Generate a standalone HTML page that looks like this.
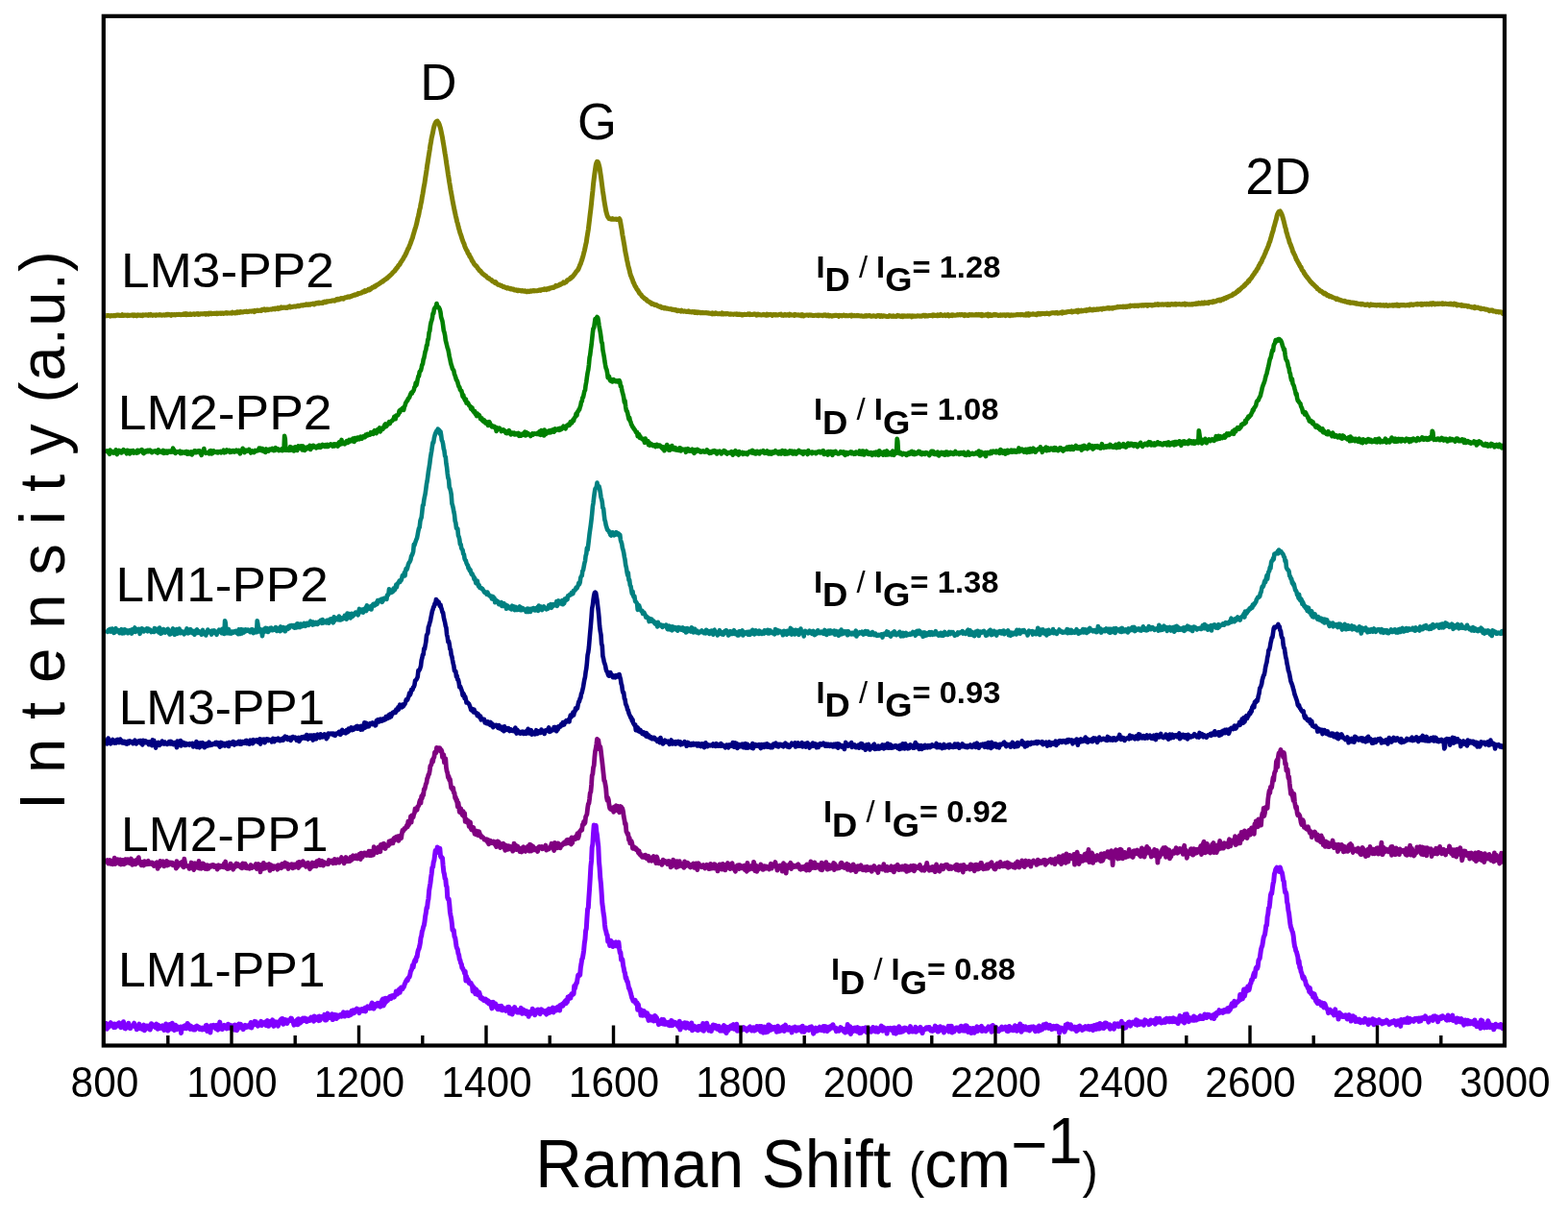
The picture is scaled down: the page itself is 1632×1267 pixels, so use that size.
<!DOCTYPE html>
<html><head><meta charset="utf-8"><style>
html,body{margin:0;padding:0;background:#fff;}
svg{display:block;}
text{font-family:"Liberation Sans",Arial,sans-serif;fill:#000;}
</style></head><body>
<svg width="1632" height="1267" viewBox="0 0 1632 1267">
<rect width="1632" height="1267" fill="#fff"/>
<g id="curves">
<polyline points="110.0,328.8 110.7,328.9 111.3,328.7 112.0,328.5 112.6,328.6 113.3,328.5 114.0,328.8 114.6,329.1 115.3,328.6 115.9,328.5 116.6,328.8 117.3,328.8 117.9,328.7 118.6,328.4 119.2,328.6 119.9,328.8 120.6,328.2 121.2,328.5 121.9,328.0 122.5,328.2 123.2,328.0 123.9,328.5 124.5,328.2 125.2,328.6 125.8,328.6 126.5,328.4 127.2,327.7 127.8,328.3 128.5,328.5 129.1,328.5 129.8,328.0 130.5,328.3 131.1,328.1 131.8,328.2 132.4,328.7 133.1,328.1 133.8,328.4 134.4,328.6 135.1,328.2 135.7,328.3 136.4,328.3 137.1,328.3 137.7,327.9 138.4,328.3 139.0,328.7 139.7,327.8 140.4,328.5 141.0,328.3 141.7,328.0 142.3,328.8 143.0,328.4 143.7,327.8 144.3,328.2 145.0,328.3 145.6,328.1 146.3,328.4 147.0,328.1 147.6,328.3 148.3,328.6 148.9,327.9 149.6,328.2 150.3,328.0 150.9,328.1 151.6,327.7 152.2,327.9 152.9,328.0 153.6,328.3 154.2,328.4 154.9,327.6 155.5,327.8 156.2,328.2 156.9,327.4 157.5,327.9 158.2,328.0 158.8,328.4 159.5,328.2 160.2,327.9 160.8,327.9 161.5,327.9 162.1,328.4 162.8,327.8 163.5,327.9 164.1,328.1 164.8,327.9 165.4,327.9 166.1,327.6 166.8,327.9 167.4,327.8 168.1,328.3 168.7,328.1 169.4,327.9 170.1,328.1 170.7,327.8 171.4,328.2 172.0,327.8 172.7,328.0 173.4,327.4 174.0,327.9 174.7,327.3 175.3,327.2 176.0,327.7 176.7,327.5 177.3,327.8 178.0,328.4 178.6,327.5 179.3,327.5 180.0,327.8 180.6,327.8 181.3,327.6 181.9,327.6 182.6,327.9 183.3,327.8 183.9,327.3 184.6,327.6 185.2,327.6 185.9,327.3 186.6,327.6 187.2,327.3 187.9,327.8 188.5,327.6 189.2,327.5 189.9,327.3 190.5,327.4 191.2,326.8 191.8,327.1 192.5,327.5 193.2,326.7 193.8,327.6 194.5,326.8 195.1,327.5 195.8,327.0 196.5,327.5 197.1,327.3 197.8,326.8 198.4,327.6 199.1,327.6 199.8,327.2 200.4,327.1 201.1,327.1 201.7,326.8 202.4,327.4 203.1,326.9 203.7,327.1 204.4,326.8 205.0,326.8 205.7,326.6 206.4,327.4 207.0,326.9 207.7,327.2 208.3,326.9 209.0,326.7 209.7,326.8 210.3,326.7 211.0,326.9 211.6,326.7 212.3,326.7 213.0,326.4 213.6,326.5 214.3,327.2 214.9,326.5 215.6,326.4 216.3,326.8 216.9,327.1 217.6,326.2 218.2,326.6 218.9,326.4 219.6,326.1 220.2,326.8 220.9,326.5 221.5,326.5 222.2,326.3 222.9,326.6 223.5,326.3 224.2,326.4 224.8,326.1 225.5,326.0 226.2,326.7 226.8,326.2 227.5,326.4 228.1,326.3 228.8,326.1 229.5,326.1 230.1,326.4 230.8,326.1 231.4,326.1 232.1,326.1 232.8,326.4 233.4,326.2 234.1,326.1 234.7,325.8 235.4,325.5 236.1,326.2 236.7,326.2 237.4,325.8 238.0,326.0 238.7,326.0 239.4,326.0 240.0,326.0 240.7,325.5 241.3,326.1 242.0,325.2 242.7,325.8 243.3,325.7 244.0,325.7 244.6,326.0 245.3,325.8 246.0,325.0 246.6,324.8 247.3,325.5 247.9,324.9 248.6,325.2 249.3,325.4 249.9,324.6 250.6,324.4 251.2,325.1 251.9,325.0 252.6,324.8 253.2,324.9 253.9,324.5 254.5,324.3 255.2,324.6 255.9,324.3 256.5,324.1 257.2,324.7 257.8,324.5 258.5,324.5 259.2,324.1 259.8,324.1 260.5,324.0 261.1,323.9 261.8,324.2 262.5,323.8 263.1,324.1 263.8,324.1 264.4,324.5 265.1,323.4 265.8,324.0 266.4,323.7 267.1,323.6 267.7,323.1 268.4,323.4 269.1,323.6 269.7,323.3 270.4,323.3 271.0,323.1 271.7,323.5 272.4,323.1 273.0,322.3 273.7,322.7 274.3,322.3 275.0,321.8 275.7,322.5 276.3,323.0 277.0,322.6 277.6,322.1 278.3,322.1 279.0,322.7 279.6,322.3 280.3,322.2 280.9,322.1 281.6,322.0 282.3,322.2 282.9,322.0 283.6,321.8 284.2,321.4 284.9,321.8 285.6,321.3 286.2,321.8 286.9,321.0 287.5,321.2 288.2,321.2 288.9,320.7 289.5,321.6 290.2,321.4 290.8,320.7 291.5,321.0 292.2,320.8 292.8,319.9 293.5,320.6 294.1,320.5 294.8,320.4 295.5,320.0 296.1,320.2 296.8,320.1 297.4,320.4 298.1,320.1 298.8,319.9 299.4,320.3 300.1,319.6 300.7,319.6 301.4,319.0 302.1,320.0 302.7,319.7 303.4,319.6 304.0,319.5 304.7,319.2 305.4,319.2 306.0,318.9 306.7,318.9 307.3,318.9 308.0,319.2 308.7,318.8 309.3,318.6 310.0,318.3 310.6,318.2 311.3,318.8 312.0,318.4 312.6,318.2 313.3,318.0 313.9,317.7 314.6,317.9 315.3,318.1 315.9,317.6 316.6,317.6 317.2,317.5 317.9,317.5 318.6,316.9 319.2,317.2 319.9,317.0 320.5,317.4 321.2,316.8 321.9,317.1 322.5,317.3 323.2,316.7 323.8,316.5 324.5,316.6 325.2,316.5 325.8,316.1 326.5,316.4 327.1,316.8 327.8,316.0 328.5,315.9 329.1,315.6 329.8,315.9 330.4,315.3 331.1,315.3 331.8,315.9 332.4,315.1 333.1,315.6 333.7,315.6 334.4,315.2 335.1,315.1 335.7,315.5 336.4,314.7 337.0,314.5 337.7,314.1 338.4,314.4 339.0,314.8 339.7,314.5 340.3,313.8 341.0,313.7 341.7,313.7 342.3,313.8 343.0,313.5 343.6,313.6 344.3,313.5 345.0,313.1 345.6,313.1 346.3,313.0 346.9,312.8 347.6,312.9 348.3,313.2 348.9,312.6 349.6,312.3 350.2,311.7 350.9,312.2 351.6,311.3 352.2,311.3 352.9,311.9 353.5,311.7 354.2,311.3 354.9,310.6 355.5,310.9 356.2,310.6 356.8,310.9 357.5,311.2 358.2,310.4 358.8,309.9 359.5,309.7 360.1,309.8 360.8,309.6 361.5,309.1 362.1,309.3 362.8,308.8 363.4,309.3 364.1,309.1 364.8,308.9 365.4,308.2 366.1,308.3 366.7,307.9 367.4,307.6 368.1,307.5 368.7,307.0 369.4,306.7 370.0,307.2 370.7,306.6 371.4,306.5 372.0,306.5 372.7,305.5 373.3,305.5 374.0,305.6 374.7,305.4 375.3,304.9 376.0,305.1 376.6,304.6 377.3,303.9 378.0,303.7 378.6,304.0 379.3,303.6 379.9,302.6 380.6,303.3 381.3,302.8 381.9,302.7 382.6,301.9 383.2,301.6 383.9,301.1 384.6,301.9 385.2,300.7 385.9,300.9 386.5,299.9 387.2,299.8 387.9,299.0 388.5,299.0 389.2,299.0 389.8,298.0 390.5,298.3 391.2,297.7 391.8,296.9 392.5,296.7 393.1,296.3 393.8,296.0 394.5,295.5 395.1,295.0 395.8,294.7 396.4,294.0 397.1,293.5 397.8,293.4 398.4,293.2 399.1,292.0 399.7,292.0 400.4,291.3 401.1,290.7 401.7,290.7 402.4,289.8 403.0,289.8 403.7,288.6 404.4,288.4 405.0,287.6 405.7,286.8 406.3,286.6 407.0,285.8 407.7,285.3 408.3,284.5 409.0,283.5 409.6,283.1 410.3,282.4 411.0,281.9 411.6,280.6 412.3,280.1 412.9,278.8 413.6,278.6 414.3,277.3 414.9,276.2 415.6,275.8 416.2,275.2 416.9,273.4 417.6,272.5 418.2,271.6 418.9,270.4 419.5,269.8 420.2,268.3 420.9,267.1 421.5,266.3 422.2,264.6 422.8,263.6 423.5,261.8 424.2,260.3 424.8,258.7 425.5,258.2 426.1,256.0 426.8,254.5 427.5,252.7 428.1,250.9 428.8,249.0 429.4,247.6 430.1,244.7 430.8,242.4 431.4,240.4 432.1,238.0 432.7,236.2 433.4,233.7 434.1,230.6 434.7,227.7 435.4,225.2 436.0,222.7 436.7,218.4 437.4,216.2 438.0,212.4 438.7,209.6 439.3,205.3 440.0,201.9 440.7,197.7 441.3,193.9 442.0,190.5 442.6,186.2 443.3,181.6 444.0,177.1 444.6,172.5 445.3,168.5 445.9,164.3 446.6,159.9 447.3,155.6 447.9,151.2 448.6,147.5 449.2,143.7 449.9,140.6 450.6,137.6 451.2,134.1 451.9,131.4 452.5,129.6 453.2,127.9 453.9,126.7 454.5,126.4 455.2,126.1 455.8,127.1 456.5,127.9 457.2,129.5 457.8,131.4 458.5,133.7 459.1,136.5 459.8,139.9 460.5,143.3 461.1,147.3 461.8,151.1 462.4,154.9 463.1,159.5 463.8,163.4 464.4,168.0 465.1,172.5 465.7,176.3 466.4,181.3 467.1,185.5 467.7,189.6 468.4,193.6 469.0,197.5 469.7,201.2 470.4,205.1 471.0,208.6 471.7,212.3 472.3,215.2 473.0,218.9 473.7,221.9 474.3,224.8 475.0,227.5 475.6,230.6 476.3,232.5 477.0,235.7 477.6,238.0 478.3,240.3 478.9,242.6 479.6,244.4 480.3,246.5 480.9,248.7 481.6,250.5 482.2,252.3 482.9,253.5 483.6,255.8 484.2,257.5 484.9,259.0 485.5,260.3 486.2,261.1 486.9,263.3 487.5,264.3 488.2,264.8 488.8,266.9 489.5,267.5 490.2,268.7 490.8,270.0 491.5,271.7 492.1,272.2 492.8,273.4 493.5,274.8 494.1,275.7 494.8,276.1 495.4,276.9 496.1,277.4 496.8,278.4 497.4,279.6 498.1,280.3 498.7,281.0 499.4,282.0 500.1,282.1 500.7,283.0 501.4,283.9 502.0,284.5 502.7,285.3 503.4,285.7 504.0,286.1 504.7,286.9 505.3,287.0 506.0,287.4 506.7,288.6 507.3,288.9 508.0,289.5 508.6,289.4 509.3,290.3 510.0,290.7 510.6,291.0 511.3,291.1 511.9,292.1 512.6,292.9 513.3,293.1 513.9,293.2 514.6,293.8 515.2,294.4 515.9,293.7 516.6,294.8 517.2,295.4 517.9,295.8 518.5,296.4 519.2,296.5 519.9,296.6 520.5,296.9 521.2,297.4 521.8,297.2 522.5,297.7 523.2,298.2 523.8,298.8 524.5,298.4 525.1,298.7 525.8,299.0 526.5,299.6 527.1,299.4 527.8,300.1 528.4,299.6 529.1,300.0 529.8,300.2 530.4,300.7 531.1,300.9 531.7,300.3 532.4,300.7 533.1,301.2 533.7,301.1 534.4,301.0 535.0,301.9 535.7,301.9 536.4,302.0 537.0,301.8 537.7,302.4 538.3,302.1 539.0,302.6 539.7,302.1 540.3,302.2 541.0,302.6 541.6,302.4 542.3,302.9 543.0,302.9 543.6,302.6 544.3,302.9 544.9,302.8 545.6,303.3 546.3,302.8 546.9,302.9 547.6,303.4 548.2,303.8 548.9,303.7 549.6,303.1 550.2,303.2 550.9,303.6 551.5,303.1 552.2,302.8 552.9,303.1 553.5,303.2 554.2,302.7 554.8,302.5 555.5,302.5 556.2,303.0 556.8,302.6 557.5,302.7 558.1,302.7 558.8,302.8 559.5,302.4 560.1,302.6 560.8,302.1 561.4,302.1 562.1,301.8 562.8,302.4 563.4,301.9 564.1,301.6 564.7,301.6 565.4,301.5 566.1,301.7 566.7,300.8 567.4,300.9 568.0,300.9 568.7,301.7 569.4,301.0 570.0,300.5 570.7,300.6 571.3,300.9 572.0,300.0 572.7,299.8 573.3,300.1 574.0,299.7 574.6,299.5 575.3,299.0 576.0,299.5 576.6,299.2 577.3,298.7 577.9,298.5 578.6,297.4 579.3,298.0 579.9,297.5 580.6,297.5 581.2,297.3 581.9,296.7 582.6,296.0 583.2,296.4 583.9,295.7 584.5,295.6 585.2,295.2 585.9,294.9 586.5,294.0 587.2,294.7 587.8,294.1 588.5,293.9 589.2,293.8 589.8,292.8 590.5,291.8 591.1,291.7 591.8,291.1 592.5,290.8 593.1,290.5 593.8,289.3 594.4,289.5 595.1,288.3 595.8,288.2 596.4,287.4 597.1,286.6 597.7,285.9 598.4,284.9 599.1,284.0 599.7,282.8 600.4,282.2 601.0,281.7 601.7,280.6 602.4,279.1 603.0,277.6 603.7,275.7 604.3,274.7 605.0,272.5 605.7,270.6 606.3,268.5 607.0,266.3 607.6,263.7 608.3,261.1 609.0,257.9 609.6,254.9 610.3,252.1 610.9,247.6 611.6,243.4 612.3,239.1 612.9,234.2 613.6,228.4 614.2,223.1 614.9,217.6 615.6,211.2 616.2,204.9 616.9,199.0 617.5,192.1 618.2,186.4 618.9,180.8 619.5,176.7 620.2,171.9 620.8,169.6 621.5,168.3 622.2,168.6 622.8,169.8 623.5,172.5 624.1,174.9 624.8,179.7 625.5,184.1 626.1,188.9 626.8,194.3 627.4,198.9 628.1,203.3 628.8,208.3 629.4,212.1 630.1,216.0 630.7,219.5 631.4,222.2 632.1,224.7 632.7,225.9 633.4,226.6 634.0,227.6 634.7,227.8 635.4,227.7 636.0,228.2 636.7,227.9 637.3,227.5 638.0,228.3 638.7,228.1 639.3,228.2 640.0,228.1 640.6,228.3 641.3,228.1 642.0,228.5 642.6,228.2 643.3,228.2 643.9,228.2 644.6,227.7 645.3,229.0 645.9,232.3 646.6,236.2 647.2,239.7 647.9,244.6 648.6,248.3 649.2,251.9 649.9,255.7 650.5,260.0 651.2,263.7 651.9,267.0 652.5,270.5 653.2,273.4 653.8,276.6 654.5,279.0 655.2,281.7 655.8,284.4 656.5,287.0 657.1,288.0 657.8,290.1 658.5,291.7 659.1,293.9 659.8,294.8 660.4,296.5 661.1,298.0 661.8,298.9 662.4,300.1 663.1,301.4 663.7,301.9 664.4,303.1 665.1,304.4 665.7,305.4 666.4,306.1 667.0,306.4 667.7,307.6 668.4,308.7 669.0,309.2 669.7,309.7 670.3,310.0 671.0,311.1 671.7,311.2 672.3,311.6 673.0,312.2 673.6,313.3 674.3,313.4 675.0,314.1 675.6,314.1 676.3,314.9 676.9,314.8 677.6,315.3 678.3,316.4 678.9,316.2 679.6,316.2 680.2,316.6 680.9,317.0 681.6,317.6 682.2,317.4 682.9,317.2 683.5,317.9 684.2,318.3 684.9,318.5 685.5,319.1 686.2,319.1 686.8,319.4 687.5,319.1 688.2,319.8 688.8,320.4 689.5,320.2 690.1,320.2 690.8,320.4 691.5,321.0 692.1,320.4 692.8,320.8 693.4,321.1 694.1,321.3 694.8,321.1 695.4,321.5 696.1,321.5 696.7,321.7 697.4,321.8 698.1,321.6 698.7,322.0 699.4,322.4 700.0,322.0 700.7,322.3 701.4,322.7 702.0,322.3 702.7,322.8 703.3,322.5 704.0,323.3 704.7,323.7 705.3,323.7 706.0,323.1 706.6,323.5 707.3,323.4 708.0,323.5 708.6,324.0 709.3,323.2 709.9,324.0 710.6,323.8 711.3,324.3 711.9,324.0 712.6,323.8 713.2,324.2 713.9,324.4 714.6,324.2 715.2,324.4 715.9,324.2 716.5,323.8 717.2,324.7 717.9,324.7 718.5,324.6 719.2,324.7 719.8,325.0 720.5,324.6 721.2,324.6 721.8,324.8 722.5,325.3 723.1,324.6 723.8,325.4 724.5,324.9 725.1,324.8 725.8,325.6 726.4,325.2 727.1,324.9 727.8,325.2 728.4,325.7 729.1,325.8 729.7,325.3 730.4,325.6 731.1,325.8 731.7,325.4 732.4,325.8 733.0,325.7 733.7,325.6 734.4,325.6 735.0,325.8 735.7,325.9 736.3,325.7 737.0,325.8 737.7,326.3 738.3,326.1 739.0,326.3 739.6,326.4 740.3,326.3 741.0,326.8 741.6,325.9 742.3,326.5 742.9,326.2 743.6,326.8 744.3,326.8 744.9,325.8 745.6,326.1 746.2,326.6 746.9,326.7 747.6,326.7 748.2,326.5 748.9,326.7 749.5,326.8 750.2,326.6 750.9,326.9 751.5,326.0 752.2,326.9 752.8,326.4 753.5,327.0 754.2,326.7 754.8,326.5 755.5,326.9 756.1,326.6 756.8,326.6 757.5,326.4 758.1,326.9 758.8,327.1 759.4,327.3 760.1,326.9 760.8,327.3 761.4,327.0 762.1,327.0 762.7,327.2 763.4,327.4 764.1,327.0 764.7,327.1 765.4,327.1 766.0,327.2 766.7,326.9 767.4,327.5 768.0,327.1 768.7,327.4 769.3,327.0 770.0,327.4 770.7,327.4 771.3,327.2 772.0,327.9 772.6,327.5 773.3,327.9 774.0,327.7 774.6,327.2 775.3,327.3 775.9,327.5 776.6,327.4 777.3,327.5 777.9,327.4 778.6,326.9 779.2,327.4 779.9,326.8 780.6,327.6 781.2,327.3 781.9,327.3 782.5,327.5 783.2,327.6 783.9,327.1 784.5,327.0 785.2,327.2 785.8,326.9 786.5,327.3 787.2,328.0 787.8,327.3 788.5,327.8 789.1,327.2 789.8,327.7 790.5,327.5 791.1,327.6 791.8,327.8 792.4,328.1 793.1,327.7 793.8,327.7 794.4,327.3 795.1,327.8 795.7,327.6 796.4,327.9 797.1,327.6 797.7,328.2 798.4,327.1 799.0,327.6 799.7,327.9 800.4,327.6 801.0,327.4 801.7,327.6 802.3,327.3 803.0,327.7 803.7,328.4 804.3,328.1 805.0,327.4 805.6,327.5 806.3,327.6 807.0,328.0 807.6,327.5 808.3,327.6 808.9,328.0 809.6,328.0 810.3,327.7 810.9,327.5 811.6,327.3 812.2,327.6 812.9,327.2 813.6,328.1 814.2,327.7 814.9,328.0 815.5,328.4 816.2,328.2 816.9,327.5 817.5,328.1 818.2,328.2 818.8,327.7 819.5,327.6 820.2,327.9 820.8,327.5 821.5,328.4 822.1,327.2 822.8,327.6 823.5,327.9 824.1,327.9 824.8,328.0 825.4,328.1 826.1,327.9 826.8,328.4 827.4,327.4 828.1,328.0 828.7,327.8 829.4,328.1 830.1,328.1 830.7,327.8 831.4,327.9 832.0,328.3 832.7,328.2 833.4,327.9 834.0,328.7 834.7,328.8 835.3,327.7 836.0,328.2 836.7,328.9 837.3,328.4 838.0,328.2 838.6,328.1 839.3,328.0 840.0,328.1 840.6,328.0 841.3,328.4 841.9,328.1 842.6,328.1 843.3,327.9 843.9,328.2 844.6,328.0 845.2,328.2 845.9,328.6 846.6,328.4 847.2,328.4 847.9,328.4 848.5,328.3 849.2,328.3 849.9,328.2 850.5,328.5 851.2,328.0 851.8,328.7 852.5,328.4 853.2,328.1 853.8,328.2 854.5,328.2 855.1,328.4 855.8,328.2 856.5,328.7 857.1,328.2 857.8,327.7 858.4,328.2 859.1,327.8 859.8,328.4 860.4,328.8 861.1,328.6 861.7,328.0 862.4,328.2 863.1,329.0 863.7,328.6 864.4,328.5 865.0,328.8 865.7,329.2 866.4,328.9 867.0,328.5 867.7,328.6 868.3,328.7 869.0,328.3 869.7,328.2 870.3,328.6 871.0,328.3 871.6,328.5 872.3,328.6 873.0,329.3 873.6,328.3 874.3,328.5 874.9,328.5 875.6,328.7 876.3,328.9 876.9,328.5 877.6,328.4 878.2,328.1 878.9,328.4 879.6,328.8 880.2,328.7 880.9,328.4 881.5,328.6 882.2,328.7 882.9,328.8 883.5,328.5 884.2,328.6 884.8,328.2 885.5,328.4 886.2,329.2 886.8,328.1 887.5,328.6 888.1,328.8 888.8,328.6 889.5,328.5 890.1,328.7 890.8,328.8 891.4,328.8 892.1,328.2 892.8,328.7 893.4,328.5 894.1,328.6 894.7,328.9 895.4,329.0 896.1,329.1 896.7,328.7 897.4,329.1 898.0,329.2 898.7,329.2 899.4,329.3 900.0,328.8 900.7,328.8 901.3,329.1 902.0,328.5 902.7,329.0 903.3,328.7 904.0,328.8 904.6,328.4 905.3,328.7 906.0,328.9 906.6,329.2 907.3,329.2 907.9,328.9 908.6,328.9 909.3,328.7 909.9,329.1 910.6,328.9 911.2,329.2 911.9,329.5 912.6,329.0 913.2,328.5 913.9,328.7 914.5,328.6 915.2,328.6 915.9,329.4 916.5,329.1 917.2,328.6 917.8,329.2 918.5,329.4 919.2,328.9 919.8,328.8 920.5,328.9 921.1,329.1 921.8,329.2 922.5,329.4 923.1,329.4 923.8,329.4 924.4,329.5 925.1,329.3 925.8,328.6 926.4,329.0 927.1,329.2 927.7,329.0 928.4,329.4 929.1,329.0 929.7,328.8 930.4,329.5 931.0,329.3 931.7,329.2 932.4,329.4 933.0,329.4 933.7,329.2 934.3,328.4 935.0,328.9 935.7,329.0 936.3,328.8 937.0,329.2 937.6,329.5 938.3,328.9 939.0,328.8 939.6,329.7 940.3,329.0 940.9,328.7 941.6,329.1 942.3,329.2 942.9,328.9 943.6,329.3 944.2,328.9 944.9,328.8 945.6,329.1 946.2,329.3 946.9,328.8 947.5,329.1 948.2,329.0 948.9,329.8 949.5,328.8 950.2,329.4 950.8,329.0 951.5,328.9 952.2,329.2 952.8,329.2 953.5,329.3 954.1,329.0 954.8,328.7 955.5,328.7 956.1,329.0 956.8,329.0 957.4,329.2 958.1,328.9 958.8,329.1 959.4,329.2 960.1,328.8 960.7,328.3 961.4,328.3 962.1,328.3 962.7,329.1 963.4,328.4 964.0,329.0 964.7,328.8 965.4,329.1 966.0,328.9 966.7,328.5 967.3,328.5 968.0,328.5 968.7,328.5 969.3,328.3 970.0,328.4 970.6,328.9 971.3,327.9 972.0,328.5 972.6,328.1 973.3,328.4 973.9,328.6 974.6,328.3 975.3,328.6 975.9,327.8 976.6,328.6 977.2,328.1 977.9,328.5 978.6,328.3 979.2,327.5 979.9,328.0 980.5,328.3 981.2,328.7 981.9,328.3 982.5,328.3 983.2,327.8 983.8,328.6 984.5,328.7 985.2,328.2 985.8,328.1 986.5,327.6 987.1,328.4 987.8,328.9 988.5,328.3 989.1,328.5 989.8,328.3 990.4,327.8 991.1,328.5 991.8,327.7 992.4,328.0 993.1,328.1 993.7,328.3 994.4,328.2 995.1,328.2 995.7,327.8 996.4,327.6 997.0,328.0 997.7,327.8 998.4,327.6 999.0,327.6 999.7,327.9 1000.3,327.4 1001.0,327.6 1001.7,327.5 1002.3,328.0 1003.0,328.1 1003.6,328.6 1004.3,327.5 1005.0,327.8 1005.6,328.2 1006.3,327.9 1006.9,327.9 1007.6,328.5 1008.3,327.9 1008.9,327.6 1009.6,327.6 1010.2,328.1 1010.9,328.0 1011.6,327.5 1012.2,327.7 1012.9,328.1 1013.5,328.1 1014.2,327.8 1014.9,328.1 1015.5,328.1 1016.2,327.4 1016.8,327.8 1017.5,328.1 1018.2,327.8 1018.8,327.3 1019.5,327.8 1020.1,328.2 1020.8,328.4 1021.5,327.3 1022.1,328.7 1022.8,327.6 1023.4,328.2 1024.1,328.3 1024.8,328.2 1025.4,328.0 1026.1,327.6 1026.7,328.1 1027.4,327.7 1028.1,327.2 1028.7,328.8 1029.4,328.2 1030.0,328.5 1030.7,327.7 1031.4,328.4 1032.0,328.4 1032.7,328.4 1033.3,328.0 1034.0,327.6 1034.7,327.9 1035.3,327.3 1036.0,327.5 1036.6,328.0 1037.3,327.7 1038.0,328.0 1038.6,328.0 1039.3,328.6 1039.9,328.4 1040.6,328.0 1041.3,328.4 1041.9,327.8 1042.6,328.0 1043.2,328.3 1043.9,327.7 1044.6,328.0 1045.2,327.7 1045.9,328.1 1046.5,328.6 1047.2,327.8 1047.9,328.1 1048.5,327.8 1049.2,327.7 1049.8,327.7 1050.5,328.5 1051.2,328.8 1051.8,328.2 1052.5,327.8 1053.1,328.2 1053.8,327.9 1054.5,328.2 1055.1,328.1 1055.8,328.0 1056.4,328.1 1057.1,327.8 1057.8,327.8 1058.4,327.4 1059.1,327.7 1059.7,327.4 1060.4,327.8 1061.1,327.5 1061.7,327.8 1062.4,327.9 1063.0,327.3 1063.7,327.5 1064.4,327.4 1065.0,327.9 1065.7,328.1 1066.3,327.8 1067.0,327.5 1067.7,328.0 1068.3,327.0 1069.0,327.9 1069.6,327.2 1070.3,326.6 1071.0,328.2 1071.6,327.8 1072.3,327.0 1072.9,327.3 1073.6,327.2 1074.3,327.2 1074.9,326.7 1075.6,326.9 1076.2,327.2 1076.9,327.1 1077.6,327.4 1078.2,327.0 1078.9,327.7 1079.5,326.7 1080.2,327.0 1080.9,326.3 1081.5,326.4 1082.2,327.2 1082.8,326.5 1083.5,326.9 1084.2,326.6 1084.8,326.3 1085.5,326.5 1086.1,326.4 1086.8,326.4 1087.5,326.7 1088.1,326.6 1088.8,326.2 1089.4,326.1 1090.1,326.4 1090.8,326.2 1091.4,326.5 1092.1,327.0 1092.7,326.4 1093.4,326.1 1094.1,326.0 1094.7,325.7 1095.4,325.7 1096.0,325.6 1096.7,325.7 1097.4,325.7 1098.0,326.0 1098.7,325.6 1099.3,325.6 1100.0,325.3 1100.7,326.1 1101.3,325.7 1102.0,326.0 1102.6,325.7 1103.3,325.8 1104.0,325.3 1104.6,325.5 1105.3,326.0 1105.9,324.8 1106.6,325.5 1107.3,325.6 1107.9,325.1 1108.6,325.2 1109.2,325.3 1109.9,324.7 1110.6,324.9 1111.2,324.5 1111.9,324.5 1112.5,324.5 1113.2,324.6 1113.9,324.6 1114.5,324.6 1115.2,324.0 1115.8,325.0 1116.5,324.7 1117.2,324.5 1117.8,324.1 1118.5,324.1 1119.1,324.3 1119.8,324.2 1120.5,323.5 1121.1,324.2 1121.8,324.8 1122.4,323.2 1123.1,324.1 1123.8,323.8 1124.4,323.6 1125.1,324.0 1125.7,323.1 1126.4,323.5 1127.1,323.8 1127.7,323.3 1128.4,323.1 1129.0,323.2 1129.7,323.0 1130.4,323.6 1131.0,322.7 1131.7,323.2 1132.3,322.5 1133.0,323.0 1133.7,322.7 1134.3,321.9 1135.0,322.7 1135.6,322.3 1136.3,322.4 1137.0,322.9 1137.6,322.1 1138.3,322.0 1138.9,322.7 1139.6,322.3 1140.3,322.6 1140.9,322.2 1141.6,321.8 1142.2,321.9 1142.9,322.3 1143.6,322.1 1144.2,321.8 1144.9,321.7 1145.5,321.6 1146.2,321.4 1146.9,322.1 1147.5,321.5 1148.2,321.0 1148.8,321.2 1149.5,321.5 1150.2,321.4 1150.8,321.1 1151.5,320.9 1152.1,321.0 1152.8,320.4 1153.5,320.5 1154.1,321.1 1154.8,320.6 1155.4,320.8 1156.1,321.0 1156.8,320.8 1157.4,320.5 1158.1,321.1 1158.7,320.6 1159.4,320.2 1160.1,320.5 1160.7,320.3 1161.4,319.9 1162.0,320.1 1162.7,320.0 1163.4,319.3 1164.0,319.8 1164.7,319.7 1165.3,319.6 1166.0,319.2 1166.7,319.5 1167.3,319.6 1168.0,319.5 1168.6,319.1 1169.3,319.6 1170.0,319.0 1170.6,319.2 1171.3,319.6 1171.9,318.9 1172.6,318.9 1173.3,319.4 1173.9,318.9 1174.6,318.8 1175.2,318.9 1175.9,319.1 1176.6,318.1 1177.2,318.5 1177.9,318.4 1178.5,318.3 1179.2,318.3 1179.9,318.3 1180.5,318.6 1181.2,318.1 1181.8,318.4 1182.5,318.4 1183.2,318.0 1183.8,318.3 1184.5,318.7 1185.1,318.2 1185.8,317.9 1186.5,318.0 1187.1,317.7 1187.8,318.1 1188.4,318.2 1189.1,317.6 1189.8,317.8 1190.4,318.2 1191.1,317.6 1191.7,317.8 1192.4,317.4 1193.1,317.4 1193.7,317.5 1194.4,318.3 1195.0,317.5 1195.7,317.4 1196.4,317.4 1197.0,317.5 1197.7,317.7 1198.3,317.5 1199.0,318.0 1199.7,317.5 1200.3,317.8 1201.0,317.4 1201.6,317.5 1202.3,316.9 1203.0,317.3 1203.6,317.3 1204.3,317.2 1204.9,316.6 1205.6,317.5 1206.3,317.1 1206.9,317.1 1207.6,317.1 1208.2,317.1 1208.9,317.3 1209.6,316.8 1210.2,316.9 1210.9,317.2 1211.5,317.2 1212.2,317.0 1212.9,316.9 1213.5,316.8 1214.2,317.1 1214.8,317.4 1215.5,316.7 1216.2,317.5 1216.8,317.3 1217.5,316.9 1218.1,317.3 1218.8,316.6 1219.5,316.5 1220.1,316.6 1220.8,316.9 1221.4,316.9 1222.1,316.8 1222.8,317.0 1223.4,316.3 1224.1,317.1 1224.7,316.5 1225.4,316.8 1226.1,316.8 1226.7,316.6 1227.4,316.5 1228.0,316.6 1228.7,316.9 1229.4,317.1 1230.0,317.1 1230.7,316.6 1231.3,316.6 1232.0,316.6 1232.7,317.0 1233.3,316.2 1234.0,317.2 1234.6,316.6 1235.3,316.5 1236.0,316.8 1236.6,317.0 1237.3,316.8 1237.9,317.0 1238.6,316.7 1239.3,317.0 1239.9,317.0 1240.6,316.5 1241.2,317.0 1241.9,316.6 1242.6,316.5 1243.2,316.2 1243.9,316.3 1244.5,316.6 1245.2,315.9 1245.9,316.5 1246.5,316.3 1247.2,316.3 1247.8,315.5 1248.5,316.0 1249.2,316.2 1249.8,315.7 1250.5,315.9 1251.1,315.1 1251.8,315.9 1252.5,315.5 1253.1,315.9 1253.8,315.0 1254.4,315.7 1255.1,315.3 1255.8,315.5 1256.4,314.9 1257.1,314.9 1257.7,315.7 1258.4,314.6 1259.1,314.6 1259.7,314.6 1260.4,314.2 1261.0,314.8 1261.7,314.8 1262.4,314.0 1263.0,313.5 1263.7,314.2 1264.3,314.1 1265.0,313.9 1265.7,313.8 1266.3,313.0 1267.0,313.1 1267.6,312.5 1268.3,312.3 1269.0,312.9 1269.6,312.2 1270.3,312.9 1270.9,312.0 1271.6,311.6 1272.3,311.8 1272.9,311.9 1273.6,311.2 1274.2,310.5 1274.9,310.7 1275.6,310.8 1276.2,309.9 1276.9,309.6 1277.5,309.8 1278.2,309.3 1278.9,308.6 1279.5,308.5 1280.2,308.0 1280.8,308.0 1281.5,307.6 1282.2,307.6 1282.8,307.1 1283.5,306.0 1284.1,306.2 1284.8,305.9 1285.5,305.4 1286.1,305.1 1286.8,304.2 1287.4,303.6 1288.1,303.7 1288.8,302.6 1289.4,301.8 1290.1,302.2 1290.7,301.2 1291.4,300.8 1292.1,299.9 1292.7,299.3 1293.4,298.8 1294.0,298.4 1294.7,298.0 1295.4,296.5 1296.0,296.8 1296.7,295.5 1297.3,294.8 1298.0,294.6 1298.7,293.7 1299.3,292.4 1300.0,292.7 1300.6,291.1 1301.3,290.6 1302.0,289.7 1302.6,289.2 1303.3,287.7 1303.9,287.3 1304.6,285.8 1305.3,285.4 1305.9,283.8 1306.6,283.0 1307.2,282.6 1307.9,281.1 1308.6,279.9 1309.2,279.5 1309.9,277.8 1310.5,276.2 1311.2,275.5 1311.9,273.7 1312.5,273.2 1313.2,271.9 1313.8,270.1 1314.5,268.7 1315.2,267.6 1315.8,266.1 1316.5,264.4 1317.1,263.3 1317.8,261.0 1318.5,259.9 1319.1,258.3 1319.8,256.6 1320.4,255.0 1321.1,252.7 1321.8,251.3 1322.4,249.1 1323.1,246.8 1323.7,244.4 1324.4,242.1 1325.1,240.2 1325.7,237.3 1326.4,235.1 1327.0,232.8 1327.7,230.2 1328.4,227.9 1329.0,225.0 1329.7,222.8 1330.3,221.8 1331.0,220.4 1331.7,220.2 1332.3,219.9 1333.0,221.0 1333.6,222.1 1334.3,223.8 1335.0,225.9 1335.6,228.2 1336.3,230.7 1336.9,233.3 1337.6,236.2 1338.3,238.3 1338.9,241.5 1339.6,243.3 1340.2,246.0 1340.9,247.9 1341.6,249.9 1342.2,252.6 1342.9,253.9 1343.5,255.5 1344.2,257.4 1344.9,259.2 1345.5,261.7 1346.2,262.7 1346.8,264.4 1347.5,265.4 1348.2,267.2 1348.8,268.8 1349.5,270.5 1350.1,271.1 1350.8,272.8 1351.5,274.0 1352.1,274.9 1352.8,276.4 1353.4,277.5 1354.1,278.0 1354.8,280.1 1355.4,281.2 1356.1,281.9 1356.7,282.7 1357.4,284.6 1358.1,285.2 1358.7,286.4 1359.4,287.5 1360.0,287.8 1360.7,289.1 1361.4,289.7 1362.0,290.6 1362.7,291.4 1363.3,292.2 1364.0,293.3 1364.7,293.8 1365.3,294.5 1366.0,295.1 1366.6,296.0 1367.3,296.3 1368.0,297.1 1368.6,297.8 1369.3,298.3 1369.9,299.0 1370.6,299.4 1371.3,300.8 1371.9,301.1 1372.6,301.4 1373.2,301.7 1373.9,302.9 1374.6,302.8 1375.2,303.2 1375.9,303.8 1376.5,304.2 1377.2,305.0 1377.9,304.9 1378.5,306.0 1379.2,305.5 1379.8,306.3 1380.5,306.2 1381.2,307.4 1381.8,307.1 1382.5,307.5 1383.1,308.1 1383.8,308.6 1384.5,308.2 1385.1,308.7 1385.8,308.7 1386.4,309.4 1387.1,309.6 1387.8,309.8 1388.4,310.0 1389.1,310.3 1389.7,310.5 1390.4,311.1 1391.1,311.6 1391.7,310.8 1392.4,311.6 1393.0,311.7 1393.7,312.2 1394.4,312.0 1395.0,312.4 1395.7,312.4 1396.3,313.1 1397.0,313.1 1397.7,313.2 1398.3,313.5 1399.0,313.5 1399.6,313.2 1400.3,314.1 1401.0,314.1 1401.6,314.1 1402.3,314.6 1402.9,314.8 1403.6,314.3 1404.3,314.5 1404.9,315.3 1405.6,315.4 1406.2,314.9 1406.9,314.9 1407.6,315.1 1408.2,315.3 1408.9,315.1 1409.5,315.7 1410.2,315.4 1410.9,315.5 1411.5,316.2 1412.2,315.8 1412.8,316.1 1413.5,316.4 1414.2,316.5 1414.8,316.3 1415.5,316.5 1416.1,316.3 1416.8,317.1 1417.5,316.9 1418.1,316.4 1418.8,316.8 1419.4,317.1 1420.1,317.1 1420.8,317.5 1421.4,317.5 1422.1,316.9 1422.7,317.1 1423.4,316.8 1424.1,317.3 1424.7,317.3 1425.4,318.1 1426.0,317.4 1426.7,316.8 1427.4,317.3 1428.0,317.5 1428.7,317.2 1429.3,317.3 1430.0,317.5 1430.7,317.7 1431.3,317.6 1432.0,317.4 1432.6,318.0 1433.3,317.6 1434.0,317.6 1434.6,317.4 1435.3,317.6 1435.9,318.0 1436.6,317.4 1437.3,317.8 1437.9,318.1 1438.6,317.8 1439.2,318.0 1439.9,317.6 1440.6,318.3 1441.2,318.3 1441.9,318.0 1442.5,317.4 1443.2,317.6 1443.9,318.2 1444.5,318.5 1445.2,318.0 1445.8,318.3 1446.5,317.8 1447.2,317.9 1447.8,317.9 1448.5,318.0 1449.1,317.5 1449.8,318.2 1450.5,318.3 1451.1,317.5 1451.8,317.5 1452.4,318.0 1453.1,317.6 1453.8,317.1 1454.4,318.1 1455.1,317.8 1455.7,317.6 1456.4,318.4 1457.1,317.8 1457.7,317.5 1458.4,317.7 1459.0,317.4 1459.7,317.4 1460.4,317.7 1461.0,317.4 1461.7,317.4 1462.3,318.0 1463.0,317.8 1463.7,317.7 1464.3,317.6 1465.0,317.6 1465.6,317.8 1466.3,317.4 1467.0,317.9 1467.6,317.0 1468.3,317.2 1468.9,316.8 1469.6,317.1 1470.3,317.3 1470.9,317.6 1471.6,316.9 1472.2,317.1 1472.9,316.9 1473.6,316.8 1474.2,316.6 1474.9,317.0 1475.5,316.4 1476.2,316.9 1476.9,316.8 1477.5,316.6 1478.2,316.5 1478.8,316.3 1479.5,317.3 1480.2,316.3 1480.8,317.1 1481.5,316.8 1482.1,316.5 1482.8,316.2 1483.5,316.8 1484.1,317.0 1484.8,316.2 1485.4,316.3 1486.1,316.7 1486.8,316.5 1487.4,316.9 1488.1,316.1 1488.7,316.5 1489.4,315.9 1490.1,316.9 1490.7,316.0 1491.4,315.6 1492.0,316.2 1492.7,316.2 1493.4,316.8 1494.0,316.1 1494.7,316.2 1495.3,316.3 1496.0,316.6 1496.7,316.1 1497.3,316.5 1498.0,316.3 1498.6,316.1 1499.3,316.2 1500.0,316.2 1500.6,315.9 1501.3,316.6 1501.9,315.8 1502.6,316.6 1503.3,316.5 1503.9,316.3 1504.6,316.1 1505.2,316.3 1505.9,316.5 1506.6,316.6 1507.2,316.5 1507.9,316.8 1508.5,316.3 1509.2,316.6 1509.9,316.1 1510.5,316.9 1511.2,316.7 1511.8,316.6 1512.5,317.2 1513.2,317.1 1513.8,316.1 1514.5,317.0 1515.1,316.6 1515.8,317.4 1516.5,317.9 1517.1,317.1 1517.8,317.4 1518.4,317.4 1519.1,317.6 1519.8,317.8 1520.4,318.1 1521.1,317.5 1521.7,318.3 1522.4,317.7 1523.1,318.1 1523.7,318.5 1524.4,318.5 1525.0,318.1 1525.7,318.2 1526.4,318.4 1527.0,318.6 1527.7,319.1 1528.3,318.5 1529.0,319.1 1529.7,319.3 1530.3,319.4 1531.0,319.5 1531.6,319.9 1532.3,319.7 1533.0,320.0 1533.6,320.0 1534.3,320.5 1534.9,319.5 1535.6,320.6 1536.3,320.2 1536.9,320.3 1537.6,320.3 1538.2,320.1 1538.9,320.7 1539.6,320.7 1540.2,321.2 1540.9,320.8 1541.5,321.8 1542.2,321.5 1542.9,321.5 1543.5,321.5 1544.2,321.6 1544.8,321.6 1545.5,321.9 1546.2,322.2 1546.8,322.3 1547.5,322.1 1548.1,322.5 1548.8,322.5 1549.5,322.9 1550.1,323.6 1550.8,323.3 1551.4,323.2 1552.1,322.9 1552.8,323.1 1553.4,323.1 1554.1,324.0 1554.7,323.7 1555.4,324.0 1556.1,324.0 1556.7,324.3 1557.4,324.8 1558.0,324.3 1558.7,324.5 1559.4,324.5 1560.0,325.1 1560.7,324.7 1561.3,324.8 1562.0,324.8 1562.7,324.9 1563.3,325.6 1564.0,326.4 1564.6,325.4" fill="none" stroke="#808000" stroke-width="5.0" stroke-linejoin="round"/>
<polyline points="110.0,471.8 110.7,471.0 111.3,469.5 112.0,470.4 112.6,470.4 113.3,469.9 114.0,472.8 114.6,468.6 115.3,471.1 115.9,471.0 116.6,470.0 117.3,470.8 117.9,471.5 118.6,470.7 119.2,471.0 119.9,471.3 120.6,468.3 121.2,472.1 121.9,473.0 122.5,471.5 123.2,471.5 123.9,468.9 124.5,470.3 125.2,469.5 125.8,469.7 126.5,471.4 127.2,469.4 127.8,470.1 128.5,468.2 129.1,470.1 129.8,470.3 130.5,469.4 131.1,469.4 131.8,472.3 132.4,468.8 133.1,469.0 133.8,469.2 134.4,471.4 135.1,472.4 135.7,470.4 136.4,469.3 137.1,469.6 137.7,471.2 138.4,469.0 139.0,471.6 139.7,471.5 140.4,470.1 141.0,470.7 141.7,470.8 142.3,471.7 143.0,468.8 143.7,471.2 144.3,469.5 145.0,469.1 145.6,470.0 146.3,469.7 147.0,468.8 147.6,468.1 148.3,468.9 148.9,471.5 149.6,472.1 150.3,470.6 150.9,471.2 151.6,469.3 152.2,469.8 152.9,470.2 153.6,468.7 154.2,468.8 154.9,470.0 155.5,469.6 156.2,468.8 156.9,470.4 157.5,469.7 158.2,471.1 158.8,470.0 159.5,469.7 160.2,470.2 160.8,469.8 161.5,469.3 162.1,469.6 162.8,470.9 163.5,470.8 164.1,471.5 164.8,468.3 165.4,469.7 166.1,469.7 166.8,470.4 167.4,469.7 168.1,469.7 168.7,471.1 169.4,470.5 170.1,469.0 170.7,471.8 171.4,471.4 172.0,469.7 172.7,471.3 173.4,469.6 174.0,471.7 174.7,470.2 175.3,469.6 176.0,470.1 176.7,469.7 177.3,470.7 178.0,470.7 178.6,470.6 179.3,470.0 180.0,466.6 180.6,470.7 181.3,468.5 181.9,470.9 182.6,471.9 183.3,471.0 183.9,470.3 184.6,470.5 185.2,470.6 185.9,470.1 186.6,470.1 187.2,469.7 187.9,472.1 188.5,470.8 189.2,471.8 189.9,470.5 190.5,470.9 191.2,470.6 191.8,471.3 192.5,471.7 193.2,471.1 193.8,470.1 194.5,470.0 195.1,472.7 195.8,470.6 196.5,470.5 197.1,472.5 197.8,472.1 198.4,471.5 199.1,470.4 199.8,473.5 200.4,471.3 201.1,471.5 201.7,470.7 202.4,469.3 203.1,469.4 203.7,471.3 204.4,471.3 205.0,470.6 205.7,469.6 206.4,469.3 207.0,470.5 207.7,469.3 208.3,471.8 209.0,472.1 209.7,473.9 210.3,471.8 211.0,470.2 211.6,469.9 212.3,467.0 213.0,470.1 213.6,470.6 214.3,471.8 214.9,471.4 215.6,471.4 216.3,471.0 216.9,471.5 217.6,472.3 218.2,469.5 218.9,470.2 219.6,469.1 220.2,472.4 220.9,472.1 221.5,471.5 222.2,469.3 222.9,470.8 223.5,470.3 224.2,470.6 224.8,470.3 225.5,471.1 226.2,470.1 226.8,471.4 227.5,470.7 228.1,470.1 228.8,470.3 229.5,469.9 230.1,471.3 230.8,470.1 231.4,470.7 232.1,469.9 232.8,468.7 233.4,471.3 234.1,469.1 234.7,471.0 235.4,470.7 236.1,468.4 236.7,469.1 237.4,469.6 238.0,469.2 238.7,468.8 239.4,470.9 240.0,469.8 240.7,470.5 241.3,469.5 242.0,470.3 242.7,469.1 243.3,469.9 244.0,470.6 244.6,469.9 245.3,469.4 246.0,468.6 246.6,470.0 247.3,470.2 247.9,469.5 248.6,468.9 249.3,470.3 249.9,472.4 250.6,469.3 251.2,470.0 251.9,470.0 252.6,466.8 253.2,469.7 253.9,468.8 254.5,471.1 255.2,469.2 255.9,468.6 256.5,469.2 257.2,469.6 257.8,468.8 258.5,469.3 259.2,467.9 259.8,469.1 260.5,470.2 261.1,471.5 261.8,470.0 262.5,469.5 263.1,470.5 263.8,470.3 264.4,471.0 265.1,470.3 265.8,469.0 266.4,469.4 267.1,469.3 267.7,469.4 268.4,469.2 269.1,468.1 269.7,466.7 270.4,468.2 271.0,466.7 271.7,469.0 272.4,468.9 273.0,467.0 273.7,469.6 274.3,469.7 275.0,468.9 275.7,470.6 276.3,470.8 277.0,467.4 277.6,469.8 278.3,469.1 279.0,469.1 279.6,469.6 280.3,467.8 280.9,467.9 281.6,467.6 282.3,467.6 282.9,468.3 283.6,466.8 284.2,467.2 284.9,469.0 285.6,468.2 286.2,468.7 286.9,466.2 287.5,467.3 288.2,467.6 288.9,468.2 289.5,467.5 290.2,469.1 290.8,468.0 291.5,468.0 292.2,468.0 292.8,468.7 293.5,467.4 294.1,469.1 294.8,468.3 295.5,468.0 296.1,453.8 296.8,457.1 297.4,468.8 298.1,468.7 298.8,468.0 299.4,468.5 300.1,467.7 300.7,468.9 301.4,467.4 302.1,465.1 302.7,468.8 303.4,467.4 304.0,466.0 304.7,467.0 305.4,466.2 306.0,469.5 306.7,467.6 307.3,465.3 308.0,467.6 308.7,466.5 309.3,469.0 310.0,465.7 310.6,464.3 311.3,466.8 312.0,466.3 312.6,466.2 313.3,464.3 313.9,467.0 314.6,468.4 315.3,464.4 315.9,467.7 316.6,465.7 317.2,468.9 317.9,466.7 318.6,466.0 319.2,467.3 319.9,466.6 320.5,465.4 321.2,466.7 321.9,465.3 322.5,463.9 323.2,468.0 323.8,465.3 324.5,465.0 325.2,465.9 325.8,463.8 326.5,464.0 327.1,464.8 327.8,464.7 328.5,465.3 329.1,466.4 329.8,464.6 330.4,465.6 331.1,465.6 331.8,463.7 332.4,465.0 333.1,463.7 333.7,465.8 334.4,465.1 335.1,464.5 335.7,462.9 336.4,464.4 337.0,463.4 337.7,464.9 338.4,463.9 339.0,463.1 339.7,464.9 340.3,464.6 341.0,463.0 341.7,464.9 342.3,463.2 343.0,463.0 343.6,463.4 344.3,462.4 345.0,462.6 345.6,462.8 346.3,464.6 346.9,464.4 347.6,462.4 348.3,464.3 348.9,462.4 349.6,462.7 350.2,463.2 350.9,462.4 351.6,464.6 352.2,462.1 352.9,460.4 353.5,463.0 354.2,461.0 354.9,461.0 355.5,457.9 356.2,462.1 356.8,461.8 357.5,461.6 358.2,461.7 358.8,462.3 359.5,460.3 360.1,461.2 360.8,459.2 361.5,459.5 362.1,460.9 362.8,460.0 363.4,457.9 364.1,459.6 364.8,458.9 365.4,458.0 366.1,459.2 366.7,458.1 367.4,456.6 368.1,456.9 368.7,459.9 369.4,456.1 370.0,457.8 370.7,458.1 371.4,457.9 372.0,455.6 372.7,456.4 373.3,456.7 374.0,457.2 374.7,455.4 375.3,454.6 376.0,456.8 376.6,456.7 377.3,455.6 378.0,454.3 378.6,455.2 379.3,454.6 379.9,455.2 380.6,452.6 381.3,453.9 381.9,453.3 382.6,452.0 383.2,453.2 383.9,452.7 384.6,451.9 385.2,452.5 385.9,450.2 386.5,451.4 387.2,451.6 387.9,451.2 388.5,451.7 389.2,448.9 389.8,448.2 390.5,449.8 391.2,449.7 391.8,451.1 392.5,449.1 393.1,447.1 393.8,448.6 394.5,446.4 395.1,445.3 395.8,449.4 396.4,446.5 397.1,446.5 397.8,445.9 398.4,446.8 399.1,444.7 399.7,445.3 400.4,442.3 401.1,441.5 401.7,444.1 402.4,443.6 403.0,442.1 403.7,441.3 404.4,440.7 405.0,439.2 405.7,441.1 406.3,439.5 407.0,438.8 407.7,438.1 408.3,438.2 409.0,437.0 409.6,436.6 410.3,433.9 411.0,435.1 411.6,436.2 412.3,432.6 412.9,432.3 413.6,432.7 414.3,432.0 414.9,430.9 415.6,427.7 416.2,429.2 416.9,426.6 417.6,426.1 418.2,426.8 418.9,425.0 419.5,425.3 420.2,426.9 420.9,423.4 421.5,422.4 422.2,419.6 422.8,418.9 423.5,417.3 424.2,416.9 424.8,415.1 425.5,414.5 426.1,413.8 426.8,411.7 427.5,410.0 428.1,408.8 428.8,409.5 429.4,407.7 430.1,407.4 430.8,405.9 431.4,402.9 432.1,402.5 432.7,398.5 433.4,401.0 434.1,398.1 434.7,394.7 435.4,391.8 436.0,391.6 436.7,387.1 437.4,386.2 438.0,385.7 438.7,382.7 439.3,379.7 440.0,378.9 440.7,374.1 441.3,372.9 442.0,369.2 442.6,366.0 443.3,364.4 444.0,359.7 444.6,359.6 445.3,353.6 445.9,353.0 446.6,346.2 447.3,344.6 447.9,339.2 448.6,335.6 449.2,333.9 449.9,331.3 450.6,326.2 451.2,326.3 451.9,321.8 452.5,320.9 453.2,319.7 453.9,319.1 454.5,316.0 455.2,320.0 455.8,319.5 456.5,319.7 457.2,320.8 457.8,322.2 458.5,325.1 459.1,330.1 459.8,332.2 460.5,334.5 461.1,338.6 461.8,344.3 462.4,345.7 463.1,348.9 463.8,354.4 464.4,356.7 465.1,359.5 465.7,362.0 466.4,363.9 467.1,367.3 467.7,370.9 468.4,373.9 469.0,377.1 469.7,379.8 470.4,381.8 471.0,384.1 471.7,384.9 472.3,385.8 473.0,389.6 473.7,391.1 474.3,393.3 475.0,395.5 475.6,396.1 476.3,397.9 477.0,400.7 477.6,402.4 478.3,403.1 478.9,405.8 479.6,406.4 480.3,406.9 480.9,409.4 481.6,412.7 482.2,411.1 482.9,414.3 483.6,415.7 484.2,417.0 484.9,415.5 485.5,419.7 486.2,418.7 486.9,419.3 487.5,420.3 488.2,422.1 488.8,422.5 489.5,423.1 490.2,425.6 490.8,424.2 491.5,424.7 492.1,427.6 492.8,428.2 493.5,429.4 494.1,427.8 494.8,430.9 495.4,431.0 496.1,433.1 496.8,430.5 497.4,432.7 498.1,432.8 498.7,432.0 499.4,433.6 500.1,436.2 500.7,435.1 501.4,435.4 502.0,437.7 502.7,438.4 503.4,438.9 504.0,437.4 504.7,438.8 505.3,440.4 506.0,439.1 506.7,439.4 507.3,441.6 508.0,442.9 508.6,440.3 509.3,439.2 510.0,440.8 510.6,441.7 511.3,443.1 511.9,444.3 512.6,443.8 513.3,443.6 513.9,444.8 514.6,444.0 515.2,445.3 515.9,445.0 516.6,448.9 517.2,447.2 517.9,445.6 518.5,445.8 519.2,446.6 519.9,445.6 520.5,446.8 521.2,447.1 521.8,449.1 522.5,447.9 523.2,447.7 523.8,447.3 524.5,447.7 525.1,449.1 525.8,449.2 526.5,450.8 527.1,449.1 527.8,451.1 528.4,450.4 529.1,450.3 529.8,448.2 530.4,449.1 531.1,451.5 531.7,452.4 532.4,451.2 533.1,451.9 533.7,450.7 534.4,450.9 535.0,450.6 535.7,452.5 536.4,451.9 537.0,451.4 537.7,451.3 538.3,452.4 539.0,452.2 539.7,451.0 540.3,453.8 541.0,452.3 541.6,452.0 542.3,453.7 543.0,453.2 543.6,452.0 544.3,452.7 544.9,451.0 545.6,451.5 546.3,449.7 546.9,453.5 547.6,450.1 548.2,452.9 548.9,451.2 549.6,451.1 550.2,451.9 550.9,452.4 551.5,452.7 552.2,454.0 552.9,452.4 553.5,452.9 554.2,451.3 554.8,452.7 555.5,452.0 556.2,451.3 556.8,451.6 557.5,451.6 558.1,451.8 558.8,452.0 559.5,450.9 560.1,450.6 560.8,452.1 561.4,449.4 562.1,450.5 562.8,452.8 563.4,448.0 564.1,450.1 564.7,451.5 565.4,448.9 566.1,453.4 566.7,447.6 567.4,451.9 568.0,452.0 568.7,451.1 569.4,449.8 570.0,450.3 570.7,448.8 571.3,450.5 572.0,448.3 572.7,449.1 573.3,450.3 574.0,447.9 574.6,448.5 575.3,449.0 576.0,447.1 576.6,449.7 577.3,448.7 577.9,446.4 578.6,447.9 579.3,446.9 579.9,446.8 580.6,447.4 581.2,446.3 581.9,447.9 582.6,445.9 583.2,447.5 583.9,446.1 584.5,446.8 585.2,445.0 585.9,444.7 586.5,443.7 587.2,445.3 587.8,445.3 588.5,446.3 589.2,445.0 589.8,443.4 590.5,442.5 591.1,442.7 591.8,441.8 592.5,442.9 593.1,441.8 593.8,439.2 594.4,438.8 595.1,440.4 595.8,438.5 596.4,437.1 597.1,437.9 597.7,435.3 598.4,434.5 599.1,433.3 599.7,430.5 600.4,432.5 601.0,428.9 601.7,428.3 602.4,426.6 603.0,426.6 603.7,424.0 604.3,422.3 605.0,418.4 605.7,417.9 606.3,414.0 607.0,413.4 607.6,410.7 608.3,407.3 609.0,406.3 609.6,401.1 610.3,397.4 610.9,392.8 611.6,388.1 612.3,384.7 612.9,380.0 613.6,372.3 614.2,369.7 614.9,363.8 615.6,358.9 616.2,353.2 616.9,346.4 617.5,341.9 618.2,341.3 618.9,336.3 619.5,332.0 620.2,332.4 620.8,331.1 621.5,329.9 622.2,330.7 622.8,333.7 623.5,338.8 624.1,342.1 624.8,345.9 625.5,350.9 626.1,355.9 626.8,357.5 627.4,364.1 628.1,367.9 628.8,371.6 629.4,376.2 630.1,380.2 630.7,383.2 631.4,384.7 632.1,388.2 632.7,393.1 633.4,391.4 634.0,392.1 634.7,395.3 635.4,396.4 636.0,396.7 636.7,395.1 637.3,397.5 638.0,395.5 638.7,395.1 639.3,395.7 640.0,396.3 640.6,397.2 641.3,397.1 642.0,396.4 642.6,397.4 643.3,396.5 643.9,397.4 644.6,396.1 645.3,397.6 645.9,402.2 646.6,402.1 647.2,405.8 647.9,408.7 648.6,411.1 649.2,413.9 649.9,418.8 650.5,417.2 651.2,423.6 651.9,427.7 652.5,427.7 653.2,430.0 653.8,433.0 654.5,436.3 655.2,434.9 655.8,438.1 656.5,439.5 657.1,441.9 657.8,442.9 658.5,444.8 659.1,444.9 659.8,446.7 660.4,447.0 661.1,448.0 661.8,449.6 662.4,450.5 663.1,450.2 663.7,454.1 664.4,452.9 665.1,452.3 665.7,455.7 666.4,454.3 667.0,456.3 667.7,456.2 668.4,457.1 669.0,457.5 669.7,457.1 670.3,458.3 671.0,460.9 671.7,456.6 672.3,459.5 673.0,460.3 673.6,459.0 674.3,459.0 675.0,463.2 675.6,460.7 676.3,463.7 676.9,462.3 677.6,462.0 678.3,462.7 678.9,463.1 679.6,464.0 680.2,463.4 680.9,463.3 681.6,463.5 682.2,465.0 682.9,464.6 683.5,462.8 684.2,463.4 684.9,464.6 685.5,463.7 686.2,464.2 686.8,463.7 687.5,464.6 688.2,465.5 688.8,466.3 689.5,465.3 690.1,467.7 690.8,465.5 691.5,469.2 692.1,466.9 692.8,466.5 693.4,465.5 694.1,463.0 694.8,466.1 695.4,466.5 696.1,468.6 696.7,465.0 697.4,468.7 698.1,466.4 698.7,467.6 699.4,464.1 700.0,467.1 700.7,466.7 701.4,467.9 702.0,467.3 702.7,466.1 703.3,468.4 704.0,468.2 704.7,468.2 705.3,468.7 706.0,468.9 706.6,467.7 707.3,466.3 708.0,466.3 708.6,469.4 709.3,468.8 709.9,468.2 710.6,467.6 711.3,468.2 711.9,468.3 712.6,467.9 713.2,467.6 713.9,470.8 714.6,468.7 715.2,467.9 715.9,467.1 716.5,467.8 717.2,469.5 717.9,469.6 718.5,468.5 719.2,468.9 719.8,468.5 720.5,467.7 721.2,470.4 721.8,469.4 722.5,471.8 723.1,468.3 723.8,469.0 724.5,470.2 725.1,469.0 725.8,467.8 726.4,468.3 727.1,469.5 727.8,469.8 728.4,469.3 729.1,470.6 729.7,470.6 730.4,469.9 731.1,469.6 731.7,469.4 732.4,470.3 733.0,470.7 733.7,469.8 734.4,470.3 735.0,469.5 735.7,468.3 736.3,468.8 737.0,470.8 737.7,470.5 738.3,471.8 739.0,470.1 739.6,471.0 740.3,471.6 741.0,471.2 741.6,469.5 742.3,470.0 742.9,470.4 743.6,469.2 744.3,470.8 744.9,471.4 745.6,469.8 746.2,472.5 746.9,470.1 747.6,470.2 748.2,470.2 748.9,469.7 749.5,470.9 750.2,470.5 750.9,472.4 751.5,471.2 752.2,471.2 752.8,470.4 753.5,469.1 754.2,470.5 754.8,469.7 755.5,471.7 756.1,470.7 756.8,472.5 757.5,471.5 758.1,471.7 758.8,471.0 759.4,471.0 760.1,471.5 760.8,471.8 761.4,470.1 762.1,471.4 762.7,473.7 763.4,470.8 764.1,470.6 764.7,470.1 765.4,469.3 766.0,472.2 766.7,471.0 767.4,471.3 768.0,473.0 768.7,473.7 769.3,470.0 770.0,472.2 770.7,471.7 771.3,471.5 772.0,471.6 772.6,471.0 773.3,472.8 774.0,471.7 774.6,471.4 775.3,472.4 775.9,472.1 776.6,471.6 777.3,471.5 777.9,473.0 778.6,471.7 779.2,471.0 779.9,470.2 780.6,470.7 781.2,470.0 781.9,471.2 782.5,471.4 783.2,468.9 783.9,471.1 784.5,471.8 785.2,471.3 785.8,470.1 786.5,472.5 787.2,470.3 787.8,469.7 788.5,469.9 789.1,471.1 789.8,472.2 790.5,472.4 791.1,471.3 791.8,469.8 792.4,470.3 793.1,470.1 793.8,470.8 794.4,469.1 795.1,471.2 795.7,471.7 796.4,470.9 797.1,471.5 797.7,470.0 798.4,469.4 799.0,470.3 799.7,472.3 800.4,472.1 801.0,470.5 801.7,472.3 802.3,470.6 803.0,472.6 803.7,471.5 804.3,470.5 805.0,471.8 805.6,470.1 806.3,469.9 807.0,469.3 807.6,471.2 808.3,470.9 808.9,470.8 809.6,470.5 810.3,472.5 810.9,470.5 811.6,470.1 812.2,472.3 812.9,472.5 813.6,471.3 814.2,469.0 814.9,470.3 815.5,471.6 816.2,471.0 816.9,472.7 817.5,469.4 818.2,471.7 818.8,470.3 819.5,472.4 820.2,470.9 820.8,472.1 821.5,470.2 822.1,469.4 822.8,469.7 823.5,470.3 824.1,469.8 824.8,472.3 825.4,472.5 826.1,471.3 826.8,469.8 827.4,470.9 828.1,470.2 828.7,472.6 829.4,471.3 830.1,471.5 830.7,470.6 831.4,468.8 832.0,470.2 832.7,469.8 833.4,471.4 834.0,471.1 834.7,470.1 835.3,470.6 836.0,472.8 836.7,470.0 837.3,470.0 838.0,470.8 838.6,470.3 839.3,470.6 840.0,471.6 840.6,473.0 841.3,469.1 841.9,471.0 842.6,471.1 843.3,471.0 843.9,470.9 844.6,470.7 845.2,472.2 845.9,470.6 846.6,471.0 847.2,471.1 847.9,471.2 848.5,470.9 849.2,472.2 849.9,471.1 850.5,471.3 851.2,471.1 851.8,470.0 852.5,470.2 853.2,470.0 853.8,471.3 854.5,470.4 855.1,470.0 855.8,471.4 856.5,471.7 857.1,469.2 857.8,473.0 858.4,471.2 859.1,471.1 859.8,472.4 860.4,471.3 861.1,470.5 861.7,473.6 862.4,470.0 863.1,471.1 863.7,472.1 864.4,470.0 865.0,471.1 865.7,471.6 866.4,473.9 867.0,470.3 867.7,471.2 868.3,472.0 869.0,471.3 869.7,469.9 870.3,471.7 871.0,471.4 871.6,471.8 872.3,472.5 873.0,472.4 873.6,471.7 874.3,471.6 874.9,470.1 875.6,471.2 876.3,471.6 876.9,470.9 877.6,471.5 878.2,470.4 878.9,473.1 879.6,473.7 880.2,471.0 880.9,471.8 881.5,471.1 882.2,472.8 882.9,471.9 883.5,471.5 884.2,471.2 884.8,471.6 885.5,470.4 886.2,472.2 886.8,470.7 887.5,472.1 888.1,471.7 888.8,472.7 889.5,471.5 890.1,472.7 890.8,470.5 891.4,472.2 892.1,471.3 892.8,471.8 893.4,471.7 894.1,472.6 894.7,469.4 895.4,472.0 896.1,470.0 896.7,473.0 897.4,469.5 898.0,470.6 898.7,469.8 899.4,473.5 900.0,470.3 900.7,471.8 901.3,471.1 902.0,469.7 902.7,471.3 903.3,472.5 904.0,471.5 904.6,472.8 905.3,471.3 906.0,471.8 906.6,471.3 907.3,472.1 907.9,473.9 908.6,472.2 909.3,472.0 909.9,471.1 910.6,471.0 911.2,473.4 911.9,470.6 912.6,470.8 913.2,471.7 913.9,471.3 914.5,474.0 915.2,469.2 915.9,472.2 916.5,472.6 917.2,470.6 917.8,471.1 918.5,472.3 919.2,473.6 919.8,470.8 920.5,470.1 921.1,472.9 921.8,473.5 922.5,471.5 923.1,469.4 923.8,473.4 924.4,471.6 925.1,473.1 925.8,471.8 926.4,471.4 927.1,471.3 927.7,473.5 928.4,473.4 929.1,469.5 929.7,470.8 930.4,473.8 931.0,471.5 931.7,470.4 932.4,471.9 933.0,471.7 933.7,456.8 934.3,459.3 935.0,471.5 935.7,471.4 936.3,472.2 937.0,471.0 937.6,471.6 938.3,471.7 939.0,473.3 939.6,472.3 940.3,471.8 940.9,472.5 941.6,472.3 942.3,473.1 942.9,472.5 943.6,473.9 944.2,473.4 944.9,471.9 945.6,471.5 946.2,472.9 946.9,472.5 947.5,471.8 948.2,470.3 948.9,469.9 949.5,472.3 950.2,472.8 950.8,472.9 951.5,470.6 952.2,473.1 952.8,471.4 953.5,472.4 954.1,472.5 954.8,471.1 955.5,471.4 956.1,469.8 956.8,471.1 957.4,470.1 958.1,472.6 958.8,472.2 959.4,473.1 960.1,472.5 960.7,471.4 961.4,472.5 962.1,471.7 962.7,472.8 963.4,472.5 964.0,471.1 964.7,472.2 965.4,472.2 966.0,471.9 966.7,473.2 967.3,474.1 968.0,471.8 968.7,471.8 969.3,469.8 970.0,472.1 970.6,471.8 971.3,469.9 972.0,472.6 972.6,472.9 973.3,471.5 973.9,471.9 974.6,471.2 975.3,473.1 975.9,470.6 976.6,472.0 977.2,474.5 977.9,472.4 978.6,472.8 979.2,472.2 979.9,471.0 980.5,472.3 981.2,472.8 981.9,471.2 982.5,472.7 983.2,473.7 983.8,473.5 984.5,470.6 985.2,471.3 985.8,470.6 986.5,473.5 987.1,473.0 987.8,473.1 988.5,471.4 989.1,471.0 989.8,472.4 990.4,472.4 991.1,471.4 991.8,472.5 992.4,473.0 993.1,472.6 993.7,471.2 994.4,470.0 995.1,472.0 995.7,472.5 996.4,472.0 997.0,471.8 997.7,471.5 998.4,473.0 999.0,472.2 999.7,472.4 1000.3,471.2 1001.0,471.5 1001.7,472.4 1002.3,471.1 1003.0,470.8 1003.6,471.8 1004.3,473.5 1005.0,472.4 1005.6,473.8 1006.3,472.0 1006.9,471.8 1007.6,470.6 1008.3,471.5 1008.9,473.7 1009.6,472.5 1010.2,472.9 1010.9,472.8 1011.6,472.0 1012.2,471.8 1012.9,472.2 1013.5,472.8 1014.2,472.5 1014.9,472.5 1015.5,472.1 1016.2,471.1 1016.8,471.7 1017.5,470.9 1018.2,473.0 1018.8,469.6 1019.5,471.6 1020.1,474.5 1020.8,471.5 1021.5,470.6 1022.1,471.8 1022.8,473.2 1023.4,471.6 1024.1,472.4 1024.8,471.8 1025.4,471.3 1026.1,475.1 1026.7,471.7 1027.4,471.0 1028.1,471.0 1028.7,472.0 1029.4,472.0 1030.0,472.3 1030.7,471.6 1031.4,469.9 1032.0,472.0 1032.7,471.0 1033.3,471.0 1034.0,469.7 1034.7,470.6 1035.3,470.4 1036.0,471.1 1036.6,469.5 1037.3,471.2 1038.0,471.2 1038.6,469.8 1039.3,470.3 1039.9,470.0 1040.6,471.9 1041.3,468.0 1041.9,470.4 1042.6,468.9 1043.2,470.2 1043.9,471.6 1044.6,469.9 1045.2,470.7 1045.9,469.5 1046.5,472.6 1047.2,471.4 1047.9,471.6 1048.5,468.8 1049.2,469.0 1049.8,471.3 1050.5,469.9 1051.2,469.8 1051.8,470.4 1052.5,468.6 1053.1,470.7 1053.8,469.9 1054.5,470.3 1055.1,469.0 1055.8,470.3 1056.4,468.9 1057.1,470.6 1057.8,470.8 1058.4,470.5 1059.1,470.0 1059.7,470.1 1060.4,466.4 1061.1,470.2 1061.7,469.0 1062.4,469.3 1063.0,468.9 1063.7,467.6 1064.4,468.5 1065.0,469.8 1065.7,470.6 1066.3,468.3 1067.0,467.9 1067.7,470.5 1068.3,467.9 1069.0,471.1 1069.6,468.8 1070.3,467.8 1071.0,469.8 1071.6,470.5 1072.3,467.1 1072.9,470.3 1073.6,468.3 1074.3,470.2 1074.9,468.1 1075.6,466.7 1076.2,469.0 1076.9,469.4 1077.6,470.7 1078.2,470.2 1078.9,469.0 1079.5,468.0 1080.2,467.6 1080.9,467.9 1081.5,467.2 1082.2,467.8 1082.8,465.3 1083.5,468.2 1084.2,468.0 1084.8,470.8 1085.5,468.8 1086.1,467.4 1086.8,468.5 1087.5,466.5 1088.1,467.2 1088.8,465.7 1089.4,469.3 1090.1,468.4 1090.8,466.4 1091.4,467.6 1092.1,468.7 1092.7,468.2 1093.4,468.0 1094.1,466.6 1094.7,466.8 1095.4,467.6 1096.0,468.5 1096.7,466.5 1097.4,466.2 1098.0,468.6 1098.7,466.3 1099.3,468.5 1100.0,467.5 1100.7,468.2 1101.3,469.1 1102.0,467.9 1102.6,468.0 1103.3,466.1 1104.0,466.3 1104.6,467.8 1105.3,468.7 1105.9,468.6 1106.6,469.5 1107.3,467.3 1107.9,467.2 1108.6,468.0 1109.2,466.9 1109.9,466.8 1110.6,465.7 1111.2,467.9 1111.9,465.6 1112.5,467.3 1113.2,465.2 1113.9,467.9 1114.5,465.5 1115.2,467.6 1115.8,464.9 1116.5,466.1 1117.2,467.8 1117.8,465.6 1118.5,466.6 1119.1,465.9 1119.8,463.9 1120.5,466.8 1121.1,466.9 1121.8,465.1 1122.4,467.0 1123.1,465.4 1123.8,465.2 1124.4,466.3 1125.1,465.5 1125.7,468.7 1126.4,464.5 1127.1,467.0 1127.7,467.2 1128.4,463.9 1129.0,464.2 1129.7,466.6 1130.4,465.5 1131.0,466.4 1131.7,467.2 1132.3,465.5 1133.0,464.7 1133.7,462.9 1134.3,466.1 1135.0,464.8 1135.6,466.1 1136.3,466.0 1137.0,464.2 1137.6,467.6 1138.3,466.8 1138.9,466.5 1139.6,464.3 1140.3,465.1 1140.9,464.9 1141.6,465.0 1142.2,464.2 1142.9,465.9 1143.6,465.6 1144.2,465.7 1144.9,464.8 1145.5,466.7 1146.2,465.4 1146.9,462.2 1147.5,464.5 1148.2,465.1 1148.8,466.2 1149.5,464.7 1150.2,464.7 1150.8,464.3 1151.5,465.7 1152.1,464.4 1152.8,464.2 1153.5,464.0 1154.1,465.4 1154.8,464.2 1155.4,462.9 1156.1,465.4 1156.8,463.9 1157.4,465.0 1158.1,465.0 1158.7,465.8 1159.4,465.6 1160.1,463.8 1160.7,464.2 1161.4,462.9 1162.0,466.2 1162.7,464.7 1163.4,465.8 1164.0,463.8 1164.7,461.9 1165.3,465.8 1166.0,464.2 1166.7,464.2 1167.3,464.0 1168.0,464.6 1168.6,464.5 1169.3,462.1 1170.0,465.0 1170.6,463.2 1171.3,463.2 1171.9,465.6 1172.6,464.6 1173.3,463.2 1173.9,461.5 1174.6,463.7 1175.2,464.0 1175.9,463.3 1176.6,462.0 1177.2,462.5 1177.9,461.9 1178.5,463.5 1179.2,464.1 1179.9,464.3 1180.5,462.3 1181.2,463.3 1181.8,463.6 1182.5,462.4 1183.2,462.8 1183.8,465.2 1184.5,463.1 1185.1,463.8 1185.8,462.3 1186.5,462.8 1187.1,460.8 1187.8,462.6 1188.4,464.0 1189.1,464.9 1189.8,463.9 1190.4,463.3 1191.1,462.6 1191.7,461.8 1192.4,462.2 1193.1,463.1 1193.7,461.5 1194.4,463.3 1195.0,461.2 1195.7,460.3 1196.4,461.1 1197.0,460.4 1197.7,460.7 1198.3,463.4 1199.0,461.9 1199.7,462.3 1200.3,463.3 1201.0,463.4 1201.6,461.4 1202.3,463.4 1203.0,462.4 1203.6,461.9 1204.3,462.4 1204.9,460.3 1205.6,461.0 1206.3,461.7 1206.9,462.4 1207.6,461.3 1208.2,461.6 1208.9,462.8 1209.6,463.2 1210.2,462.5 1210.9,463.0 1211.5,461.2 1212.2,461.3 1212.9,461.9 1213.5,461.2 1214.2,461.0 1214.8,463.3 1215.5,461.3 1216.2,460.4 1216.8,462.0 1217.5,463.4 1218.1,461.5 1218.8,462.7 1219.5,460.9 1220.1,460.8 1220.8,460.5 1221.4,461.1 1222.1,463.3 1222.8,460.0 1223.4,463.0 1224.1,460.1 1224.7,460.9 1225.4,462.1 1226.1,461.8 1226.7,461.4 1227.4,459.3 1228.0,461.5 1228.7,459.9 1229.4,463.8 1230.0,460.7 1230.7,461.2 1231.3,459.7 1232.0,460.4 1232.7,459.4 1233.3,461.9 1234.0,460.5 1234.6,461.4 1235.3,460.0 1236.0,460.1 1236.6,462.1 1237.3,459.5 1237.9,458.6 1238.6,461.0 1239.3,459.2 1239.9,460.0 1240.6,461.4 1241.2,459.5 1241.9,461.3 1242.6,459.5 1243.2,461.8 1243.9,461.6 1244.5,459.6 1245.2,459.8 1245.9,459.1 1246.5,460.1 1247.2,461.1 1247.8,448.2 1248.5,452.7 1249.2,458.2 1249.8,458.6 1250.5,457.5 1251.1,461.7 1251.8,459.4 1252.5,459.5 1253.1,458.4 1253.8,460.2 1254.4,456.7 1255.1,458.9 1255.8,461.2 1256.4,458.2 1257.1,458.6 1257.7,459.2 1258.4,457.4 1259.1,458.2 1259.7,459.1 1260.4,458.2 1261.0,458.2 1261.7,457.3 1262.4,457.9 1263.0,457.5 1263.7,458.9 1264.3,457.9 1265.0,456.7 1265.7,454.1 1266.3,457.4 1267.0,457.3 1267.6,455.2 1268.3,453.9 1269.0,454.6 1269.6,456.7 1270.3,454.3 1270.9,454.7 1271.6,455.3 1272.3,456.1 1272.9,454.5 1273.6,454.2 1274.2,453.5 1274.9,455.6 1275.6,454.7 1276.2,453.2 1276.9,451.5 1277.5,451.8 1278.2,453.0 1278.9,451.3 1279.5,452.8 1280.2,451.8 1280.8,451.4 1281.5,451.5 1282.2,450.9 1282.8,449.1 1283.5,449.3 1284.1,451.8 1284.8,447.5 1285.5,447.9 1286.1,449.1 1286.8,447.3 1287.4,446.1 1288.1,445.1 1288.8,446.6 1289.4,446.6 1290.1,446.5 1290.7,444.5 1291.4,445.0 1292.1,442.1 1292.7,442.8 1293.4,441.3 1294.0,441.6 1294.7,441.5 1295.4,441.2 1296.0,438.2 1296.7,439.9 1297.3,437.2 1298.0,435.8 1298.7,435.9 1299.3,433.6 1300.0,434.3 1300.6,433.7 1301.3,432.2 1302.0,432.0 1302.6,430.1 1303.3,429.3 1303.9,426.6 1304.6,427.1 1305.3,424.9 1305.9,424.0 1306.6,423.1 1307.2,422.0 1307.9,418.6 1308.6,417.2 1309.2,417.0 1309.9,416.3 1310.5,414.4 1311.2,413.3 1311.9,411.9 1312.5,409.1 1313.2,406.6 1313.8,403.4 1314.5,401.4 1315.2,399.7 1315.8,398.2 1316.5,395.8 1317.1,393.2 1317.8,390.5 1318.5,388.8 1319.1,385.8 1319.8,383.2 1320.4,380.6 1321.1,377.0 1321.8,373.8 1322.4,372.8 1323.1,370.2 1323.7,366.9 1324.4,364.3 1325.1,365.0 1325.7,359.5 1326.4,358.2 1327.0,357.0 1327.7,354.0 1328.4,354.3 1329.0,355.2 1329.7,353.7 1330.3,353.1 1331.0,353.1 1331.7,353.0 1332.3,354.7 1333.0,354.4 1333.6,355.5 1334.3,357.6 1335.0,360.3 1335.6,361.7 1336.3,364.3 1336.9,363.6 1337.6,369.6 1338.3,373.5 1338.9,375.0 1339.6,375.8 1340.2,377.9 1340.9,381.8 1341.6,383.1 1342.2,387.6 1342.9,388.8 1343.5,393.0 1344.2,395.9 1344.9,394.5 1345.5,399.4 1346.2,400.6 1346.8,402.0 1347.5,404.9 1348.2,407.4 1348.8,410.7 1349.5,409.8 1350.1,414.4 1350.8,417.2 1351.5,417.3 1352.1,418.8 1352.8,419.7 1353.4,419.9 1354.1,423.1 1354.8,424.3 1355.4,426.0 1356.1,429.2 1356.7,428.4 1357.4,429.2 1358.1,431.5 1358.7,429.3 1359.4,430.6 1360.0,432.4 1360.7,433.0 1361.4,435.3 1362.0,435.1 1362.7,438.2 1363.3,438.7 1364.0,438.6 1364.7,438.1 1365.3,439.9 1366.0,440.8 1366.6,439.4 1367.3,441.5 1368.0,442.5 1368.6,442.6 1369.3,444.6 1369.9,444.8 1370.6,443.0 1371.3,444.6 1371.9,444.0 1372.6,446.0 1373.2,444.9 1373.9,447.3 1374.6,447.1 1375.2,448.2 1375.9,447.3 1376.5,446.3 1377.2,450.2 1377.9,448.4 1378.5,450.5 1379.2,449.8 1379.8,450.4 1380.5,451.9 1381.2,450.6 1381.8,452.1 1382.5,449.2 1383.1,452.1 1383.8,451.1 1384.5,451.5 1385.1,451.9 1385.8,452.5 1386.4,454.2 1387.1,450.6 1387.8,452.9 1388.4,452.3 1389.1,454.6 1389.7,453.1 1390.4,454.2 1391.1,453.5 1391.7,454.9 1392.4,455.4 1393.0,454.1 1393.7,454.7 1394.4,453.3 1395.0,455.4 1395.7,456.1 1396.3,454.7 1397.0,456.7 1397.7,453.4 1398.3,453.8 1399.0,454.4 1399.6,455.5 1400.3,456.2 1401.0,456.2 1401.6,456.4 1402.3,457.4 1402.9,456.2 1403.6,455.4 1404.3,455.5 1404.9,459.3 1405.6,454.5 1406.2,457.0 1406.9,458.9 1407.6,457.9 1408.2,456.6 1408.9,457.6 1409.5,458.6 1410.2,459.1 1410.9,456.8 1411.5,458.8 1412.2,458.3 1412.8,459.3 1413.5,459.7 1414.2,457.8 1414.8,456.7 1415.5,458.7 1416.1,460.3 1416.8,459.2 1417.5,458.7 1418.1,461.2 1418.8,457.4 1419.4,459.6 1420.1,458.0 1420.8,458.8 1421.4,458.9 1422.1,460.5 1422.7,457.8 1423.4,458.3 1424.1,457.1 1424.7,459.5 1425.4,458.5 1426.0,459.5 1426.7,457.8 1427.4,458.6 1428.0,460.2 1428.7,458.9 1429.3,459.8 1430.0,459.7 1430.7,458.7 1431.3,457.4 1432.0,460.2 1432.6,459.3 1433.3,460.3 1434.0,457.0 1434.6,457.4 1435.3,456.8 1435.9,458.2 1436.6,460.3 1437.3,459.8 1437.9,459.1 1438.6,459.3 1439.2,460.0 1439.9,458.8 1440.6,459.6 1441.2,459.3 1441.9,456.7 1442.5,458.7 1443.2,460.6 1443.9,458.7 1444.5,458.9 1445.2,458.4 1445.8,458.5 1446.5,460.3 1447.2,458.7 1447.8,457.9 1448.5,455.5 1449.1,458.3 1449.8,456.8 1450.5,456.9 1451.1,459.7 1451.8,459.6 1452.4,456.7 1453.1,459.7 1453.8,459.3 1454.4,457.9 1455.1,459.5 1455.7,456.9 1456.4,457.3 1457.1,457.0 1457.7,457.3 1458.4,459.5 1459.0,457.0 1459.7,457.2 1460.4,457.4 1461.0,458.6 1461.7,458.0 1462.3,459.3 1463.0,457.5 1463.7,456.8 1464.3,457.6 1465.0,458.2 1465.6,457.1 1466.3,458.4 1467.0,460.0 1467.6,457.4 1468.3,458.0 1468.9,459.4 1469.6,457.2 1470.3,456.9 1470.9,456.6 1471.6,458.2 1472.2,458.3 1472.9,457.5 1473.6,457.7 1474.2,459.0 1474.9,458.5 1475.5,456.0 1476.2,457.5 1476.9,457.6 1477.5,458.2 1478.2,457.2 1478.8,456.7 1479.5,456.8 1480.2,455.4 1480.8,457.3 1481.5,456.6 1482.1,457.8 1482.8,456.1 1483.5,456.7 1484.1,456.1 1484.8,456.0 1485.4,457.9 1486.1,456.6 1486.8,457.6 1487.4,455.9 1488.1,457.2 1488.7,455.2 1489.4,456.5 1490.1,456.5 1490.7,448.7 1491.4,450.0 1492.0,456.8 1492.7,457.9 1493.4,457.2 1494.0,457.6 1494.7,457.9 1495.3,457.0 1496.0,456.7 1496.7,457.4 1497.3,456.6 1498.0,457.5 1498.6,458.3 1499.3,458.1 1500.0,456.7 1500.6,455.8 1501.3,457.1 1501.9,457.1 1502.6,458.5 1503.3,456.9 1503.9,457.1 1504.6,458.2 1505.2,456.9 1505.9,457.3 1506.6,459.4 1507.2,459.2 1507.9,458.3 1508.5,457.9 1509.2,456.6 1509.9,458.3 1510.5,457.9 1511.2,458.1 1511.8,457.3 1512.5,458.0 1513.2,457.8 1513.8,458.4 1514.5,459.7 1515.1,458.6 1515.8,456.5 1516.5,457.3 1517.1,456.7 1517.8,457.6 1518.4,459.2 1519.1,459.1 1519.8,458.1 1520.4,459.1 1521.1,458.1 1521.7,457.4 1522.4,457.5 1523.1,458.2 1523.7,460.8 1524.4,457.9 1525.0,460.8 1525.7,461.0 1526.4,459.4 1527.0,459.6 1527.7,459.1 1528.3,459.9 1529.0,460.7 1529.7,460.1 1530.3,461.3 1531.0,461.6 1531.6,460.7 1532.3,460.8 1533.0,460.5 1533.6,461.0 1534.3,459.5 1534.9,461.3 1535.6,461.2 1536.3,460.1 1536.9,463.5 1537.6,460.2 1538.2,460.4 1538.9,461.7 1539.6,459.4 1540.2,460.8 1540.9,460.1 1541.5,460.8 1542.2,461.8 1542.9,462.4 1543.5,463.3 1544.2,463.1 1544.8,463.6 1545.5,463.1 1546.2,462.0 1546.8,463.9 1547.5,462.2 1548.1,462.2 1548.8,464.6 1549.5,463.9 1550.1,463.4 1550.8,464.1 1551.4,464.3 1552.1,461.9 1552.8,463.4 1553.4,462.4 1554.1,463.9 1554.7,463.1 1555.4,465.4 1556.1,464.6 1556.7,463.3 1557.4,464.2 1558.0,463.0 1558.7,464.5 1559.4,465.1 1560.0,464.9 1560.7,462.6 1561.3,464.5 1562.0,465.5 1562.7,465.4 1563.3,466.4 1564.0,463.8 1564.6,465.9" fill="none" stroke="#008000" stroke-width="4.6" stroke-linejoin="round"/>
<polyline points="110.0,656.0 110.7,657.2 111.3,657.5 112.0,657.8 112.6,656.1 113.3,657.1 114.0,655.2 114.6,654.8 115.3,657.6 115.9,656.7 116.6,654.5 117.3,655.6 117.9,656.8 118.6,658.9 119.2,658.2 119.9,657.8 120.6,654.2 121.2,656.6 121.9,657.4 122.5,657.2 123.2,657.2 123.9,656.3 124.5,659.1 125.2,658.7 125.8,656.5 126.5,655.2 127.2,659.5 127.8,655.8 128.5,658.2 129.1,659.2 129.8,655.2 130.5,656.9 131.1,656.0 131.8,657.2 132.4,657.0 133.1,659.2 133.8,657.3 134.4,656.5 135.1,658.0 135.7,656.1 136.4,656.0 137.1,659.6 137.7,655.3 138.4,655.8 139.0,656.5 139.7,655.0 140.4,653.5 141.0,657.9 141.7,655.3 142.3,655.7 143.0,655.9 143.7,655.0 144.3,654.9 145.0,656.6 145.6,659.8 146.3,657.5 147.0,657.5 147.6,654.3 148.3,656.4 148.9,654.8 149.6,657.5 150.3,656.1 150.9,656.5 151.6,656.4 152.2,655.7 152.9,654.4 153.6,657.3 154.2,654.6 154.9,654.9 155.5,656.1 156.2,655.6 156.9,657.0 157.5,658.0 158.2,657.0 158.8,656.9 159.5,656.7 160.2,657.9 160.8,654.1 161.5,657.2 162.1,655.4 162.8,655.0 163.5,656.8 164.1,656.3 164.8,657.7 165.4,658.4 166.1,653.6 166.8,656.8 167.4,659.7 168.1,658.2 168.7,659.0 169.4,657.2 170.1,655.0 170.7,655.5 171.4,658.1 172.0,658.5 172.7,656.1 173.4,656.8 174.0,657.6 174.7,654.8 175.3,656.8 176.0,659.6 176.7,660.4 177.3,657.2 178.0,659.9 178.6,656.7 179.3,656.3 180.0,654.3 180.6,658.8 181.3,657.0 181.9,660.8 182.6,658.0 183.3,657.8 183.9,655.1 184.6,659.7 185.2,657.1 185.9,657.5 186.6,654.6 187.2,659.0 187.9,659.1 188.5,656.9 189.2,657.9 189.9,658.4 190.5,659.2 191.2,658.0 191.8,660.3 192.5,657.5 193.2,657.1 193.8,657.3 194.5,654.4 195.1,656.8 195.8,659.4 196.5,658.4 197.1,656.9 197.8,658.5 198.4,655.2 199.1,657.7 199.8,658.8 200.4,659.1 201.1,657.0 201.7,659.4 202.4,660.7 203.1,657.5 203.7,659.2 204.4,656.0 205.0,655.4 205.7,659.0 206.4,658.2 207.0,658.5 207.7,657.4 208.3,657.8 209.0,659.3 209.7,660.6 210.3,657.9 211.0,655.9 211.6,660.0 212.3,659.0 213.0,659.2 213.6,658.5 214.3,661.5 214.9,658.3 215.6,658.9 216.3,655.6 216.9,657.4 217.6,657.2 218.2,658.1 218.9,658.7 219.6,657.1 220.2,660.6 220.9,656.7 221.5,657.5 222.2,658.5 222.9,656.4 223.5,658.9 224.2,659.0 224.8,657.7 225.5,660.8 226.2,658.2 226.8,658.5 227.5,656.7 228.1,655.7 228.8,657.2 229.5,657.6 230.1,657.4 230.8,659.1 231.4,654.7 232.1,656.4 232.8,655.4 233.4,659.9 234.1,646.2 234.7,648.4 235.4,656.4 236.1,659.2 236.7,657.3 237.4,658.2 238.0,655.0 238.7,659.5 239.4,658.4 240.0,658.6 240.7,659.5 241.3,657.5 242.0,657.5 242.7,658.8 243.3,658.3 244.0,657.4 244.6,657.8 245.3,657.0 246.0,658.7 246.6,658.9 247.3,657.6 247.9,660.2 248.6,655.4 249.3,657.2 249.9,659.9 250.6,656.9 251.2,655.2 251.9,659.4 252.6,658.2 253.2,655.7 253.9,658.5 254.5,655.9 255.2,655.5 255.9,657.1 256.5,656.6 257.2,655.7 257.8,656.7 258.5,655.8 259.2,657.2 259.8,657.1 260.5,658.1 261.1,656.4 261.8,655.2 262.5,655.2 263.1,656.6 263.8,659.1 264.4,658.1 265.1,656.0 265.8,658.1 266.4,655.2 267.1,658.2 267.7,646.2 268.4,649.7 269.1,657.5 269.7,656.2 270.4,657.0 271.0,655.0 271.7,656.3 272.4,657.9 273.0,662.1 273.7,657.3 274.3,656.4 275.0,654.8 275.7,657.6 276.3,653.8 277.0,654.9 277.6,656.5 278.3,654.2 279.0,658.0 279.6,657.3 280.3,654.9 280.9,654.9 281.6,653.8 282.3,653.6 282.9,656.1 283.6,656.3 284.2,655.8 284.9,655.7 285.6,654.4 286.2,655.7 286.9,653.0 287.5,655.0 288.2,657.0 288.9,656.7 289.5,654.1 290.2,654.2 290.8,656.6 291.5,657.1 292.2,652.4 292.8,653.8 293.5,654.6 294.1,656.0 294.8,653.0 295.5,655.0 296.1,653.6 296.8,657.2 297.4,654.4 298.1,653.5 298.8,653.2 299.4,655.0 300.1,654.4 300.7,651.8 301.4,653.6 302.1,651.3 302.7,652.0 303.4,651.2 304.0,651.0 304.7,651.8 305.4,651.3 306.0,653.3 306.7,653.6 307.3,652.0 308.0,650.7 308.7,653.3 309.3,649.2 310.0,649.2 310.6,652.9 311.3,652.7 312.0,653.0 312.6,651.2 313.3,649.6 313.9,650.6 314.6,652.0 315.3,650.0 315.9,650.0 316.6,648.9 317.2,649.1 317.9,651.8 318.6,651.1 319.2,648.7 319.9,648.7 320.5,649.3 321.2,650.8 321.9,648.3 322.5,649.6 323.2,646.7 323.8,647.8 324.5,650.0 325.2,650.6 325.8,647.6 326.5,648.0 327.1,650.1 327.8,648.3 328.5,647.9 329.1,649.3 329.8,648.7 330.4,649.9 331.1,649.3 331.8,647.3 332.4,647.8 333.1,647.8 333.7,645.8 334.4,646.2 335.1,648.8 335.7,645.1 336.4,648.6 337.0,647.5 337.7,646.8 338.4,647.6 339.0,647.4 339.7,648.3 340.3,645.9 341.0,646.0 341.7,645.8 342.3,648.7 343.0,647.2 343.6,644.5 344.3,645.2 345.0,644.5 345.6,645.4 346.3,645.5 346.9,648.3 347.6,642.4 348.3,646.2 348.9,645.2 349.6,643.5 350.2,644.1 350.9,643.5 351.6,644.1 352.2,645.3 352.9,641.6 353.5,645.4 354.2,642.9 354.9,645.3 355.5,643.6 356.2,644.6 356.8,643.5 357.5,644.1 358.2,642.4 358.8,641.0 359.5,642.9 360.1,642.8 360.8,644.6 361.5,638.6 362.1,641.0 362.8,642.5 363.4,639.1 364.1,640.3 364.8,643.4 365.4,642.2 366.1,638.8 366.7,641.8 367.4,641.3 368.1,640.5 368.7,639.7 369.4,639.3 370.0,637.5 370.7,637.7 371.4,639.3 372.0,638.2 372.7,640.3 373.3,637.0 374.0,633.9 374.7,636.5 375.3,637.1 376.0,637.0 376.6,636.3 377.3,634.7 378.0,637.7 378.6,634.4 379.3,636.0 379.9,634.3 380.6,632.7 381.3,636.1 381.9,630.3 382.6,632.3 383.2,633.8 383.9,632.3 384.6,633.5 385.2,632.0 385.9,631.2 386.5,634.5 387.2,630.8 387.9,630.5 388.5,628.8 389.2,628.9 389.8,630.5 390.5,630.0 391.2,628.8 391.8,627.4 392.5,628.9 393.1,625.1 393.8,626.6 394.5,626.3 395.1,625.0 395.8,625.9 396.4,624.3 397.1,623.6 397.8,626.8 398.4,624.8 399.1,624.9 399.7,622.8 400.4,623.5 401.1,622.7 401.7,622.8 402.4,623.8 403.0,619.6 403.7,619.7 404.4,618.6 405.0,613.2 405.7,615.5 406.3,616.8 407.0,617.0 407.7,614.6 408.3,616.3 409.0,615.8 409.6,612.6 410.3,614.5 411.0,614.1 411.6,611.5 412.3,608.7 412.9,611.2 413.6,608.1 414.3,606.9 414.9,606.6 415.6,604.7 416.2,606.0 416.9,604.6 417.6,604.1 418.2,602.2 418.9,599.1 419.5,598.8 420.2,599.1 420.9,596.0 421.5,599.4 422.2,593.6 422.8,591.8 423.5,592.8 424.2,590.7 424.8,588.1 425.5,586.2 426.1,585.4 426.8,584.3 427.5,582.4 428.1,579.0 428.8,578.1 429.4,576.6 430.1,574.4 430.8,566.8 431.4,567.6 432.1,565.3 432.7,563.6 433.4,561.6 434.1,559.9 434.7,556.7 435.4,552.7 436.0,549.9 436.7,549.1 437.4,542.5 438.0,540.4 438.7,538.6 439.3,533.3 440.0,526.2 440.7,525.7 441.3,520.6 442.0,516.9 442.6,514.3 443.3,509.2 444.0,503.8 444.6,501.0 445.3,495.9 445.9,491.0 446.6,486.8 447.3,482.4 447.9,477.3 448.6,472.9 449.2,469.6 449.9,464.5 450.6,460.5 451.2,460.8 451.9,455.8 452.5,453.5 453.2,451.3 453.9,449.8 454.5,448.6 455.2,448.0 455.8,446.6 456.5,449.3 457.2,447.9 457.8,451.6 458.5,449.2 459.1,452.6 459.8,458.1 460.5,459.5 461.1,462.1 461.8,467.2 462.4,469.0 463.1,474.7 463.8,475.7 464.4,482.4 465.1,486.5 465.7,492.6 466.4,497.6 467.1,499.6 467.7,507.4 468.4,508.7 469.0,510.9 469.7,514.6 470.4,524.2 471.0,525.9 471.7,529.0 472.3,532.6 473.0,535.8 473.7,542.7 474.3,544.1 475.0,549.9 475.6,550.3 476.3,550.3 477.0,557.7 477.6,558.8 478.3,561.6 478.9,566.8 479.6,566.7 480.3,571.0 480.9,571.7 481.6,572.8 482.2,576.7 482.9,577.2 483.6,581.7 484.2,583.2 484.9,583.7 485.5,586.2 486.2,587.8 486.9,588.3 487.5,591.5 488.2,591.4 488.8,594.0 489.5,593.2 490.2,596.0 490.8,597.7 491.5,597.3 492.1,599.0 492.8,600.0 493.5,602.9 494.1,601.9 494.8,604.6 495.4,607.1 496.1,606.4 496.8,604.6 497.4,608.0 498.1,610.2 498.7,609.2 499.4,612.0 500.1,612.1 500.7,612.6 501.4,612.4 502.0,612.8 502.7,613.9 503.4,615.0 504.0,616.3 504.7,616.9 505.3,616.5 506.0,617.6 506.7,618.7 507.3,616.5 508.0,618.2 508.6,618.8 509.3,620.1 510.0,620.6 510.6,621.1 511.3,620.7 511.9,623.4 512.6,623.3 513.3,621.1 513.9,623.9 514.6,622.7 515.2,627.1 515.9,624.5 516.6,625.0 517.2,626.0 517.9,626.0 518.5,626.6 519.2,629.2 519.9,627.7 520.5,628.9 521.2,629.6 521.8,627.0 522.5,631.0 523.2,629.9 523.8,630.6 524.5,628.3 525.1,631.0 525.8,630.7 526.5,629.6 527.1,633.8 527.8,631.6 528.4,630.7 529.1,631.6 529.8,632.8 530.4,633.3 531.1,632.7 531.7,633.8 532.4,634.3 533.1,630.7 533.7,631.9 534.4,631.5 535.0,633.1 535.7,635.1 536.4,634.1 537.0,631.9 537.7,633.1 538.3,635.0 539.0,633.0 539.7,633.7 540.3,634.3 541.0,631.4 541.6,635.2 542.3,634.6 543.0,635.0 543.6,632.9 544.3,633.3 544.9,633.6 545.6,634.8 546.3,634.6 546.9,634.7 547.6,637.0 548.2,636.4 548.9,633.6 549.6,633.7 550.2,637.0 550.9,634.1 551.5,636.5 552.2,636.8 552.9,633.8 553.5,634.1 554.2,634.6 554.8,633.2 555.5,633.0 556.2,633.8 556.8,635.5 557.5,633.6 558.1,633.8 558.8,633.4 559.5,632.1 560.1,636.0 560.8,630.5 561.4,632.8 562.1,634.4 562.8,631.6 563.4,634.3 564.1,635.0 564.7,632.0 565.4,633.3 566.1,631.4 566.7,633.5 567.4,632.8 568.0,632.8 568.7,634.3 569.4,632.9 570.0,633.9 570.7,632.8 571.3,630.0 572.0,631.9 572.7,632.0 573.3,629.1 574.0,632.8 574.6,630.9 575.3,631.1 576.0,629.1 576.6,630.2 577.3,630.3 577.9,629.2 578.6,629.6 579.3,626.2 579.9,630.9 580.6,627.1 581.2,625.4 581.9,626.8 582.6,626.7 583.2,628.3 583.9,625.9 584.5,627.3 585.2,625.2 585.9,629.3 586.5,626.6 587.2,628.2 587.8,623.6 588.5,625.5 589.2,622.8 589.8,624.5 590.5,624.1 591.1,620.4 591.8,620.5 592.5,619.9 593.1,618.9 593.8,619.3 594.4,618.3 595.1,616.9 595.8,618.3 596.4,618.1 597.1,614.7 597.7,614.8 598.4,614.6 599.1,613.3 599.7,611.5 600.4,612.4 601.0,611.2 601.7,609.6 602.4,606.9 603.0,608.3 603.7,606.3 604.3,601.4 605.0,599.8 605.7,599.5 606.3,594.4 607.0,593.6 607.6,590.4 608.3,586.5 609.0,584.0 609.6,578.7 610.3,576.5 610.9,570.6 611.6,572.4 612.3,566.9 612.9,561.8 613.6,555.6 614.2,551.4 614.9,546.4 615.6,540.6 616.2,535.0 616.9,527.1 617.5,523.8 618.2,517.6 618.9,512.4 619.5,508.8 620.2,508.1 620.8,506.9 621.5,502.5 622.2,506.8 622.8,507.3 623.5,506.4 624.1,508.8 624.8,512.5 625.5,517.6 626.1,519.6 626.8,522.7 627.4,528.8 628.1,529.4 628.8,536.3 629.4,541.3 630.1,543.3 630.7,546.8 631.4,549.0 632.1,551.4 632.7,552.3 633.4,552.3 634.0,554.1 634.7,554.9 635.4,557.1 636.0,557.6 636.7,555.9 637.3,554.3 638.0,554.3 638.7,555.0 639.3,557.3 640.0,555.8 640.6,555.2 641.3,554.2 642.0,556.5 642.6,555.7 643.3,555.2 643.9,555.5 644.6,557.7 645.3,557.0 645.9,562.1 646.6,564.4 647.2,566.0 647.9,570.6 648.6,572.7 649.2,575.4 649.9,579.9 650.5,582.6 651.2,588.2 651.9,591.0 652.5,595.2 653.2,598.8 653.8,596.3 654.5,604.0 655.2,603.9 655.8,609.2 656.5,610.2 657.1,613.9 657.8,617.9 658.5,615.6 659.1,620.2 659.8,621.6 660.4,620.7 661.1,625.9 661.8,626.5 662.4,627.2 663.1,628.2 663.7,634.9 664.4,631.1 665.1,630.2 665.7,632.5 666.4,634.2 667.0,635.1 667.7,636.4 668.4,635.9 669.0,638.9 669.7,638.3 670.3,637.7 671.0,639.2 671.7,640.4 672.3,642.8 673.0,642.9 673.6,642.3 674.3,643.3 675.0,644.1 675.6,647.1 676.3,643.9 676.9,645.8 677.6,646.6 678.3,644.7 678.9,646.7 679.6,647.0 680.2,646.5 680.9,648.3 681.6,649.3 682.2,649.7 682.9,648.2 683.5,649.0 684.2,652.4 684.9,647.8 685.5,649.9 686.2,651.1 686.8,650.3 687.5,651.3 688.2,650.8 688.8,651.9 689.5,652.9 690.1,651.0 690.8,651.8 691.5,651.6 692.1,651.3 692.8,652.0 693.4,650.7 694.1,653.5 694.8,655.0 695.4,655.2 696.1,654.7 696.7,651.7 697.4,655.4 698.1,652.4 698.7,653.5 699.4,656.3 700.0,652.3 700.7,655.2 701.4,654.5 702.0,654.0 702.7,653.1 703.3,655.1 704.0,654.0 704.7,656.2 705.3,656.6 706.0,653.0 706.6,654.4 707.3,654.7 708.0,653.6 708.6,653.8 709.3,655.6 709.9,655.3 710.6,653.4 711.3,655.0 711.9,656.6 712.6,654.3 713.2,654.8 713.9,658.4 714.6,658.1 715.2,654.0 715.9,654.5 716.5,657.0 717.2,654.9 717.9,656.3 718.5,656.0 719.2,657.5 719.8,653.3 720.5,653.8 721.2,655.2 721.8,658.4 722.5,656.9 723.1,654.8 723.8,657.9 724.5,658.3 725.1,657.0 725.8,656.9 726.4,658.0 727.1,659.2 727.8,657.8 728.4,658.3 729.1,657.6 729.7,657.2 730.4,656.4 731.1,658.1 731.7,657.4 732.4,657.5 733.0,659.2 733.7,658.6 734.4,659.2 735.0,655.8 735.7,658.8 736.3,657.3 737.0,657.0 737.7,657.0 738.3,659.9 739.0,659.4 739.6,657.2 740.3,656.7 741.0,658.3 741.6,657.7 742.3,660.7 742.9,656.3 743.6,655.8 744.3,658.0 744.9,658.4 745.6,658.6 746.2,659.5 746.9,661.4 747.6,658.0 748.2,657.8 748.9,656.1 749.5,658.9 750.2,659.8 750.9,658.2 751.5,660.3 752.2,658.7 752.8,660.7 753.5,659.1 754.2,657.2 754.8,657.8 755.5,656.5 756.1,656.3 756.8,659.1 757.5,659.9 758.1,661.5 758.8,658.7 759.4,658.4 760.1,657.2 760.8,660.1 761.4,659.3 762.1,658.0 762.7,659.8 763.4,659.6 764.1,656.2 764.7,659.9 765.4,659.0 766.0,658.3 766.7,658.3 767.4,661.3 768.0,661.0 768.7,661.4 769.3,657.3 770.0,658.0 770.7,660.2 771.3,657.2 772.0,657.9 772.6,656.4 773.3,661.5 774.0,660.4 774.6,659.6 775.3,659.2 775.9,658.4 776.6,658.4 777.3,659.8 777.9,657.9 778.6,660.7 779.2,658.3 779.9,657.7 780.6,660.8 781.2,658.7 781.9,659.7 782.5,658.3 783.2,655.8 783.9,659.7 784.5,657.0 785.2,660.4 785.8,656.7 786.5,656.3 787.2,659.3 787.8,659.4 788.5,659.0 789.1,657.1 789.8,660.0 790.5,656.7 791.1,658.1 791.8,657.6 792.4,658.2 793.1,659.9 793.8,657.8 794.4,659.4 795.1,659.6 795.7,656.2 796.4,656.9 797.1,658.0 797.7,657.7 798.4,658.9 799.0,655.8 799.7,659.5 800.4,659.5 801.0,658.2 801.7,656.5 802.3,658.4 803.0,657.6 803.7,659.1 804.3,658.2 805.0,659.3 805.6,657.7 806.3,660.3 807.0,655.0 807.6,656.8 808.3,658.9 808.9,656.1 809.6,659.2 810.3,656.5 810.9,658.3 811.6,656.9 812.2,657.6 812.9,658.4 813.6,658.0 814.2,657.6 814.9,661.2 815.5,658.2 816.2,656.8 816.9,659.4 817.5,659.3 818.2,659.8 818.8,660.6 819.5,656.8 820.2,659.6 820.8,659.7 821.5,658.1 822.1,658.5 822.8,653.9 823.5,657.3 824.1,660.6 824.8,655.6 825.4,657.4 826.1,658.5 826.8,658.9 827.4,660.4 828.1,655.7 828.7,658.2 829.4,659.4 830.1,656.3 830.7,658.1 831.4,660.8 832.0,660.0 832.7,658.9 833.4,654.5 834.0,658.0 834.7,658.7 835.3,657.7 836.0,658.1 836.7,662.5 837.3,657.9 838.0,656.8 838.6,658.5 839.3,657.8 840.0,657.8 840.6,658.1 841.3,659.3 841.9,658.6 842.6,656.6 843.3,658.1 843.9,658.9 844.6,657.6 845.2,659.9 845.9,659.4 846.6,656.9 847.2,658.7 847.9,661.1 848.5,660.5 849.2,658.2 849.9,659.6 850.5,657.4 851.2,656.3 851.8,659.1 852.5,658.7 853.2,659.1 853.8,658.3 854.5,658.8 855.1,657.6 855.8,659.0 856.5,659.5 857.1,658.3 857.8,659.5 858.4,655.9 859.1,657.3 859.8,660.5 860.4,660.9 861.1,658.8 861.7,658.3 862.4,656.7 863.1,659.0 863.7,659.6 864.4,656.4 865.0,659.3 865.7,659.2 866.4,659.2 867.0,657.0 867.7,659.3 868.3,656.5 869.0,660.7 869.7,658.8 870.3,657.0 871.0,660.5 871.6,660.3 872.3,657.8 873.0,661.8 873.6,657.3 874.3,659.2 874.9,660.4 875.6,655.6 876.3,660.2 876.9,658.8 877.6,658.9 878.2,657.4 878.9,659.4 879.6,657.4 880.2,657.6 880.9,658.4 881.5,657.3 882.2,661.3 882.9,657.2 883.5,658.1 884.2,658.7 884.8,659.2 885.5,660.3 886.2,660.4 886.8,658.9 887.5,658.8 888.1,659.4 888.8,660.5 889.5,660.4 890.1,658.7 890.8,656.6 891.4,662.5 892.1,660.9 892.8,659.9 893.4,660.1 894.1,658.9 894.7,658.3 895.4,659.2 896.1,659.4 896.7,658.9 897.4,657.7 898.0,659.4 898.7,660.6 899.4,659.1 900.0,659.9 900.7,657.0 901.3,659.6 902.0,659.8 902.7,658.2 903.3,657.5 904.0,660.6 904.6,658.9 905.3,660.7 906.0,659.5 906.6,660.9 907.3,659.6 907.9,658.0 908.6,660.0 909.3,659.7 909.9,661.0 910.6,659.5 911.2,659.6 911.9,661.4 912.6,661.8 913.2,661.2 913.9,661.6 914.5,660.8 915.2,661.3 915.9,661.4 916.5,660.8 917.2,660.3 917.8,660.4 918.5,663.6 919.2,660.2 919.8,659.9 920.5,659.7 921.1,660.2 921.8,660.6 922.5,658.7 923.1,657.5 923.8,660.7 924.4,658.0 925.1,660.6 925.8,660.5 926.4,661.9 927.1,662.6 927.7,660.8 928.4,659.5 929.1,658.6 929.7,659.2 930.4,660.3 931.0,657.4 931.7,660.4 932.4,660.3 933.0,661.2 933.7,659.8 934.3,660.4 935.0,659.2 935.7,659.6 936.3,657.8 937.0,660.4 937.6,662.4 938.3,660.5 939.0,660.8 939.6,658.9 940.3,662.2 940.9,659.2 941.6,661.3 942.3,660.4 942.9,658.9 943.6,661.6 944.2,660.2 944.9,660.4 945.6,660.8 946.2,660.1 946.9,659.6 947.5,660.8 948.2,659.6 948.9,660.2 949.5,659.2 950.2,658.0 950.8,659.1 951.5,659.4 952.2,660.0 952.8,661.7 953.5,657.6 954.1,660.2 954.8,656.9 955.5,658.5 956.1,659.2 956.8,656.7 957.4,657.3 958.1,660.1 958.8,659.9 959.4,659.6 960.1,658.7 960.7,662.8 961.4,659.5 962.1,658.5 962.7,662.0 963.4,660.5 964.0,659.1 964.7,661.3 965.4,659.8 966.0,660.5 966.7,659.9 967.3,658.1 968.0,660.9 968.7,659.7 969.3,658.1 970.0,658.4 970.6,660.8 971.3,658.9 972.0,659.4 972.6,660.3 973.3,659.5 973.9,657.2 974.6,660.2 975.3,660.6 975.9,660.5 976.6,661.5 977.2,659.7 977.9,660.3 978.6,661.4 979.2,658.8 979.9,661.6 980.5,661.6 981.2,660.2 981.9,661.7 982.5,660.3 983.2,657.9 983.8,660.7 984.5,659.5 985.2,659.6 985.8,659.3 986.5,660.9 987.1,659.8 987.8,658.0 988.5,659.7 989.1,660.0 989.8,658.0 990.4,658.4 991.1,658.4 991.8,658.1 992.4,659.4 993.1,660.4 993.7,661.6 994.4,660.6 995.1,660.3 995.7,660.5 996.4,660.8 997.0,658.4 997.7,659.8 998.4,659.3 999.0,658.7 999.7,658.2 1000.3,658.1 1001.0,658.5 1001.7,657.1 1002.3,659.6 1003.0,658.8 1003.6,659.0 1004.3,659.3 1005.0,659.8 1005.6,658.0 1006.3,658.6 1006.9,656.5 1007.6,655.7 1008.3,656.1 1008.9,660.9 1009.6,656.2 1010.2,659.4 1010.9,660.8 1011.6,658.1 1012.2,661.0 1012.9,661.3 1013.5,660.1 1014.2,662.1 1014.9,659.6 1015.5,657.7 1016.2,659.5 1016.8,658.1 1017.5,656.9 1018.2,657.0 1018.8,662.0 1019.5,658.0 1020.1,658.7 1020.8,657.8 1021.5,658.9 1022.1,658.4 1022.8,658.2 1023.4,657.1 1024.1,656.8 1024.8,657.7 1025.4,659.2 1026.1,661.7 1026.7,660.2 1027.4,661.3 1028.1,659.5 1028.7,658.7 1029.4,656.9 1030.0,658.8 1030.7,655.8 1031.4,658.4 1032.0,661.1 1032.7,659.3 1033.3,660.4 1034.0,658.3 1034.7,656.9 1035.3,658.2 1036.0,658.3 1036.6,660.5 1037.3,661.6 1038.0,657.8 1038.6,658.4 1039.3,658.7 1039.9,658.4 1040.6,657.1 1041.3,659.0 1041.9,659.4 1042.6,659.4 1043.2,657.2 1043.9,658.8 1044.6,656.5 1045.2,660.2 1045.9,657.5 1046.5,658.5 1047.2,658.3 1047.9,658.1 1048.5,657.4 1049.2,656.4 1049.8,661.3 1050.5,659.3 1051.2,659.3 1051.8,661.8 1052.5,658.7 1053.1,659.6 1053.8,658.9 1054.5,660.5 1055.1,659.5 1055.8,659.3 1056.4,658.5 1057.1,659.2 1057.8,660.4 1058.4,655.9 1059.1,658.6 1059.7,658.2 1060.4,658.3 1061.1,655.9 1061.7,659.7 1062.4,657.5 1063.0,658.3 1063.7,657.9 1064.4,656.3 1065.0,658.0 1065.7,656.0 1066.3,657.2 1067.0,658.1 1067.7,658.5 1068.3,658.6 1069.0,658.3 1069.6,661.5 1070.3,659.0 1071.0,656.7 1071.6,657.5 1072.3,657.5 1072.9,658.1 1073.6,657.5 1074.3,657.1 1074.9,660.6 1075.6,658.3 1076.2,657.8 1076.9,657.9 1077.6,657.9 1078.2,660.2 1078.9,658.9 1079.5,659.7 1080.2,653.8 1080.9,658.6 1081.5,659.6 1082.2,660.9 1082.8,658.1 1083.5,655.7 1084.2,658.9 1084.8,657.2 1085.5,655.5 1086.1,657.1 1086.8,659.5 1087.5,659.6 1088.1,659.0 1088.8,656.5 1089.4,661.4 1090.1,656.3 1090.8,657.8 1091.4,655.8 1092.1,659.7 1092.7,658.5 1093.4,659.1 1094.1,657.9 1094.7,657.7 1095.4,658.0 1096.0,655.1 1096.7,659.1 1097.4,659.0 1098.0,657.2 1098.7,657.7 1099.3,658.1 1100.0,659.9 1100.7,658.3 1101.3,657.7 1102.0,656.9 1102.6,655.5 1103.3,656.8 1104.0,657.7 1104.6,657.2 1105.3,657.7 1105.9,658.6 1106.6,658.1 1107.3,657.9 1107.9,658.4 1108.6,657.7 1109.2,657.4 1109.9,658.1 1110.6,655.0 1111.2,659.2 1111.9,655.6 1112.5,658.6 1113.2,657.4 1113.9,658.9 1114.5,657.4 1115.2,656.0 1115.8,658.8 1116.5,657.6 1117.2,657.5 1117.8,657.4 1118.5,658.7 1119.1,658.4 1119.8,657.6 1120.5,655.1 1121.1,656.7 1121.8,657.4 1122.4,659.7 1123.1,657.7 1123.8,657.1 1124.4,658.8 1125.1,657.0 1125.7,657.1 1126.4,657.3 1127.1,655.0 1127.7,658.4 1128.4,657.7 1129.0,656.7 1129.7,655.5 1130.4,657.3 1131.0,659.0 1131.7,656.1 1132.3,655.5 1133.0,657.6 1133.7,654.7 1134.3,653.8 1135.0,656.3 1135.6,656.0 1136.3,656.5 1137.0,656.1 1137.6,657.3 1138.3,656.5 1138.9,656.0 1139.6,656.2 1140.3,657.7 1140.9,658.1 1141.6,658.0 1142.2,657.7 1142.9,652.1 1143.6,655.3 1144.2,656.3 1144.9,657.0 1145.5,654.4 1146.2,658.6 1146.9,657.0 1147.5,655.7 1148.2,656.8 1148.8,656.1 1149.5,655.5 1150.2,657.2 1150.8,655.9 1151.5,654.5 1152.1,655.6 1152.8,656.3 1153.5,654.9 1154.1,658.1 1154.8,654.8 1155.4,658.8 1156.1,657.5 1156.8,654.9 1157.4,656.4 1158.1,657.9 1158.7,655.9 1159.4,654.5 1160.1,656.3 1160.7,658.9 1161.4,654.0 1162.0,656.8 1162.7,656.0 1163.4,655.8 1164.0,655.4 1164.7,655.5 1165.3,657.3 1166.0,656.7 1166.7,654.4 1167.3,658.0 1168.0,653.9 1168.6,656.6 1169.3,655.9 1170.0,657.3 1170.6,656.1 1171.3,657.0 1171.9,655.5 1172.6,656.9 1173.3,655.9 1173.9,658.4 1174.6,654.4 1175.2,657.0 1175.9,656.0 1176.6,655.5 1177.2,654.5 1177.9,655.9 1178.5,653.1 1179.2,653.2 1179.9,656.1 1180.5,652.9 1181.2,657.1 1181.8,654.6 1182.5,655.4 1183.2,655.1 1183.8,655.5 1184.5,654.5 1185.1,654.4 1185.8,654.7 1186.5,656.3 1187.1,656.4 1187.8,656.6 1188.4,655.3 1189.1,654.4 1189.8,652.3 1190.4,655.6 1191.1,655.8 1191.7,654.1 1192.4,655.7 1193.1,656.4 1193.7,654.7 1194.4,656.0 1195.0,655.0 1195.7,652.1 1196.4,653.8 1197.0,653.9 1197.7,655.2 1198.3,653.3 1199.0,653.8 1199.7,653.1 1200.3,654.4 1201.0,654.5 1201.6,655.8 1202.3,655.5 1203.0,654.6 1203.6,654.7 1204.3,654.5 1204.9,654.5 1205.6,656.6 1206.3,650.9 1206.9,654.1 1207.6,654.8 1208.2,656.0 1208.9,652.9 1209.6,654.9 1210.2,655.6 1210.9,653.8 1211.5,651.7 1212.2,653.9 1212.9,652.7 1213.5,655.3 1214.2,653.2 1214.8,656.9 1215.5,654.6 1216.2,653.3 1216.8,653.7 1217.5,652.9 1218.1,655.0 1218.8,656.5 1219.5,654.1 1220.1,655.7 1220.8,653.1 1221.4,654.9 1222.1,657.7 1222.8,652.5 1223.4,656.2 1224.1,656.1 1224.7,651.8 1225.4,652.5 1226.1,653.1 1226.7,655.8 1227.4,653.9 1228.0,654.3 1228.7,655.5 1229.4,654.7 1230.0,654.8 1230.7,654.0 1231.3,656.1 1232.0,653.4 1232.7,656.8 1233.3,654.0 1234.0,653.3 1234.6,655.4 1235.3,655.1 1236.0,651.7 1236.6,654.7 1237.3,652.5 1237.9,653.2 1238.6,655.5 1239.3,653.2 1239.9,654.8 1240.6,653.8 1241.2,657.0 1241.9,654.1 1242.6,652.6 1243.2,652.7 1243.9,652.9 1244.5,654.3 1245.2,654.1 1245.9,655.5 1246.5,654.3 1247.2,654.2 1247.8,654.4 1248.5,653.8 1249.2,654.3 1249.8,655.0 1250.5,654.9 1251.1,653.0 1251.8,651.2 1252.5,652.5 1253.1,654.0 1253.8,650.1 1254.4,652.8 1255.1,654.1 1255.8,652.6 1256.4,651.7 1257.1,655.7 1257.7,655.1 1258.4,652.7 1259.1,654.8 1259.7,654.7 1260.4,651.2 1261.0,656.5 1261.7,651.3 1262.4,652.2 1263.0,650.9 1263.7,652.4 1264.3,650.4 1265.0,652.1 1265.7,653.5 1266.3,652.2 1267.0,651.4 1267.6,653.8 1268.3,650.2 1269.0,652.7 1269.6,650.8 1270.3,651.4 1270.9,651.0 1271.6,651.0 1272.3,650.5 1272.9,649.4 1273.6,649.5 1274.2,650.7 1274.9,649.8 1275.6,648.1 1276.2,648.5 1276.9,648.4 1277.5,649.0 1278.2,649.2 1278.9,648.8 1279.5,647.5 1280.2,648.2 1280.8,646.1 1281.5,643.7 1282.2,647.4 1282.8,644.9 1283.5,645.6 1284.1,644.9 1284.8,647.2 1285.5,644.3 1286.1,646.0 1286.8,644.6 1287.4,643.2 1288.1,642.4 1288.8,644.9 1289.4,644.4 1290.1,644.6 1290.7,645.6 1291.4,643.0 1292.1,642.6 1292.7,641.6 1293.4,641.4 1294.0,640.3 1294.7,639.0 1295.4,642.6 1296.0,636.6 1296.7,639.0 1297.3,638.7 1298.0,637.7 1298.7,635.5 1299.3,636.0 1300.0,634.9 1300.6,633.4 1301.3,634.1 1302.0,632.8 1302.6,631.9 1303.3,632.8 1303.9,629.5 1304.6,630.7 1305.3,628.4 1305.9,628.9 1306.6,627.4 1307.2,626.6 1307.9,623.9 1308.6,623.1 1309.2,621.8 1309.9,622.1 1310.5,621.6 1311.2,620.8 1311.9,617.2 1312.5,616.7 1313.2,612.8 1313.8,610.5 1314.5,610.8 1315.2,609.5 1315.8,606.6 1316.5,604.5 1317.1,606.0 1317.8,602.3 1318.5,599.2 1319.1,602.8 1319.8,597.9 1320.4,595.2 1321.1,594.6 1321.8,590.6 1322.4,591.8 1323.1,585.5 1323.7,583.9 1324.4,583.6 1325.1,581.0 1325.7,582.3 1326.4,576.6 1327.0,576.4 1327.7,576.5 1328.4,575.9 1329.0,575.7 1329.7,574.2 1330.3,576.4 1331.0,572.5 1331.7,573.6 1332.3,574.9 1333.0,573.9 1333.6,574.8 1334.3,575.6 1335.0,576.6 1335.6,577.3 1336.3,579.7 1336.9,580.0 1337.6,584.5 1338.3,583.6 1338.9,590.7 1339.6,592.1 1340.2,593.3 1340.9,593.5 1341.6,595.0 1342.2,599.5 1342.9,600.0 1343.5,602.5 1344.2,602.6 1344.9,606.9 1345.5,606.1 1346.2,609.1 1346.8,608.2 1347.5,611.4 1348.2,614.5 1348.8,614.7 1349.5,616.2 1350.1,619.3 1350.8,619.4 1351.5,622.6 1352.1,618.7 1352.8,624.1 1353.4,625.1 1354.1,623.3 1354.8,624.7 1355.4,628.8 1356.1,627.0 1356.7,628.6 1357.4,631.2 1358.1,630.8 1358.7,632.7 1359.4,631.6 1360.0,634.0 1360.7,635.8 1361.4,635.5 1362.0,632.7 1362.7,637.3 1363.3,637.1 1364.0,636.3 1364.7,640.1 1365.3,636.3 1366.0,641.9 1366.6,638.9 1367.3,642.5 1368.0,640.7 1368.6,639.4 1369.3,641.9 1369.9,642.6 1370.6,643.3 1371.3,644.5 1371.9,642.1 1372.6,644.5 1373.2,645.2 1373.9,644.1 1374.6,643.6 1375.2,643.9 1375.9,646.6 1376.5,647.0 1377.2,645.0 1377.9,644.6 1378.5,648.5 1379.2,644.8 1379.8,647.5 1380.5,646.4 1381.2,645.4 1381.8,648.2 1382.5,648.0 1383.1,650.5 1383.8,651.9 1384.5,648.7 1385.1,650.6 1385.8,650.9 1386.4,648.9 1387.1,648.6 1387.8,652.3 1388.4,649.7 1389.1,650.4 1389.7,650.2 1390.4,650.6 1391.1,650.1 1391.7,652.1 1392.4,653.0 1393.0,650.9 1393.7,649.6 1394.4,651.8 1395.0,649.8 1395.7,651.1 1396.3,653.9 1397.0,655.5 1397.7,653.0 1398.3,651.1 1399.0,653.8 1399.6,649.7 1400.3,652.0 1401.0,655.2 1401.6,654.2 1402.3,651.4 1402.9,651.1 1403.6,654.7 1404.3,653.6 1404.9,652.9 1405.6,654.4 1406.2,653.1 1406.9,651.4 1407.6,655.3 1408.2,653.3 1408.9,652.9 1409.5,652.5 1410.2,654.8 1410.9,653.5 1411.5,655.5 1412.2,654.4 1412.8,656.3 1413.5,654.4 1414.2,654.1 1414.8,652.3 1415.5,653.6 1416.1,656.2 1416.8,659.5 1417.5,653.6 1418.1,654.0 1418.8,655.9 1419.4,656.2 1420.1,654.7 1420.8,655.8 1421.4,653.5 1422.1,655.4 1422.7,657.1 1423.4,658.2 1424.1,655.7 1424.7,655.6 1425.4,656.7 1426.0,657.6 1426.7,656.8 1427.4,655.1 1428.0,656.7 1428.7,657.6 1429.3,655.3 1430.0,654.5 1430.7,657.1 1431.3,656.9 1432.0,657.8 1432.6,656.6 1433.3,655.6 1434.0,656.0 1434.6,655.2 1435.3,655.3 1435.9,655.9 1436.6,656.0 1437.3,658.2 1437.9,655.0 1438.6,656.7 1439.2,655.9 1439.9,658.8 1440.6,657.1 1441.2,656.3 1441.9,657.9 1442.5,656.9 1443.2,656.1 1443.9,658.9 1444.5,657.8 1445.2,659.2 1445.8,658.4 1446.5,657.9 1447.2,657.0 1447.8,655.3 1448.5,657.8 1449.1,656.9 1449.8,657.7 1450.5,656.7 1451.1,655.7 1451.8,655.3 1452.4,657.6 1453.1,658.4 1453.8,656.2 1454.4,657.2 1455.1,658.5 1455.7,655.3 1456.4,656.0 1457.1,654.9 1457.7,658.0 1458.4,656.7 1459.0,655.6 1459.7,653.9 1460.4,655.9 1461.0,657.5 1461.7,655.6 1462.3,655.4 1463.0,656.8 1463.7,654.1 1464.3,655.9 1465.0,656.5 1465.6,654.6 1466.3,654.4 1467.0,655.8 1467.6,655.3 1468.3,655.0 1468.9,655.5 1469.6,655.5 1470.3,653.8 1470.9,654.0 1471.6,655.5 1472.2,656.3 1472.9,656.6 1473.6,653.4 1474.2,656.0 1474.9,655.5 1475.5,654.3 1476.2,654.9 1476.9,655.3 1477.5,656.5 1478.2,652.4 1478.8,654.6 1479.5,653.5 1480.2,653.3 1480.8,655.1 1481.5,654.5 1482.1,651.9 1482.8,652.8 1483.5,653.4 1484.1,651.0 1484.8,654.1 1485.4,652.7 1486.1,652.9 1486.8,653.1 1487.4,655.0 1488.1,652.5 1488.7,651.9 1489.4,654.7 1490.1,651.5 1490.7,651.4 1491.4,650.1 1492.0,653.5 1492.7,652.3 1493.4,652.5 1494.0,652.0 1494.7,651.5 1495.3,650.6 1496.0,650.5 1496.7,652.2 1497.3,651.7 1498.0,653.7 1498.6,650.4 1499.3,650.7 1500.0,650.0 1500.6,653.3 1501.3,649.6 1501.9,652.4 1502.6,653.3 1503.3,651.1 1503.9,652.3 1504.6,648.4 1505.2,650.8 1505.9,649.1 1506.6,651.6 1507.2,651.5 1507.9,650.4 1508.5,652.8 1509.2,652.0 1509.9,650.9 1510.5,650.9 1511.2,649.7 1511.8,651.5 1512.5,654.8 1513.2,650.9 1513.8,652.6 1514.5,651.3 1515.1,653.3 1515.8,652.8 1516.5,652.0 1517.1,649.9 1517.8,651.8 1518.4,654.3 1519.1,652.4 1519.8,653.7 1520.4,652.2 1521.1,650.4 1521.7,653.7 1522.4,653.7 1523.1,652.6 1523.7,653.0 1524.4,654.0 1525.0,652.9 1525.7,654.3 1526.4,653.7 1527.0,650.8 1527.7,654.0 1528.3,653.5 1529.0,653.3 1529.7,655.1 1530.3,654.0 1531.0,655.6 1531.6,656.4 1532.3,655.3 1533.0,653.0 1533.6,654.3 1534.3,656.7 1534.9,655.2 1535.6,654.5 1536.3,655.6 1536.9,656.6 1537.6,656.4 1538.2,657.0 1538.9,655.1 1539.6,656.0 1540.2,656.1 1540.9,656.5 1541.5,653.7 1542.2,656.4 1542.9,655.0 1543.5,658.9 1544.2,659.2 1544.8,659.5 1545.5,658.3 1546.2,656.6 1546.8,658.7 1547.5,657.2 1548.1,658.4 1548.8,656.4 1549.5,656.9 1550.1,658.4 1550.8,660.3 1551.4,657.9 1552.1,661.1 1552.8,661.9 1553.4,656.4 1554.1,658.2 1554.7,656.9 1555.4,658.1 1556.1,657.6 1556.7,658.3 1557.4,659.8 1558.0,659.8 1558.7,658.9 1559.4,658.6 1560.0,658.8 1560.7,658.9 1561.3,659.5 1562.0,658.8 1562.7,659.5 1563.3,657.0 1564.0,660.0 1564.6,661.3" fill="none" stroke="#008080" stroke-width="4.6" stroke-linejoin="round"/>
<polyline points="110.0,772.8 110.7,770.6 111.3,774.5 112.0,772.1 112.6,768.5 113.3,772.3 114.0,773.4 114.6,773.1 115.3,774.3 115.9,773.5 116.6,772.8 117.3,769.9 117.9,771.1 118.6,772.9 119.2,773.6 119.9,771.2 120.6,771.8 121.2,773.3 121.9,770.0 122.5,769.9 123.2,772.3 123.9,773.0 124.5,772.0 125.2,769.5 125.8,772.7 126.5,770.8 127.2,773.5 127.8,772.5 128.5,773.0 129.1,773.5 129.8,771.9 130.5,773.8 131.1,774.4 131.8,773.2 132.4,774.5 133.1,771.8 133.8,774.0 134.4,773.1 135.1,771.3 135.7,772.6 136.4,772.0 137.1,772.0 137.7,772.8 138.4,774.2 139.0,772.3 139.7,772.9 140.4,770.7 141.0,772.9 141.7,774.4 142.3,773.9 143.0,773.5 143.7,772.1 144.3,771.5 145.0,772.7 145.6,771.0 146.3,771.1 147.0,774.2 147.6,771.6 148.3,775.4 148.9,770.9 149.6,773.5 150.3,771.3 150.9,773.2 151.6,771.5 152.2,773.1 152.9,772.8 153.6,772.4 154.2,773.8 154.9,775.2 155.5,772.3 156.2,774.4 156.9,773.3 157.5,773.1 158.2,776.2 158.8,770.2 159.5,772.3 160.2,770.8 160.8,772.9 161.5,773.0 162.1,778.6 162.8,773.9 163.5,775.9 164.1,775.2 164.8,772.9 165.4,774.2 166.1,775.8 166.8,773.8 167.4,773.9 168.1,774.3 168.7,771.6 169.4,772.5 170.1,774.2 170.7,774.5 171.4,772.5 172.0,773.4 172.7,773.7 173.4,773.7 174.0,774.9 174.7,774.1 175.3,774.2 176.0,772.0 176.7,772.6 177.3,774.5 178.0,771.9 178.6,774.5 179.3,773.2 180.0,773.1 180.6,775.1 181.3,773.3 181.9,773.1 182.6,773.4 183.3,774.4 183.9,778.2 184.6,771.5 185.2,774.4 185.9,774.1 186.6,775.8 187.2,774.0 187.9,771.1 188.5,776.4 189.2,773.1 189.9,774.5 190.5,772.8 191.2,773.2 191.8,774.0 192.5,775.9 193.2,775.9 193.8,773.9 194.5,775.5 195.1,774.3 195.8,775.0 196.5,775.1 197.1,775.7 197.8,774.1 198.4,774.7 199.1,775.3 199.8,775.1 200.4,773.9 201.1,777.4 201.7,774.4 202.4,776.1 203.1,775.3 203.7,776.8 204.4,772.0 205.0,777.9 205.7,774.8 206.4,773.4 207.0,775.3 207.7,778.3 208.3,775.8 209.0,773.4 209.7,774.5 210.3,777.0 211.0,773.2 211.6,774.9 212.3,774.7 213.0,778.2 213.6,774.8 214.3,777.0 214.9,774.2 215.6,774.0 216.3,776.5 216.9,776.0 217.6,772.7 218.2,776.0 218.9,776.0 219.6,774.3 220.2,775.4 220.9,775.5 221.5,774.4 222.2,774.2 222.9,774.1 223.5,774.7 224.2,773.2 224.8,774.9 225.5,772.9 226.2,775.1 226.8,774.8 227.5,773.5 228.1,776.1 228.8,777.6 229.5,776.7 230.1,772.9 230.8,776.5 231.4,775.0 232.1,774.6 232.8,773.9 233.4,774.6 234.1,776.5 234.7,775.3 235.4,774.0 236.1,773.6 236.7,773.9 237.4,775.2 238.0,777.0 238.7,772.9 239.4,774.3 240.0,773.7 240.7,773.1 241.3,774.7 242.0,774.8 242.7,772.1 243.3,772.5 244.0,775.6 244.6,774.3 245.3,774.5 246.0,773.1 246.6,773.2 247.3,774.3 247.9,772.9 248.6,772.0 249.3,773.5 249.9,774.7 250.6,771.9 251.2,774.7 251.9,774.2 252.6,772.0 253.2,773.1 253.9,773.0 254.5,773.8 255.2,773.8 255.9,771.0 256.5,770.9 257.2,774.1 257.8,772.8 258.5,773.2 259.2,773.0 259.8,774.6 260.5,770.7 261.1,773.8 261.8,771.1 262.5,773.2 263.1,774.0 263.8,770.2 264.4,772.6 265.1,771.6 265.8,771.5 266.4,771.9 267.1,770.3 267.7,770.4 268.4,772.5 269.1,772.7 269.7,770.7 270.4,769.4 271.0,774.6 271.7,772.9 272.4,771.8 273.0,769.8 273.7,770.4 274.3,771.4 275.0,769.7 275.7,773.2 276.3,771.1 277.0,771.4 277.6,769.4 278.3,769.5 279.0,769.6 279.6,771.0 280.3,770.2 280.9,770.1 281.6,770.9 282.3,770.7 282.9,772.4 283.6,770.0 284.2,768.8 284.9,770.2 285.6,772.1 286.2,769.3 286.9,770.1 287.5,769.5 288.2,770.5 288.9,770.2 289.5,768.7 290.2,769.4 290.8,771.0 291.5,771.2 292.2,770.9 292.8,770.8 293.5,769.1 294.1,769.0 294.8,770.7 295.5,767.8 296.1,769.3 296.8,766.7 297.4,768.7 298.1,768.2 298.8,767.5 299.4,769.9 300.1,768.1 300.7,768.5 301.4,768.6 302.1,767.9 302.7,770.9 303.4,768.2 304.0,769.1 304.7,767.0 305.4,768.1 306.0,768.3 306.7,768.3 307.3,767.8 308.0,768.8 308.7,770.7 309.3,768.3 310.0,768.3 310.6,767.9 311.3,771.9 312.0,770.6 312.6,769.1 313.3,769.3 313.9,767.3 314.6,768.0 315.3,768.5 315.9,768.3 316.6,766.9 317.2,767.0 317.9,768.7 318.6,768.4 319.2,765.0 319.9,768.0 320.5,769.5 321.2,766.9 321.9,768.0 322.5,765.6 323.2,768.7 323.8,766.0 324.5,765.7 325.2,767.0 325.8,770.6 326.5,766.4 327.1,765.5 327.8,767.8 328.5,767.4 329.1,769.3 329.8,765.2 330.4,764.6 331.1,766.3 331.8,767.2 332.4,767.1 333.1,768.0 333.7,764.3 334.4,765.2 335.1,766.0 335.7,767.3 336.4,766.7 337.0,765.3 337.7,764.4 338.4,766.9 339.0,766.9 339.7,769.2 340.3,765.2 341.0,767.5 341.7,763.5 342.3,764.3 343.0,764.0 343.6,764.2 344.3,763.5 345.0,763.8 345.6,764.4 346.3,763.7 346.9,765.1 347.6,763.9 348.3,763.9 348.9,765.8 349.6,764.1 350.2,763.7 350.9,763.3 351.6,763.3 352.2,763.9 352.9,761.8 353.5,764.4 354.2,764.8 354.9,764.1 355.5,761.7 356.2,760.0 356.8,761.4 357.5,762.1 358.2,762.8 358.8,761.3 359.5,761.0 360.1,763.3 360.8,760.1 361.5,762.4 362.1,762.0 362.8,758.7 363.4,760.8 364.1,759.5 364.8,758.8 365.4,757.3 366.1,757.6 366.7,760.1 367.4,758.8 368.1,759.6 368.7,757.5 369.4,758.4 370.0,758.3 370.7,756.3 371.4,756.0 372.0,758.7 372.7,758.1 373.3,756.4 374.0,757.4 374.7,758.3 375.3,759.7 376.0,755.7 376.6,757.6 377.3,759.5 378.0,756.5 378.6,758.2 379.3,752.4 379.9,757.8 380.6,755.6 381.3,752.8 381.9,756.2 382.6,756.4 383.2,756.4 383.9,756.2 384.6,754.3 385.2,753.1 385.9,753.2 386.5,753.6 387.2,754.0 387.9,752.5 388.5,753.0 389.2,753.9 389.8,752.9 390.5,755.4 391.2,755.0 391.8,750.2 392.5,750.7 393.1,749.4 393.8,749.4 394.5,751.5 395.1,749.1 395.8,748.7 396.4,749.5 397.1,750.7 397.8,748.8 398.4,748.5 399.1,750.0 399.7,749.0 400.4,748.7 401.1,749.0 401.7,746.0 402.4,747.4 403.0,745.8 403.7,747.8 404.4,747.1 405.0,744.2 405.7,747.0 406.3,743.2 407.0,746.0 407.7,744.3 408.3,742.3 409.0,741.6 409.6,742.2 410.3,742.1 411.0,740.7 411.6,741.9 412.3,738.7 412.9,740.1 413.6,739.5 414.3,736.4 414.9,738.8 415.6,736.0 416.2,733.7 416.9,735.6 417.6,735.4 418.2,736.3 418.9,733.6 419.5,735.5 420.2,734.7 420.9,733.4 421.5,732.8 422.2,730.6 422.8,728.4 423.5,729.0 424.2,728.4 424.8,726.4 425.5,724.6 426.1,721.6 426.8,723.5 427.5,721.7 428.1,718.1 428.8,718.7 429.4,718.1 430.1,715.4 430.8,715.0 431.4,713.3 432.1,708.5 432.7,708.3 433.4,707.5 434.1,706.1 434.7,704.8 435.4,698.0 436.0,698.3 436.7,697.1 437.4,695.3 438.0,693.4 438.7,687.2 439.3,685.3 440.0,681.5 440.7,681.2 441.3,675.3 442.0,675.7 442.6,672.2 443.3,668.4 444.0,661.5 444.6,660.3 445.3,659.1 445.9,652.8 446.6,651.2 447.3,648.2 447.9,646.5 448.6,642.7 449.2,639.8 449.9,636.2 450.6,634.4 451.2,632.0 451.9,631.3 452.5,628.4 453.2,628.8 453.9,624.1 454.5,627.6 455.2,625.5 455.8,627.5 456.5,626.6 457.2,628.7 457.8,630.8 458.5,629.7 459.1,632.5 459.8,634.4 460.5,637.4 461.1,637.6 461.8,642.5 462.4,645.4 463.1,647.8 463.8,651.9 464.4,653.3 465.1,660.8 465.7,662.8 466.4,668.2 467.1,667.7 467.7,670.5 468.4,675.8 469.0,676.2 469.7,681.9 470.4,683.6 471.0,687.1 471.7,690.7 472.3,693.1 473.0,698.3 473.7,699.1 474.3,698.9 475.0,704.4 475.6,703.4 476.3,707.6 477.0,707.8 477.6,710.4 478.3,715.3 478.9,714.5 479.6,716.2 480.3,718.0 480.9,719.9 481.6,723.9 482.2,721.8 482.9,723.1 483.6,727.0 484.2,725.3 484.9,728.2 485.5,731.5 486.2,731.1 486.9,731.6 487.5,732.3 488.2,733.0 488.8,734.5 489.5,736.4 490.2,738.9 490.8,739.4 491.5,738.1 492.1,738.7 492.8,741.4 493.5,738.7 494.1,741.3 494.8,742.2 495.4,741.8 496.1,742.6 496.8,745.1 497.4,742.9 498.1,744.5 498.7,745.4 499.4,747.0 500.1,745.5 500.7,749.4 501.4,748.0 502.0,748.5 502.7,748.9 503.4,748.9 504.0,748.9 504.7,752.3 505.3,751.4 506.0,751.3 506.7,753.2 507.3,751.3 508.0,753.5 508.6,753.0 509.3,752.1 510.0,754.7 510.6,751.9 511.3,755.2 511.9,753.3 512.6,755.4 513.3,757.1 513.9,756.2 514.6,754.9 515.2,755.9 515.9,755.7 516.6,754.9 517.2,755.2 517.9,757.0 518.5,757.9 519.2,755.0 519.9,757.5 520.5,758.5 521.2,758.2 521.8,756.8 522.5,759.8 523.2,756.9 523.8,759.7 524.5,761.2 525.1,756.3 525.8,759.7 526.5,759.9 527.1,759.9 527.8,758.7 528.4,759.5 529.1,758.1 529.8,760.4 530.4,761.1 531.1,759.5 531.7,759.3 532.4,760.1 533.1,760.8 533.7,761.0 534.4,760.9 535.0,761.2 535.7,759.4 536.4,757.6 537.0,762.3 537.7,763.5 538.3,759.7 539.0,760.8 539.7,762.2 540.3,763.1 541.0,762.8 541.6,763.7 542.3,761.9 543.0,762.6 543.6,762.7 544.3,761.6 544.9,763.9 545.6,763.1 546.3,763.6 546.9,761.8 547.6,763.8 548.2,760.9 548.9,762.9 549.6,758.8 550.2,761.1 550.9,763.5 551.5,761.8 552.2,762.7 552.9,760.2 553.5,764.6 554.2,763.2 554.8,762.4 555.5,763.0 556.2,762.8 556.8,764.3 557.5,762.6 558.1,760.2 558.8,761.9 559.5,763.9 560.1,762.9 560.8,761.5 561.4,762.8 562.1,762.1 562.8,762.7 563.4,759.6 564.1,760.4 564.7,762.5 565.4,761.2 566.1,761.9 566.7,764.0 567.4,760.7 568.0,761.4 568.7,760.2 569.4,759.9 570.0,760.5 570.7,758.5 571.3,757.4 572.0,762.0 572.7,759.9 573.3,761.3 574.0,759.8 574.6,759.6 575.3,760.1 576.0,760.0 576.6,757.1 577.3,760.2 577.9,757.0 578.6,758.3 579.3,761.2 579.9,757.6 580.6,759.5 581.2,756.4 581.9,757.4 582.6,756.3 583.2,756.4 583.9,754.3 584.5,753.8 585.2,755.2 585.9,752.1 586.5,752.7 587.2,754.3 587.8,752.1 588.5,751.2 589.2,750.3 589.8,751.5 590.5,750.2 591.1,750.3 591.8,749.2 592.5,751.3 593.1,747.5 593.8,744.6 594.4,746.7 595.1,745.7 595.8,745.0 596.4,741.6 597.1,744.4 597.7,741.7 598.4,740.6 599.1,737.3 599.7,738.8 600.4,736.7 601.0,737.2 601.7,733.2 602.4,730.4 603.0,730.4 603.7,727.0 604.3,726.7 605.0,722.4 605.7,721.1 606.3,718.3 607.0,715.5 607.6,711.6 608.3,707.6 609.0,704.7 609.6,699.7 610.3,695.9 610.9,690.2 611.6,681.9 612.3,678.7 612.9,674.1 613.6,665.6 614.2,658.6 614.9,650.9 615.6,642.1 616.2,633.6 616.9,629.9 617.5,624.7 618.2,619.8 618.9,617.2 619.5,616.6 620.2,617.3 620.8,620.9 621.5,625.1 622.2,631.3 622.8,636.0 623.5,643.3 624.1,651.8 624.8,657.3 625.5,660.9 626.1,670.2 626.8,672.4 627.4,682.9 628.1,685.6 628.8,689.4 629.4,690.9 630.1,693.1 630.7,696.7 631.4,698.9 632.1,699.4 632.7,701.8 633.4,703.4 634.0,703.7 634.7,701.7 635.4,700.2 636.0,703.1 636.7,702.2 637.3,703.7 638.0,705.3 638.7,705.3 639.3,703.5 640.0,704.6 640.6,705.3 641.3,703.1 642.0,703.5 642.6,704.2 643.3,703.0 643.9,702.4 644.6,702.1 645.3,705.2 645.9,707.0 646.6,711.8 647.2,713.3 647.9,718.8 648.6,721.5 649.2,721.2 649.9,727.2 650.5,727.9 651.2,732.9 651.9,734.3 652.5,735.8 653.2,739.0 653.8,739.4 654.5,742.4 655.2,744.3 655.8,745.2 656.5,747.4 657.1,747.0 657.8,750.4 658.5,749.3 659.1,752.9 659.8,753.8 660.4,755.1 661.1,754.4 661.8,760.1 662.4,756.6 663.1,757.9 663.7,757.4 664.4,761.1 665.1,759.2 665.7,761.8 666.4,759.8 667.0,762.0 667.7,761.7 668.4,763.9 669.0,762.8 669.7,762.5 670.3,764.7 671.0,762.9 671.7,763.6 672.3,766.3 673.0,763.2 673.6,767.0 674.3,765.8 675.0,765.4 675.6,767.3 676.3,768.1 676.9,766.8 677.6,767.6 678.3,769.1 678.9,769.3 679.6,768.5 680.2,767.8 680.9,767.8 681.6,768.4 682.2,770.3 682.9,770.4 683.5,770.2 684.2,771.9 684.9,769.8 685.5,769.9 686.2,770.0 686.8,773.2 687.5,768.1 688.2,771.4 688.8,771.8 689.5,771.4 690.1,774.5 690.8,773.1 691.5,772.7 692.1,770.6 692.8,772.6 693.4,771.6 694.1,772.3 694.8,772.6 695.4,771.8 696.1,773.4 696.7,774.8 697.4,774.1 698.1,773.1 698.7,770.4 699.4,774.4 700.0,774.5 700.7,772.9 701.4,772.6 702.0,774.2 702.7,772.4 703.3,774.6 704.0,772.2 704.7,772.5 705.3,773.8 706.0,771.9 706.6,773.9 707.3,774.6 708.0,772.3 708.6,775.3 709.3,773.4 709.9,774.9 710.6,774.5 711.3,773.7 711.9,773.7 712.6,772.2 713.2,773.6 713.9,773.5 714.6,776.7 715.2,776.0 715.9,772.9 716.5,775.8 717.2,775.1 717.9,774.3 718.5,775.5 719.2,775.9 719.8,774.2 720.5,774.6 721.2,775.2 721.8,773.8 722.5,775.3 723.1,775.0 723.8,774.3 724.5,774.1 725.1,775.6 725.8,776.4 726.4,775.7 727.1,774.2 727.8,776.3 728.4,775.6 729.1,776.2 729.7,777.0 730.4,774.3 731.1,775.3 731.7,774.7 732.4,774.4 733.0,778.2 733.7,776.8 734.4,773.3 735.0,776.2 735.7,774.9 736.3,777.2 737.0,775.8 737.7,775.5 738.3,775.9 739.0,776.3 739.6,775.8 740.3,775.5 741.0,775.6 741.6,776.5 742.3,774.4 742.9,775.9 743.6,775.7 744.3,775.3 744.9,776.9 745.6,774.2 746.2,775.5 746.9,774.9 747.6,776.7 748.2,775.4 748.9,776.1 749.5,776.5 750.2,774.0 750.9,776.6 751.5,775.1 752.2,775.8 752.8,776.0 753.5,777.2 754.2,777.1 754.8,778.4 755.5,776.4 756.1,775.5 756.8,775.5 757.5,777.0 758.1,778.3 758.8,776.7 759.4,775.5 760.1,776.6 760.8,776.6 761.4,776.3 762.1,775.3 762.7,773.0 763.4,775.6 764.1,777.7 764.7,776.6 765.4,773.4 766.0,776.4 766.7,773.9 767.4,779.0 768.0,776.6 768.7,774.8 769.3,777.4 770.0,775.4 770.7,777.1 771.3,776.4 772.0,774.9 772.6,777.3 773.3,774.7 774.0,778.2 774.6,776.5 775.3,775.1 775.9,774.1 776.6,778.6 777.3,778.4 777.9,774.8 778.6,778.6 779.2,776.7 779.9,776.2 780.6,776.3 781.2,776.1 781.9,778.3 782.5,776.6 783.2,774.0 783.9,779.1 784.5,777.6 785.2,775.0 785.8,775.9 786.5,775.2 787.2,776.4 787.8,776.8 788.5,776.6 789.1,775.5 789.8,775.2 790.5,777.4 791.1,776.1 791.8,779.1 792.4,775.1 793.1,777.2 793.8,776.2 794.4,775.1 795.1,777.9 795.7,776.2 796.4,774.9 797.1,775.6 797.7,777.3 798.4,774.3 799.0,777.7 799.7,776.8 800.4,775.5 801.0,777.6 801.7,778.1 802.3,776.6 803.0,776.0 803.7,778.2 804.3,777.7 805.0,774.5 805.6,775.4 806.3,775.4 807.0,775.1 807.6,773.7 808.3,776.8 808.9,775.7 809.6,775.7 810.3,777.4 810.9,774.8 811.6,775.5 812.2,775.9 812.9,775.0 813.6,775.4 814.2,776.6 814.9,775.5 815.5,777.3 816.2,774.5 816.9,775.8 817.5,773.7 818.2,775.4 818.8,774.6 819.5,777.3 820.2,776.5 820.8,776.2 821.5,777.9 822.1,777.4 822.8,776.5 823.5,774.6 824.1,773.6 824.8,775.5 825.4,775.1 826.1,774.7 826.8,775.1 827.4,773.3 828.1,777.5 828.7,774.0 829.4,774.6 830.1,776.3 830.7,773.4 831.4,776.8 832.0,776.8 832.7,775.1 833.4,774.1 834.0,774.9 834.7,773.1 835.3,777.4 836.0,775.6 836.7,774.6 837.3,774.4 838.0,776.3 838.6,777.6 839.3,773.9 840.0,774.8 840.6,773.3 841.3,776.5 841.9,775.8 842.6,778.6 843.3,775.5 843.9,775.1 844.6,774.7 845.2,776.8 845.9,773.5 846.6,776.6 847.2,776.0 847.9,775.0 848.5,774.5 849.2,777.1 849.9,778.2 850.5,775.1 851.2,776.4 851.8,778.0 852.5,774.9 853.2,775.4 853.8,774.1 854.5,775.5 855.1,775.6 855.8,775.2 856.5,774.8 857.1,773.7 857.8,774.0 858.4,774.5 859.1,776.7 859.8,775.1 860.4,774.7 861.1,776.7 861.7,776.6 862.4,774.9 863.1,775.0 863.7,776.8 864.4,776.4 865.0,774.8 865.7,776.2 866.4,775.9 867.0,777.4 867.7,774.8 868.3,777.2 869.0,776.6 869.7,774.7 870.3,777.4 871.0,777.3 871.6,774.3 872.3,778.7 873.0,774.6 873.6,774.9 874.3,775.7 874.9,777.2 875.6,776.9 876.3,776.1 876.9,778.0 877.6,776.8 878.2,778.1 878.9,780.0 879.6,776.6 880.2,772.9 880.9,775.7 881.5,774.9 882.2,776.5 882.9,776.6 883.5,774.8 884.2,774.9 884.8,776.2 885.5,776.3 886.2,773.1 886.8,777.9 887.5,776.7 888.1,776.6 888.8,777.1 889.5,775.3 890.1,776.7 890.8,778.2 891.4,778.2 892.1,777.4 892.8,776.5 893.4,775.8 894.1,778.7 894.7,777.6 895.4,776.4 896.1,774.0 896.7,775.8 897.4,774.4 898.0,778.7 898.7,777.3 899.4,776.1 900.0,776.7 900.7,780.7 901.3,778.8 902.0,775.3 902.7,777.0 903.3,775.5 904.0,774.9 904.6,777.5 905.3,780.5 906.0,779.4 906.6,777.3 907.3,776.8 907.9,777.6 908.6,778.7 909.3,775.3 909.9,774.8 910.6,779.9 911.2,777.7 911.9,779.6 912.6,777.7 913.2,779.4 913.9,776.5 914.5,778.1 915.2,779.5 915.9,778.8 916.5,776.8 917.2,778.6 917.8,776.5 918.5,775.4 919.2,778.1 919.8,779.4 920.5,778.6 921.1,775.7 921.8,778.6 922.5,778.4 923.1,776.8 923.8,774.0 924.4,778.8 925.1,778.7 925.8,778.1 926.4,775.0 927.1,775.4 927.7,778.8 928.4,778.6 929.1,778.1 929.7,777.1 930.4,778.0 931.0,776.7 931.7,777.0 932.4,776.2 933.0,777.8 933.7,776.9 934.3,778.8 935.0,778.4 935.7,776.3 936.3,780.0 937.0,775.9 937.6,778.1 938.3,778.9 939.0,779.2 939.6,774.4 940.3,778.8 940.9,779.1 941.6,779.4 942.3,774.3 942.9,776.5 943.6,777.3 944.2,776.8 944.9,779.3 945.6,776.4 946.2,779.1 946.9,778.2 947.5,775.3 948.2,776.0 948.9,776.7 949.5,777.5 950.2,778.7 950.8,777.1 951.5,778.6 952.2,775.1 952.8,773.0 953.5,776.8 954.1,777.9 954.8,776.7 955.5,775.8 956.1,777.8 956.8,779.9 957.4,777.0 958.1,776.2 958.8,776.0 959.4,779.9 960.1,777.1 960.7,778.0 961.4,778.8 962.1,778.6 962.7,775.8 963.4,778.4 964.0,778.2 964.7,777.7 965.4,778.4 966.0,776.2 966.7,776.9 967.3,776.2 968.0,778.0 968.7,776.0 969.3,777.4 970.0,775.3 970.6,776.7 971.3,776.3 972.0,776.7 972.6,777.0 973.3,776.5 973.9,776.5 974.6,773.9 975.3,778.3 975.9,775.9 976.6,776.4 977.2,775.6 977.9,778.1 978.6,775.4 979.2,777.4 979.9,778.3 980.5,779.0 981.2,778.3 981.9,777.5 982.5,774.9 983.2,778.4 983.8,778.3 984.5,777.8 985.2,777.7 985.8,776.7 986.5,775.8 987.1,778.0 987.8,778.3 988.5,775.1 989.1,777.8 989.8,776.8 990.4,777.7 991.1,776.9 991.8,778.0 992.4,777.9 993.1,777.7 993.7,774.5 994.4,777.6 995.1,776.5 995.7,774.8 996.4,777.4 997.0,774.5 997.7,777.6 998.4,778.7 999.0,775.7 999.7,777.6 1000.3,777.0 1001.0,777.2 1001.7,774.4 1002.3,777.2 1003.0,776.5 1003.6,777.3 1004.3,776.3 1005.0,777.8 1005.6,776.6 1006.3,777.2 1006.9,778.1 1007.6,776.5 1008.3,777.6 1008.9,776.5 1009.6,776.9 1010.2,775.5 1010.9,777.3 1011.6,777.9 1012.2,776.0 1012.9,777.3 1013.5,776.7 1014.2,774.6 1014.9,776.6 1015.5,777.9 1016.2,775.4 1016.8,773.6 1017.5,776.4 1018.2,775.2 1018.8,778.7 1019.5,776.0 1020.1,776.0 1020.8,775.2 1021.5,776.4 1022.1,775.2 1022.8,774.7 1023.4,775.9 1024.1,774.9 1024.8,777.8 1025.4,774.3 1026.1,775.8 1026.7,775.0 1027.4,774.0 1028.1,778.2 1028.7,773.0 1029.4,777.9 1030.0,773.9 1030.7,776.0 1031.4,778.9 1032.0,772.9 1032.7,773.9 1033.3,777.6 1034.0,776.0 1034.7,775.0 1035.3,775.7 1036.0,774.4 1036.6,775.9 1037.3,777.8 1038.0,775.2 1038.6,775.9 1039.3,777.3 1039.9,778.4 1040.6,774.8 1041.3,776.0 1041.9,774.8 1042.6,774.7 1043.2,775.0 1043.9,774.6 1044.6,773.1 1045.2,772.7 1045.9,774.4 1046.5,775.6 1047.2,777.1 1047.9,774.6 1048.5,775.1 1049.2,776.2 1049.8,776.3 1050.5,775.1 1051.2,775.1 1051.8,777.7 1052.5,774.7 1053.1,774.4 1053.8,772.8 1054.5,775.6 1055.1,774.6 1055.8,777.6 1056.4,774.5 1057.1,776.0 1057.8,776.1 1058.4,777.1 1059.1,773.0 1059.7,776.9 1060.4,774.7 1061.1,774.5 1061.7,774.2 1062.4,774.0 1063.0,774.1 1063.7,771.3 1064.4,775.2 1065.0,774.5 1065.7,773.1 1066.3,774.2 1067.0,777.4 1067.7,774.8 1068.3,773.7 1069.0,776.5 1069.6,773.0 1070.3,773.9 1071.0,773.3 1071.6,773.7 1072.3,775.0 1072.9,774.7 1073.6,772.9 1074.3,773.7 1074.9,773.9 1075.6,773.2 1076.2,773.7 1076.9,772.7 1077.6,772.7 1078.2,773.7 1078.9,772.2 1079.5,774.1 1080.2,773.2 1080.9,772.2 1081.5,772.6 1082.2,772.7 1082.8,773.1 1083.5,773.5 1084.2,773.0 1084.8,772.1 1085.5,775.2 1086.1,774.4 1086.8,773.3 1087.5,774.4 1088.1,773.5 1088.8,772.7 1089.4,773.1 1090.1,776.6 1090.8,774.3 1091.4,774.3 1092.1,772.3 1092.7,773.6 1093.4,775.8 1094.1,773.3 1094.7,774.1 1095.4,774.4 1096.0,773.5 1096.7,774.7 1097.4,772.8 1098.0,773.2 1098.7,771.6 1099.3,776.0 1100.0,772.8 1100.7,772.5 1101.3,774.2 1102.0,771.6 1102.6,772.2 1103.3,771.1 1104.0,772.2 1104.6,771.6 1105.3,772.8 1105.9,771.9 1106.6,771.2 1107.3,771.6 1107.9,771.8 1108.6,771.2 1109.2,773.2 1109.9,772.8 1110.6,772.0 1111.2,770.2 1111.9,772.4 1112.5,770.0 1113.2,771.9 1113.9,771.7 1114.5,770.8 1115.2,770.4 1115.8,770.6 1116.5,774.3 1117.2,771.1 1117.8,771.1 1118.5,772.7 1119.1,771.9 1119.8,772.7 1120.5,769.6 1121.1,769.8 1121.8,775.7 1122.4,771.1 1123.1,770.7 1123.8,771.3 1124.4,772.4 1125.1,769.4 1125.7,771.4 1126.4,770.9 1127.1,771.8 1127.7,771.1 1128.4,770.1 1129.0,769.6 1129.7,767.5 1130.4,772.0 1131.0,768.7 1131.7,770.1 1132.3,772.8 1133.0,770.0 1133.7,771.3 1134.3,770.2 1135.0,771.4 1135.6,770.4 1136.3,769.7 1137.0,772.1 1137.6,769.9 1138.3,768.4 1138.9,769.8 1139.6,770.9 1140.3,768.6 1140.9,771.1 1141.6,771.1 1142.2,772.9 1142.9,769.1 1143.6,770.8 1144.2,767.6 1144.9,769.3 1145.5,769.9 1146.2,770.3 1146.9,769.6 1147.5,769.5 1148.2,768.8 1148.8,769.0 1149.5,769.9 1150.2,770.2 1150.8,770.3 1151.5,770.7 1152.1,770.9 1152.8,766.9 1153.5,768.6 1154.1,769.0 1154.8,768.3 1155.4,770.5 1156.1,770.1 1156.8,768.9 1157.4,769.2 1158.1,770.6 1158.7,768.4 1159.4,768.4 1160.1,770.0 1160.7,769.4 1161.4,770.6 1162.0,769.2 1162.7,769.6 1163.4,767.9 1164.0,767.3 1164.7,768.5 1165.3,764.9 1166.0,768.9 1166.7,769.7 1167.3,768.4 1168.0,768.0 1168.6,769.7 1169.3,768.1 1170.0,769.4 1170.6,771.0 1171.3,769.0 1171.9,769.3 1172.6,768.6 1173.3,768.3 1173.9,768.3 1174.6,767.9 1175.2,769.3 1175.9,765.6 1176.6,767.4 1177.2,768.6 1177.9,766.5 1178.5,767.5 1179.2,766.6 1179.9,768.1 1180.5,768.7 1181.2,769.4 1181.8,768.1 1182.5,766.4 1183.2,767.7 1183.8,768.1 1184.5,769.2 1185.1,764.4 1185.8,767.8 1186.5,764.8 1187.1,768.2 1187.8,767.8 1188.4,767.8 1189.1,768.3 1189.8,767.6 1190.4,766.2 1191.1,767.5 1191.7,768.7 1192.4,766.9 1193.1,767.1 1193.7,765.4 1194.4,768.5 1195.0,766.3 1195.7,766.0 1196.4,766.4 1197.0,765.8 1197.7,766.6 1198.3,768.6 1199.0,768.0 1199.7,768.8 1200.3,768.9 1201.0,765.7 1201.6,767.5 1202.3,768.9 1203.0,770.0 1203.6,765.0 1204.3,765.0 1204.9,767.5 1205.6,766.4 1206.3,765.6 1206.9,767.4 1207.6,765.8 1208.2,763.9 1208.9,766.9 1209.6,767.1 1210.2,767.7 1210.9,768.1 1211.5,767.1 1212.2,766.6 1212.9,766.0 1213.5,764.7 1214.2,766.3 1214.8,768.2 1215.5,767.8 1216.2,769.7 1216.8,766.7 1217.5,764.5 1218.1,768.0 1218.8,768.3 1219.5,765.4 1220.1,764.8 1220.8,767.1 1221.4,767.9 1222.1,765.4 1222.8,766.5 1223.4,765.9 1224.1,765.3 1224.7,765.2 1225.4,767.1 1226.1,766.4 1226.7,766.0 1227.4,763.4 1228.0,769.2 1228.7,765.6 1229.4,766.7 1230.0,765.4 1230.7,767.4 1231.3,764.8 1232.0,767.0 1232.7,766.6 1233.3,768.0 1234.0,765.3 1234.6,765.9 1235.3,766.5 1236.0,769.5 1236.6,764.8 1237.3,767.1 1237.9,765.8 1238.6,767.1 1239.3,767.5 1239.9,766.8 1240.6,766.9 1241.2,766.9 1241.9,765.7 1242.6,766.2 1243.2,764.2 1243.9,765.9 1244.5,765.3 1245.2,766.0 1245.9,767.3 1246.5,766.7 1247.2,766.8 1247.8,767.6 1248.5,762.9 1249.2,766.6 1249.8,765.9 1250.5,765.8 1251.1,764.1 1251.8,766.5 1252.5,767.3 1253.1,767.0 1253.8,765.5 1254.4,766.4 1255.1,766.7 1255.8,767.8 1256.4,766.9 1257.1,765.4 1257.7,765.2 1258.4,765.2 1259.1,765.2 1259.7,764.2 1260.4,765.8 1261.0,763.7 1261.7,763.5 1262.4,764.9 1263.0,763.5 1263.7,763.9 1264.3,761.3 1265.0,765.0 1265.7,763.8 1266.3,763.5 1267.0,764.2 1267.6,763.7 1268.3,762.3 1269.0,765.8 1269.6,762.4 1270.3,764.1 1270.9,765.1 1271.6,761.6 1272.3,762.4 1272.9,761.0 1273.6,763.3 1274.2,761.3 1274.9,760.0 1275.6,763.1 1276.2,762.3 1276.9,759.7 1277.5,762.2 1278.2,760.6 1278.9,763.8 1279.5,762.2 1280.2,758.9 1280.8,759.0 1281.5,757.9 1282.2,758.9 1282.8,758.5 1283.5,759.1 1284.1,757.9 1284.8,755.5 1285.5,756.0 1286.1,758.6 1286.8,757.8 1287.4,755.7 1288.1,755.3 1288.8,754.8 1289.4,754.6 1290.1,751.8 1290.7,754.8 1291.4,752.2 1292.1,752.7 1292.7,748.6 1293.4,751.7 1294.0,752.6 1294.7,747.1 1295.4,751.5 1296.0,749.4 1296.7,747.1 1297.3,745.2 1298.0,748.0 1298.7,746.0 1299.3,745.6 1300.0,743.5 1300.6,741.8 1301.3,743.0 1302.0,739.6 1302.6,740.9 1303.3,736.3 1303.9,736.1 1304.6,734.1 1305.3,736.4 1305.9,730.9 1306.6,730.3 1307.2,731.1 1307.9,728.9 1308.6,729.8 1309.2,727.5 1309.9,723.9 1310.5,722.0 1311.2,716.5 1311.9,715.6 1312.5,714.0 1313.2,711.8 1313.8,707.7 1314.5,705.6 1315.2,703.0 1315.8,702.7 1316.5,698.9 1317.1,694.8 1317.8,691.7 1318.5,689.3 1319.1,684.7 1319.8,682.0 1320.4,676.7 1321.1,676.6 1321.8,673.8 1322.4,669.8 1323.1,666.9 1323.7,663.8 1324.4,663.4 1325.1,658.5 1325.7,654.3 1326.4,652.9 1327.0,653.8 1327.7,653.2 1328.4,652.2 1329.0,652.1 1329.7,651.5 1330.3,650.0 1331.0,652.2 1331.7,652.2 1332.3,656.0 1333.0,656.9 1333.6,661.4 1334.3,663.8 1335.0,664.4 1335.6,671.1 1336.3,674.4 1336.9,674.8 1337.6,680.2 1338.3,684.3 1338.9,686.3 1339.6,691.2 1340.2,693.5 1340.9,697.9 1341.6,699.8 1342.2,702.3 1342.9,706.1 1343.5,709.2 1344.2,711.2 1344.9,712.8 1345.5,714.8 1346.2,717.7 1346.8,719.7 1347.5,722.9 1348.2,724.8 1348.8,726.4 1349.5,728.4 1350.1,730.4 1350.8,734.0 1351.5,735.1 1352.1,734.2 1352.8,737.0 1353.4,737.4 1354.1,739.0 1354.8,740.0 1355.4,740.7 1356.1,740.9 1356.7,740.5 1357.4,745.1 1358.1,747.4 1358.7,745.5 1359.4,748.3 1360.0,748.0 1360.7,749.7 1361.4,749.0 1362.0,750.5 1362.7,751.4 1363.3,749.0 1364.0,753.2 1364.7,753.4 1365.3,750.8 1366.0,755.6 1366.6,755.2 1367.3,756.1 1368.0,756.8 1368.6,756.3 1369.3,755.8 1369.9,757.2 1370.6,757.6 1371.3,761.6 1371.9,761.5 1372.6,758.8 1373.2,759.2 1373.9,760.6 1374.6,761.3 1375.2,759.9 1375.9,759.8 1376.5,764.1 1377.2,763.2 1377.9,760.0 1378.5,760.0 1379.2,761.6 1379.8,763.2 1380.5,763.9 1381.2,763.0 1381.8,761.5 1382.5,764.2 1383.1,765.0 1383.8,764.4 1384.5,764.0 1385.1,765.6 1385.8,765.0 1386.4,763.7 1387.1,765.6 1387.8,763.9 1388.4,767.1 1389.1,766.6 1389.7,764.8 1390.4,766.6 1391.1,768.2 1391.7,763.8 1392.4,766.6 1393.0,769.2 1393.7,765.0 1394.4,767.1 1395.0,765.5 1395.7,767.5 1396.3,764.4 1397.0,765.6 1397.7,767.2 1398.3,768.3 1399.0,768.7 1399.6,768.9 1400.3,770.0 1401.0,769.5 1401.6,769.6 1402.3,767.4 1402.9,768.6 1403.6,773.3 1404.3,772.1 1404.9,770.3 1405.6,770.2 1406.2,770.7 1406.9,768.8 1407.6,772.2 1408.2,769.0 1408.9,769.5 1409.5,772.7 1410.2,766.9 1410.9,770.3 1411.5,767.5 1412.2,769.1 1412.8,769.9 1413.5,769.6 1414.2,770.4 1414.8,769.2 1415.5,770.1 1416.1,768.7 1416.8,769.8 1417.5,768.5 1418.1,771.4 1418.8,768.7 1419.4,771.5 1420.1,770.0 1420.8,770.2 1421.4,772.3 1422.1,770.8 1422.7,768.1 1423.4,771.4 1424.1,766.8 1424.7,771.2 1425.4,770.3 1426.0,768.9 1426.7,771.0 1427.4,770.5 1428.0,773.7 1428.7,770.3 1429.3,773.6 1430.0,772.9 1430.7,770.1 1431.3,769.8 1432.0,772.8 1432.6,770.8 1433.3,771.2 1434.0,770.6 1434.6,769.3 1435.3,770.5 1435.9,769.7 1436.6,768.9 1437.3,770.6 1437.9,773.5 1438.6,773.2 1439.2,770.9 1439.9,771.1 1440.6,771.7 1441.2,772.8 1441.9,771.4 1442.5,770.2 1443.2,770.3 1443.9,772.4 1444.5,774.5 1445.2,770.0 1445.8,768.0 1446.5,771.9 1447.2,770.7 1447.8,770.9 1448.5,772.5 1449.1,770.8 1449.8,768.8 1450.5,767.9 1451.1,770.6 1451.8,769.0 1452.4,771.0 1453.1,768.8 1453.8,770.0 1454.4,768.5 1455.1,770.0 1455.7,769.8 1456.4,771.3 1457.1,772.3 1457.7,770.1 1458.4,769.1 1459.0,773.1 1459.7,770.8 1460.4,771.1 1461.0,771.1 1461.7,772.3 1462.3,771.6 1463.0,771.1 1463.7,771.2 1464.3,768.9 1465.0,769.3 1465.6,769.9 1466.3,770.2 1467.0,770.1 1467.6,770.4 1468.3,770.0 1468.9,769.4 1469.6,767.7 1470.3,771.1 1470.9,770.8 1471.6,768.7 1472.2,770.6 1472.9,770.4 1473.6,770.0 1474.2,767.3 1474.9,768.2 1475.5,769.0 1476.2,772.1 1476.9,768.6 1477.5,769.3 1478.2,768.3 1478.8,769.1 1479.5,770.3 1480.2,766.9 1480.8,765.9 1481.5,770.8 1482.1,769.9 1482.8,769.0 1483.5,771.2 1484.1,771.2 1484.8,766.9 1485.4,769.7 1486.1,771.4 1486.8,769.0 1487.4,769.5 1488.1,771.3 1488.7,769.6 1489.4,768.3 1490.1,769.1 1490.7,768.2 1491.4,770.8 1492.0,767.7 1492.7,771.5 1493.4,767.8 1494.0,770.2 1494.7,768.2 1495.3,769.8 1496.0,771.7 1496.7,771.9 1497.3,772.2 1498.0,770.3 1498.6,770.6 1499.3,770.8 1500.0,771.4 1500.6,770.0 1501.3,772.1 1501.9,771.1 1502.6,772.3 1503.3,779.4 1503.9,778.1 1504.6,769.8 1505.2,770.3 1505.9,769.1 1506.6,770.6 1507.2,770.8 1507.9,772.3 1508.5,769.4 1509.2,775.7 1509.9,771.1 1510.5,773.1 1511.2,772.8 1511.8,767.9 1512.5,771.1 1513.2,773.6 1513.8,768.2 1514.5,772.7 1515.1,770.4 1515.8,771.1 1516.5,772.1 1517.1,769.3 1517.8,772.2 1518.4,771.1 1519.1,771.0 1519.8,773.1 1520.4,777.1 1521.1,772.8 1521.7,773.1 1522.4,772.3 1523.1,771.5 1523.7,772.9 1524.4,774.7 1525.0,772.9 1525.7,774.0 1526.4,772.5 1527.0,776.4 1527.7,770.6 1528.3,773.8 1529.0,773.8 1529.7,773.5 1530.3,771.6 1531.0,771.7 1531.6,773.0 1532.3,773.5 1533.0,771.8 1533.6,772.0 1534.3,774.4 1534.9,775.1 1535.6,772.9 1536.3,772.8 1536.9,772.8 1537.6,777.4 1538.2,774.7 1538.9,773.9 1539.6,775.5 1540.2,777.4 1540.9,775.9 1541.5,772.3 1542.2,774.2 1542.9,773.8 1543.5,774.0 1544.2,772.8 1544.8,774.0 1545.5,773.1 1546.2,775.2 1546.8,774.8 1547.5,772.8 1548.1,772.5 1548.8,774.3 1549.5,775.9 1550.1,775.8 1550.8,775.0 1551.4,770.5 1552.1,774.5 1552.8,774.2 1553.4,774.9 1554.1,773.7 1554.7,774.8 1555.4,774.6 1556.1,779.4 1556.7,776.6 1557.4,775.4 1558.0,775.6 1558.7,775.6 1559.4,776.1 1560.0,775.3 1560.7,775.9 1561.3,777.4 1562.0,777.1 1562.7,776.4 1563.3,777.9 1564.0,776.4 1564.6,774.8" fill="none" stroke="#000080" stroke-width="4.6" stroke-linejoin="round"/>
<polyline points="110.0,893.6 110.7,895.6 111.3,896.8 112.0,897.7 112.6,899.0 113.3,895.9 114.0,895.5 114.6,898.5 115.3,899.3 115.9,896.1 116.6,897.7 117.3,899.7 117.9,897.7 118.6,897.0 119.2,893.1 119.9,899.6 120.6,898.3 121.2,897.4 121.9,896.3 122.5,894.8 123.2,897.0 123.9,897.0 124.5,899.3 125.2,894.9 125.8,900.0 126.5,897.3 127.2,899.5 127.8,895.4 128.5,898.0 129.1,899.7 129.8,897.6 130.5,894.6 131.1,896.8 131.8,898.4 132.4,894.8 133.1,894.7 133.8,897.9 134.4,895.7 135.1,898.8 135.7,895.3 136.4,894.1 137.1,896.1 137.7,900.4 138.4,896.0 139.0,897.6 139.7,898.1 140.4,895.9 141.0,899.8 141.7,898.1 142.3,898.6 143.0,894.6 143.7,894.5 144.3,892.6 145.0,897.5 145.6,897.5 146.3,899.3 147.0,900.8 147.6,897.5 148.3,897.5 148.9,898.9 149.6,901.0 150.3,896.6 150.9,899.4 151.6,897.7 152.2,897.6 152.9,899.8 153.6,896.8 154.2,896.3 154.9,899.6 155.5,898.4 156.2,898.0 156.9,898.2 157.5,899.5 158.2,897.9 158.8,900.1 159.5,899.4 160.2,901.5 160.8,901.1 161.5,900.4 162.1,898.4 162.8,899.1 163.5,897.8 164.1,904.4 164.8,898.6 165.4,900.1 166.1,901.7 166.8,896.5 167.4,897.6 168.1,898.5 168.7,897.4 169.4,896.9 170.1,898.4 170.7,901.9 171.4,900.8 172.0,899.6 172.7,899.6 173.4,896.4 174.0,901.0 174.7,900.5 175.3,897.7 176.0,900.2 176.7,899.4 177.3,898.9 178.0,898.0 178.6,898.7 179.3,898.2 180.0,900.9 180.6,900.8 181.3,900.7 181.9,899.8 182.6,899.4 183.3,904.1 183.9,896.7 184.6,902.6 185.2,901.0 185.9,900.5 186.6,899.5 187.2,900.1 187.9,898.3 188.5,897.9 189.2,900.4 189.9,897.5 190.5,902.3 191.2,902.8 191.8,894.2 192.5,897.8 193.2,901.3 193.8,901.2 194.5,901.1 195.1,901.7 195.8,902.4 196.5,902.6 197.1,904.4 197.8,901.1 198.4,902.7 199.1,898.0 199.8,900.9 200.4,898.8 201.1,903.8 201.7,905.6 202.4,902.3 203.1,898.8 203.7,901.1 204.4,901.4 205.0,901.7 205.7,903.4 206.4,903.2 207.0,896.4 207.7,904.0 208.3,900.5 209.0,900.4 209.7,904.2 210.3,901.0 211.0,898.9 211.6,899.0 212.3,901.7 213.0,903.3 213.6,904.4 214.3,901.3 214.9,900.7 215.6,904.7 216.3,900.8 216.9,904.4 217.6,902.1 218.2,902.2 218.9,901.3 219.6,902.3 220.2,900.9 220.9,900.5 221.5,901.5 222.2,900.5 222.9,902.4 223.5,902.0 224.2,901.3 224.8,901.4 225.5,901.4 226.2,905.1 226.8,901.8 227.5,900.7 228.1,901.3 228.8,903.1 229.5,901.5 230.1,901.6 230.8,901.4 231.4,902.2 232.1,902.7 232.8,902.8 233.4,898.8 234.1,899.9 234.7,897.0 235.4,903.5 236.1,904.1 236.7,904.5 237.4,902.3 238.0,904.2 238.7,901.9 239.4,901.8 240.0,899.1 240.7,900.6 241.3,900.9 242.0,903.8 242.7,905.2 243.3,901.2 244.0,902.8 244.6,902.6 245.3,900.6 246.0,898.9 246.6,900.7 247.3,899.4 247.9,901.6 248.6,901.9 249.3,901.8 249.9,901.9 250.6,903.1 251.2,900.4 251.9,903.9 252.6,899.0 253.2,902.3 253.9,903.0 254.5,900.7 255.2,899.2 255.9,903.5 256.5,901.0 257.2,903.8 257.8,903.7 258.5,902.3 259.2,902.3 259.8,904.2 260.5,903.0 261.1,900.5 261.8,902.6 262.5,903.4 263.1,902.7 263.8,902.7 264.4,902.0 265.1,902.1 265.8,900.6 266.4,899.6 267.1,904.5 267.7,901.1 268.4,902.7 269.1,899.5 269.7,902.6 270.4,900.8 271.0,907.9 271.7,900.4 272.4,900.5 273.0,904.1 273.7,904.4 274.3,898.3 275.0,902.8 275.7,903.9 276.3,900.0 277.0,903.5 277.6,901.2 278.3,900.4 279.0,901.6 279.6,901.3 280.3,899.6 280.9,906.4 281.6,901.3 282.3,900.8 282.9,903.8 283.6,902.0 284.2,904.6 284.9,901.6 285.6,902.8 286.2,902.3 286.9,902.4 287.5,901.7 288.2,901.8 288.9,905.2 289.5,900.7 290.2,900.9 290.8,901.3 291.5,903.0 292.2,902.7 292.8,903.7 293.5,899.3 294.1,902.3 294.8,901.5 295.5,901.3 296.1,902.1 296.8,898.0 297.4,902.2 298.1,902.0 298.8,899.0 299.4,901.5 300.1,904.5 300.7,900.8 301.4,902.7 302.1,901.1 302.7,900.0 303.4,899.7 304.0,900.7 304.7,903.8 305.4,902.9 306.0,900.0 306.7,903.1 307.3,901.0 308.0,899.9 308.7,902.0 309.3,899.4 310.0,898.1 310.6,903.5 311.3,897.5 312.0,901.9 312.6,898.0 313.3,900.8 313.9,900.4 314.6,899.9 315.3,896.6 315.9,900.4 316.6,900.5 317.2,898.8 317.9,900.4 318.6,902.3 319.2,899.0 319.9,900.8 320.5,898.1 321.2,900.9 321.9,901.3 322.5,904.7 323.2,901.7 323.8,900.8 324.5,902.5 325.2,898.0 325.8,901.8 326.5,898.7 327.1,898.5 327.8,901.6 328.5,899.9 329.1,901.9 329.8,896.6 330.4,899.8 331.1,898.2 331.8,898.6 332.4,895.5 333.1,900.7 333.7,899.3 334.4,897.0 335.1,896.2 335.7,897.0 336.4,901.2 337.0,898.3 337.7,897.8 338.4,899.2 339.0,898.2 339.7,898.6 340.3,899.4 341.0,898.6 341.7,899.5 342.3,895.5 343.0,897.8 343.6,896.9 344.3,897.7 345.0,897.3 345.6,896.1 346.3,896.5 346.9,898.8 347.6,895.9 348.3,894.5 348.9,897.8 349.6,898.4 350.2,896.0 350.9,896.6 351.6,894.7 352.2,895.8 352.9,898.1 353.5,897.4 354.2,896.1 354.9,895.1 355.5,892.5 356.2,896.0 356.8,896.1 357.5,897.1 358.2,898.8 358.8,895.6 359.5,896.5 360.1,892.5 360.8,896.7 361.5,896.0 362.1,896.7 362.8,895.3 363.4,894.7 364.1,896.5 364.8,892.4 365.4,894.7 366.1,895.3 366.7,891.7 367.4,890.9 368.1,893.6 368.7,892.9 369.4,893.7 370.0,893.6 370.7,890.8 371.4,892.7 372.0,893.9 372.7,891.0 373.3,891.0 374.0,889.2 374.7,892.7 375.3,894.6 376.0,888.2 376.6,892.0 377.3,892.1 378.0,889.2 378.6,889.3 379.3,887.9 379.9,888.1 380.6,889.7 381.3,890.4 381.9,889.2 382.6,890.3 383.2,888.9 383.9,886.1 384.6,890.7 385.2,890.0 385.9,886.3 386.5,890.6 387.2,888.0 387.9,887.1 388.5,890.1 389.2,881.7 389.8,883.1 390.5,887.1 391.2,885.0 391.8,883.4 392.5,887.7 393.1,885.5 393.8,881.9 394.5,882.8 395.1,885.2 395.8,886.7 396.4,879.3 397.1,883.1 397.8,881.6 398.4,878.7 399.1,881.3 399.7,878.3 400.4,879.9 401.1,883.5 401.7,881.0 402.4,881.1 403.0,880.4 403.7,879.5 404.4,880.2 405.0,875.8 405.7,876.9 406.3,878.6 407.0,875.2 407.7,875.3 408.3,877.8 409.0,877.9 409.6,873.4 410.3,872.5 411.0,874.6 411.6,873.4 412.3,871.1 412.9,872.9 413.6,872.2 414.3,870.7 414.9,875.4 415.6,871.8 416.2,870.1 416.9,869.8 417.6,872.7 418.2,868.5 418.9,864.4 419.5,865.6 420.2,864.4 420.9,862.4 421.5,863.1 422.2,862.2 422.8,860.8 423.5,859.1 424.2,860.7 424.8,855.2 425.5,858.8 426.1,856.3 426.8,855.7 427.5,849.8 428.1,856.2 428.8,848.8 429.4,849.3 430.1,850.9 430.8,847.4 431.4,846.5 432.1,841.8 432.7,843.8 433.4,843.7 434.1,843.1 434.7,839.9 435.4,839.3 436.0,838.2 436.7,834.5 437.4,832.7 438.0,836.0 438.7,829.0 439.3,831.1 440.0,827.0 440.7,827.7 441.3,821.7 442.0,821.8 442.6,819.3 443.3,816.1 444.0,814.8 444.6,810.5 445.3,809.4 445.9,806.4 446.6,806.1 447.3,802.1 447.9,797.3 448.6,796.7 449.2,794.9 449.9,791.1 450.6,793.0 451.2,789.2 451.9,788.1 452.5,783.3 453.2,782.5 453.9,783.8 454.5,778.3 455.2,780.9 455.8,780.0 456.5,778.9 457.2,780.3 457.8,778.7 458.5,782.0 459.1,780.5 459.8,781.8 460.5,788.4 461.1,786.4 461.8,785.8 462.4,793.7 463.1,792.7 463.8,789.9 464.4,798.8 465.1,803.0 465.7,804.4 466.4,809.3 467.1,808.3 467.7,812.0 468.4,811.3 469.0,815.7 469.7,820.5 470.4,820.7 471.0,822.1 471.7,820.2 472.3,825.1 473.0,825.3 473.7,831.0 474.3,829.9 475.0,833.7 475.6,832.8 476.3,839.8 477.0,835.6 477.6,839.5 478.3,845.6 478.9,842.5 479.6,841.8 480.3,845.9 480.9,847.9 481.6,848.9 482.2,844.7 482.9,850.0 483.6,846.7 484.2,855.3 484.9,852.9 485.5,853.0 486.2,856.1 486.9,856.7 487.5,854.5 488.2,860.6 488.8,858.0 489.5,856.0 490.2,862.7 490.8,863.8 491.5,864.1 492.1,863.5 492.8,861.5 493.5,865.7 494.1,868.1 494.8,866.8 495.4,868.9 496.1,865.1 496.8,869.1 497.4,869.5 498.1,865.6 498.7,865.9 499.4,868.1 500.1,870.2 500.7,871.4 501.4,870.6 502.0,871.4 502.7,871.8 503.4,872.6 504.0,874.0 504.7,874.3 505.3,873.7 506.0,874.7 506.7,873.7 507.3,876.5 508.0,874.4 508.6,878.8 509.3,876.0 510.0,876.9 510.6,875.3 511.3,876.4 511.9,877.7 512.6,877.7 513.3,876.8 513.9,876.0 514.6,878.6 515.2,879.0 515.9,880.0 516.6,881.6 517.2,878.9 517.9,875.9 518.5,879.7 519.2,876.7 519.9,877.9 520.5,882.5 521.2,881.8 521.8,879.7 522.5,879.9 523.2,881.1 523.8,878.1 524.5,882.5 525.1,881.1 525.8,885.3 526.5,880.0 527.1,884.0 527.8,880.9 528.4,884.3 529.1,880.6 529.8,884.0 530.4,881.8 531.1,881.2 531.7,882.6 532.4,883.8 533.1,883.8 533.7,886.1 534.4,884.7 535.0,878.2 535.7,882.5 536.4,879.6 537.0,882.6 537.7,884.6 538.3,880.9 539.0,881.3 539.7,883.8 540.3,883.0 541.0,886.6 541.6,884.2 542.3,884.6 543.0,887.0 543.6,882.7 544.3,883.7 544.9,881.8 545.6,884.2 546.3,885.6 546.9,886.2 547.6,883.6 548.2,882.3 548.9,882.2 549.6,881.0 550.2,883.8 550.9,886.1 551.5,879.1 552.2,879.4 552.9,886.1 553.5,880.4 554.2,884.1 554.8,881.0 555.5,884.8 556.2,884.8 556.8,883.6 557.5,884.8 558.1,883.3 558.8,884.2 559.5,886.5 560.1,885.1 560.8,881.7 561.4,881.4 562.1,882.4 562.8,882.4 563.4,882.9 564.1,881.5 564.7,883.8 565.4,882.6 566.1,883.1 566.7,882.4 567.4,883.5 568.0,880.0 568.7,885.1 569.4,882.7 570.0,882.8 570.7,883.1 571.3,883.9 572.0,883.1 572.7,882.1 573.3,881.2 574.0,878.3 574.6,881.7 575.3,880.6 576.0,880.5 576.6,885.5 577.3,877.3 577.9,880.8 578.6,882.9 579.3,882.3 579.9,882.7 580.6,877.8 581.2,878.2 581.9,881.1 582.6,879.2 583.2,882.8 583.9,879.8 584.5,879.6 585.2,879.9 585.9,878.3 586.5,878.9 587.2,877.1 587.8,878.1 588.5,877.0 589.2,878.2 589.8,874.7 590.5,874.3 591.1,877.7 591.8,877.0 592.5,874.4 593.1,875.5 593.8,873.5 594.4,879.0 595.1,871.8 595.8,877.5 596.4,872.3 597.1,874.1 597.7,872.3 598.4,871.5 599.1,873.4 599.7,872.5 600.4,869.7 601.0,867.7 601.7,872.6 602.4,870.4 603.0,867.0 603.7,865.1 604.3,865.1 605.0,863.4 605.7,864.2 606.3,858.6 607.0,858.8 607.6,855.5 608.3,857.5 609.0,856.3 609.6,850.4 610.3,849.0 610.9,847.8 611.6,841.4 612.3,836.8 612.9,836.8 613.6,831.6 614.2,825.8 614.9,824.2 615.6,816.7 616.2,807.4 616.9,805.8 617.5,799.2 618.2,797.1 618.9,787.9 619.5,782.3 620.2,779.0 620.8,775.0 621.5,769.4 622.2,771.2 622.8,770.6 623.5,775.5 624.1,780.2 624.8,777.4 625.5,782.3 626.1,787.7 626.8,793.4 627.4,798.9 628.1,805.6 628.8,812.7 629.4,813.0 630.1,817.0 630.7,820.5 631.4,829.7 632.1,833.3 632.7,830.6 633.4,832.7 634.0,838.0 634.7,841.4 635.4,842.4 636.0,841.6 636.7,842.9 637.3,842.3 638.0,840.7 638.7,845.4 639.3,841.7 640.0,839.6 640.6,840.8 641.3,838.8 642.0,841.8 642.6,843.8 643.3,839.3 643.9,843.9 644.6,845.7 645.3,842.4 645.9,839.5 646.6,840.1 647.2,841.1 647.9,841.9 648.6,845.1 649.2,850.1 649.9,853.4 650.5,857.9 651.2,857.3 651.9,865.8 652.5,866.8 653.2,868.8 653.8,867.9 654.5,874.4 655.2,872.2 655.8,877.9 656.5,878.0 657.1,875.6 657.8,877.7 658.5,883.3 659.1,882.7 659.8,881.5 660.4,883.1 661.1,883.9 661.8,882.9 662.4,884.7 663.1,884.5 663.7,885.6 664.4,887.9 665.1,885.7 665.7,889.5 666.4,888.8 667.0,890.5 667.7,891.2 668.4,892.3 669.0,891.5 669.7,892.1 670.3,890.8 671.0,892.5 671.7,890.1 672.3,891.6 673.0,893.8 673.6,892.6 674.3,893.8 675.0,891.2 675.6,896.1 676.3,892.7 676.9,894.8 677.6,894.2 678.3,896.2 678.9,893.9 679.6,893.0 680.2,891.5 680.9,894.7 681.6,893.2 682.2,896.7 682.9,898.6 683.5,891.8 684.2,893.7 684.9,896.9 685.5,898.8 686.2,897.2 686.8,897.4 687.5,897.9 688.2,898.2 688.8,900.4 689.5,898.5 690.1,895.1 690.8,896.7 691.5,898.1 692.1,896.3 692.8,897.5 693.4,897.1 694.1,896.9 694.8,899.6 695.4,897.7 696.1,896.4 696.7,897.3 697.4,898.8 698.1,902.9 698.7,899.4 699.4,901.9 700.0,900.1 700.7,895.1 701.4,900.0 702.0,897.8 702.7,896.9 703.3,897.5 704.0,903.0 704.7,896.7 705.3,898.6 706.0,902.1 706.6,901.2 707.3,896.7 708.0,899.9 708.6,899.2 709.3,899.8 709.9,901.7 710.6,899.2 711.3,899.8 711.9,903.3 712.6,897.0 713.2,899.9 713.9,901.6 714.6,898.3 715.2,899.6 715.9,898.3 716.5,901.2 717.2,899.7 717.9,902.5 718.5,903.0 719.2,901.2 719.8,900.4 720.5,901.7 721.2,901.3 721.8,899.0 722.5,903.4 723.1,901.8 723.8,902.9 724.5,898.8 725.1,903.2 725.8,905.6 726.4,902.8 727.1,898.8 727.8,901.7 728.4,901.6 729.1,902.1 729.7,901.3 730.4,902.7 731.1,900.9 731.7,902.3 732.4,900.6 733.0,902.1 733.7,903.9 734.4,901.0 735.0,903.3 735.7,900.3 736.3,901.3 737.0,901.6 737.7,904.5 738.3,900.7 739.0,904.5 739.6,899.4 740.3,901.9 741.0,904.0 741.6,903.6 742.3,900.3 742.9,899.9 743.6,904.0 744.3,899.9 744.9,903.5 745.6,901.4 746.2,902.4 746.9,906.9 747.6,905.4 748.2,904.1 748.9,899.8 749.5,903.1 750.2,902.6 750.9,902.3 751.5,905.1 752.2,899.3 752.8,903.2 753.5,902.8 754.2,901.2 754.8,905.9 755.5,900.2 756.1,902.7 756.8,902.8 757.5,898.5 758.1,900.0 758.8,900.9 759.4,904.2 760.1,904.6 760.8,903.9 761.4,903.2 762.1,898.6 762.7,903.2 763.4,901.8 764.1,905.1 764.7,905.4 765.4,907.2 766.0,904.2 766.7,904.5 767.4,900.9 768.0,903.1 768.7,900.6 769.3,904.7 770.0,900.7 770.7,902.6 771.3,901.4 772.0,902.1 772.6,903.9 773.3,901.9 774.0,903.4 774.6,901.1 775.3,905.7 775.9,901.8 776.6,905.0 777.3,907.2 777.9,898.4 778.6,901.2 779.2,902.7 779.9,905.3 780.6,902.2 781.2,903.8 781.9,901.7 782.5,904.2 783.2,900.8 783.9,904.7 784.5,897.3 785.2,899.4 785.8,906.6 786.5,903.4 787.2,901.3 787.8,907.3 788.5,905.1 789.1,905.2 789.8,902.2 790.5,904.2 791.1,904.0 791.8,899.8 792.4,904.1 793.1,902.6 793.8,905.4 794.4,905.4 795.1,901.6 795.7,901.7 796.4,903.2 797.1,904.1 797.7,902.0 798.4,902.6 799.0,903.9 799.7,903.6 800.4,905.0 801.0,903.2 801.7,901.0 802.3,899.2 803.0,904.2 803.7,902.0 804.3,901.9 805.0,902.0 805.6,899.5 806.3,901.8 807.0,897.5 807.6,901.7 808.3,900.8 808.9,906.1 809.6,903.3 810.3,902.0 810.9,902.8 811.6,903.9 812.2,901.0 812.9,902.0 813.6,901.7 814.2,907.2 814.9,902.5 815.5,898.6 816.2,903.9 816.9,907.4 817.5,900.5 818.2,909.1 818.8,902.2 819.5,904.3 820.2,901.2 820.8,901.8 821.5,899.9 822.1,900.3 822.8,898.2 823.5,904.6 824.1,900.1 824.8,903.1 825.4,903.0 826.1,901.1 826.8,902.4 827.4,902.1 828.1,901.4 828.7,902.4 829.4,902.4 830.1,900.3 830.7,899.8 831.4,900.7 832.0,902.6 832.7,905.0 833.4,905.2 834.0,902.9 834.7,904.2 835.3,902.6 836.0,904.5 836.7,902.6 837.3,903.1 838.0,901.8 838.6,902.3 839.3,906.1 840.0,900.0 840.6,902.4 841.3,901.2 841.9,904.2 842.6,905.9 843.3,901.7 843.9,896.9 844.6,903.6 845.2,903.6 845.9,899.1 846.6,901.9 847.2,902.3 847.9,897.8 848.5,903.7 849.2,903.3 849.9,902.9 850.5,900.3 851.2,901.0 851.8,901.2 852.5,903.4 853.2,900.5 853.8,905.3 854.5,903.2 855.1,898.2 855.8,905.8 856.5,902.8 857.1,901.4 857.8,902.7 858.4,898.9 859.1,902.9 859.8,897.6 860.4,900.5 861.1,905.2 861.7,905.0 862.4,901.9 863.1,900.6 863.7,904.4 864.4,902.5 865.0,903.0 865.7,903.8 866.4,900.5 867.0,904.2 867.7,898.4 868.3,905.5 869.0,899.5 869.7,901.4 870.3,901.3 871.0,904.1 871.6,904.2 872.3,903.4 873.0,903.8 873.6,903.7 874.3,902.6 874.9,899.0 875.6,898.2 876.3,898.3 876.9,902.8 877.6,902.4 878.2,902.6 878.9,903.4 879.6,902.5 880.2,901.0 880.9,900.0 881.5,899.3 882.2,905.4 882.9,904.9 883.5,900.4 884.2,902.6 884.8,904.0 885.5,906.3 886.2,902.0 886.8,903.6 887.5,905.5 888.1,899.8 888.8,901.9 889.5,903.3 890.1,901.9 890.8,907.6 891.4,905.1 892.1,903.8 892.8,901.6 893.4,905.2 894.1,904.8 894.7,902.5 895.4,902.7 896.1,900.7 896.7,903.5 897.4,905.4 898.0,905.7 898.7,904.9 899.4,905.4 900.0,902.6 900.7,902.8 901.3,906.2 902.0,904.7 902.7,902.2 903.3,904.8 904.0,905.5 904.6,905.3 905.3,904.1 906.0,902.9 906.6,904.7 907.3,907.3 907.9,904.2 908.6,902.6 909.3,904.6 909.9,901.5 910.6,904.4 911.2,903.4 911.9,905.9 912.6,904.2 913.2,906.0 913.9,908.5 914.5,903.5 915.2,902.3 915.9,904.9 916.5,903.8 917.2,904.3 917.8,902.8 918.5,905.1 919.2,904.1 919.8,899.7 920.5,903.5 921.1,904.6 921.8,906.3 922.5,902.8 923.1,902.4 923.8,906.3 924.4,902.8 925.1,904.2 925.8,904.9 926.4,905.4 927.1,904.0 927.7,901.8 928.4,906.0 929.1,903.1 929.7,902.9 930.4,907.9 931.0,905.7 931.7,901.9 932.4,903.0 933.0,903.5 933.7,902.5 934.3,900.2 935.0,905.5 935.7,905.5 936.3,904.4 937.0,903.1 937.6,904.3 938.3,905.2 939.0,901.9 939.6,903.3 940.3,902.8 940.9,905.3 941.6,904.4 942.3,901.3 942.9,902.7 943.6,907.4 944.2,902.0 944.9,904.2 945.6,902.6 946.2,906.3 946.9,903.8 947.5,903.0 948.2,901.6 948.9,903.4 949.5,905.5 950.2,905.2 950.8,901.2 951.5,906.9 952.2,903.4 952.8,901.8 953.5,904.1 954.1,902.6 954.8,902.7 955.5,902.6 956.1,903.6 956.8,902.8 957.4,900.4 958.1,904.8 958.8,902.8 959.4,906.1 960.1,904.8 960.7,905.0 961.4,904.1 962.1,906.3 962.7,903.1 963.4,901.8 964.0,904.4 964.7,898.4 965.4,903.0 966.0,904.1 966.7,902.9 967.3,906.2 968.0,905.1 968.7,903.9 969.3,902.9 970.0,905.8 970.6,902.3 971.3,902.8 972.0,905.1 972.6,904.8 973.3,907.6 973.9,903.2 974.6,899.9 975.3,904.9 975.9,906.1 976.6,903.3 977.2,906.6 977.9,907.1 978.6,902.3 979.2,902.6 979.9,901.1 980.5,904.6 981.2,904.9 981.9,904.7 982.5,901.1 983.2,902.0 983.8,900.7 984.5,900.3 985.2,900.8 985.8,900.3 986.5,903.1 987.1,904.2 987.8,904.6 988.5,903.3 989.1,902.0 989.8,903.3 990.4,904.4 991.1,902.7 991.8,903.4 992.4,902.7 993.1,902.2 993.7,903.3 994.4,901.0 995.1,905.3 995.7,900.1 996.4,904.1 997.0,900.5 997.7,906.1 998.4,904.8 999.0,901.5 999.7,902.2 1000.3,900.9 1001.0,902.9 1001.7,903.8 1002.3,908.0 1003.0,900.3 1003.6,905.4 1004.3,901.8 1005.0,903.5 1005.6,904.6 1006.3,904.0 1006.9,903.7 1007.6,902.5 1008.3,902.8 1008.9,903.1 1009.6,905.1 1010.2,899.9 1010.9,901.8 1011.6,900.3 1012.2,900.8 1012.9,901.1 1013.5,904.8 1014.2,906.8 1014.9,905.2 1015.5,900.2 1016.2,902.7 1016.8,900.3 1017.5,903.3 1018.2,904.9 1018.8,903.6 1019.5,904.1 1020.1,902.1 1020.8,898.5 1021.5,898.4 1022.1,902.1 1022.8,903.4 1023.4,904.7 1024.1,901.5 1024.8,902.3 1025.4,902.6 1026.1,904.2 1026.7,901.9 1027.4,899.9 1028.1,904.1 1028.7,902.7 1029.4,902.7 1030.0,899.4 1030.7,901.8 1031.4,898.4 1032.0,897.8 1032.7,901.3 1033.3,900.8 1034.0,902.8 1034.7,904.4 1035.3,901.5 1036.0,905.0 1036.6,900.3 1037.3,902.9 1038.0,898.9 1038.6,901.6 1039.3,900.7 1039.9,900.9 1040.6,902.4 1041.3,897.5 1041.9,901.4 1042.6,899.5 1043.2,901.3 1043.9,901.8 1044.6,900.3 1045.2,900.2 1045.9,898.7 1046.5,901.9 1047.2,899.5 1047.9,901.6 1048.5,897.9 1049.2,903.3 1049.8,898.6 1050.5,902.8 1051.2,899.6 1051.8,901.5 1052.5,900.1 1053.1,901.7 1053.8,900.3 1054.5,902.7 1055.1,901.5 1055.8,901.5 1056.4,903.4 1057.1,898.7 1057.8,902.5 1058.4,900.1 1059.1,897.0 1059.7,900.8 1060.4,899.4 1061.1,903.0 1061.7,898.7 1062.4,899.7 1063.0,900.0 1063.7,895.8 1064.4,900.4 1065.0,897.4 1065.7,902.1 1066.3,902.5 1067.0,899.2 1067.7,896.0 1068.3,899.4 1069.0,899.3 1069.6,900.3 1070.3,898.3 1071.0,896.5 1071.6,898.5 1072.3,896.9 1072.9,902.1 1073.6,897.2 1074.3,897.2 1074.9,898.3 1075.6,895.9 1076.2,897.4 1076.9,897.9 1077.6,897.2 1078.2,897.6 1078.9,900.4 1079.5,898.8 1080.2,895.2 1080.9,896.9 1081.5,899.1 1082.2,896.4 1082.8,897.7 1083.5,897.4 1084.2,898.4 1084.8,897.0 1085.5,897.0 1086.1,895.5 1086.8,897.8 1087.5,895.2 1088.1,900.3 1088.8,896.8 1089.4,896.4 1090.1,898.2 1090.8,896.5 1091.4,896.7 1092.1,896.4 1092.7,895.0 1093.4,894.5 1094.1,894.9 1094.7,898.4 1095.4,894.9 1096.0,895.2 1096.7,895.1 1097.4,897.2 1098.0,899.6 1098.7,893.9 1099.3,896.7 1100.0,895.8 1100.7,894.6 1101.3,896.9 1102.0,891.7 1102.6,897.6 1103.3,895.8 1104.0,892.2 1104.6,899.6 1105.3,897.4 1105.9,898.2 1106.6,890.6 1107.3,894.0 1107.9,893.2 1108.6,896.4 1109.2,898.4 1109.9,889.0 1110.6,894.4 1111.2,893.9 1111.9,897.1 1112.5,894.0 1113.2,890.4 1113.9,893.5 1114.5,891.0 1115.2,891.7 1115.8,893.9 1116.5,892.4 1117.2,894.5 1117.8,889.3 1118.5,900.2 1119.1,897.1 1119.8,895.5 1120.5,889.7 1121.1,887.1 1121.8,890.8 1122.4,892.5 1123.1,899.5 1123.8,896.8 1124.4,891.5 1125.1,896.4 1125.7,896.4 1126.4,892.9 1127.1,896.3 1127.7,893.7 1128.4,890.8 1129.0,889.3 1129.7,892.2 1130.4,895.4 1131.0,888.6 1131.7,887.8 1132.3,893.9 1133.0,884.5 1133.7,897.5 1134.3,890.9 1135.0,894.2 1135.6,897.4 1136.3,887.9 1137.0,889.0 1137.6,898.4 1138.3,891.1 1138.9,891.5 1139.6,892.4 1140.3,894.8 1140.9,895.5 1141.6,891.9 1142.2,890.6 1142.9,891.4 1143.6,892.4 1144.2,895.2 1144.9,891.8 1145.5,896.5 1146.2,888.8 1146.9,892.8 1147.5,896.2 1148.2,894.8 1148.8,892.0 1149.5,888.5 1150.2,888.9 1150.8,890.5 1151.5,891.8 1152.1,890.1 1152.8,886.6 1153.5,888.6 1154.1,892.2 1154.8,893.0 1155.4,886.6 1156.1,889.5 1156.8,885.7 1157.4,888.8 1158.1,900.5 1158.7,890.5 1159.4,889.3 1160.1,888.5 1160.7,886.7 1161.4,884.8 1162.0,889.9 1162.7,889.2 1163.4,894.2 1164.0,885.2 1164.7,891.1 1165.3,893.6 1166.0,884.2 1166.7,891.6 1167.3,885.0 1168.0,891.1 1168.6,893.8 1169.3,889.5 1170.0,890.3 1170.6,887.4 1171.3,890.2 1171.9,892.5 1172.6,888.7 1173.3,888.8 1173.9,890.3 1174.6,891.5 1175.2,884.4 1175.9,889.2 1176.6,887.0 1177.2,890.3 1177.9,891.8 1178.5,889.7 1179.2,892.5 1179.9,885.9 1180.5,887.5 1181.2,885.8 1181.8,888.8 1182.5,888.8 1183.2,887.9 1183.8,885.0 1184.5,888.2 1185.1,887.1 1185.8,890.1 1186.5,887.5 1187.1,891.6 1187.8,888.9 1188.4,882.8 1189.1,887.6 1189.8,884.0 1190.4,890.8 1191.1,892.1 1191.7,887.9 1192.4,889.2 1193.1,883.7 1193.7,881.4 1194.4,886.2 1195.0,887.0 1195.7,883.4 1196.4,888.0 1197.0,888.6 1197.7,889.5 1198.3,892.0 1199.0,889.9 1199.7,886.5 1200.3,887.8 1201.0,889.2 1201.6,884.4 1202.3,891.2 1203.0,890.0 1203.6,886.7 1204.3,885.5 1204.9,898.2 1205.6,889.7 1206.3,889.9 1206.9,892.4 1207.6,890.0 1208.2,887.8 1208.9,889.1 1209.6,884.5 1210.2,889.1 1210.9,882.6 1211.5,888.2 1212.2,888.6 1212.9,882.5 1213.5,892.4 1214.2,883.6 1214.8,889.9 1215.5,885.3 1216.2,887.7 1216.8,884.9 1217.5,893.9 1218.1,889.7 1218.8,891.9 1219.5,889.0 1220.1,888.7 1220.8,887.1 1221.4,886.0 1222.1,888.4 1222.8,887.1 1223.4,886.1 1224.1,882.6 1224.7,885.6 1225.4,888.2 1226.1,885.1 1226.7,887.4 1227.4,886.0 1228.0,883.4 1228.7,883.7 1229.4,884.2 1230.0,885.4 1230.7,885.5 1231.3,889.4 1232.0,883.1 1232.7,880.3 1233.3,888.1 1234.0,884.7 1234.6,885.7 1235.3,893.3 1236.0,890.1 1236.6,887.6 1237.3,888.6 1237.9,886.1 1238.6,888.5 1239.3,883.9 1239.9,883.6 1240.6,884.3 1241.2,890.1 1241.9,890.0 1242.6,883.7 1243.2,888.7 1243.9,884.9 1244.5,888.3 1245.2,884.3 1245.9,887.9 1246.5,884.7 1247.2,884.1 1247.8,884.8 1248.5,885.3 1249.2,883.1 1249.8,880.7 1250.5,889.5 1251.1,883.4 1251.8,879.2 1252.5,877.8 1253.1,876.2 1253.8,882.4 1254.4,887.9 1255.1,879.2 1255.8,882.9 1256.4,878.4 1257.1,886.8 1257.7,884.6 1258.4,884.3 1259.1,887.2 1259.7,887.9 1260.4,886.0 1261.0,881.2 1261.7,879.0 1262.4,879.6 1263.0,877.5 1263.7,887.6 1264.3,881.7 1265.0,882.5 1265.7,882.5 1266.3,887.6 1267.0,880.0 1267.6,884.9 1268.3,882.2 1269.0,880.7 1269.6,875.4 1270.3,883.4 1270.9,878.5 1271.6,879.1 1272.3,880.9 1272.9,880.3 1273.6,883.1 1274.2,877.7 1274.9,879.9 1275.6,880.1 1276.2,879.1 1276.9,880.8 1277.5,877.9 1278.2,881.9 1278.9,876.1 1279.5,873.8 1280.2,877.6 1280.8,880.8 1281.5,875.7 1282.2,875.1 1282.8,875.7 1283.5,876.9 1284.1,875.6 1284.8,876.7 1285.5,870.6 1286.1,879.6 1286.8,876.7 1287.4,872.2 1288.1,878.3 1288.8,875.3 1289.4,877.9 1290.1,870.0 1290.7,877.8 1291.4,872.8 1292.1,866.4 1292.7,874.1 1293.4,870.7 1294.0,868.3 1294.7,870.2 1295.4,864.8 1296.0,871.6 1296.7,868.9 1297.3,868.3 1298.0,872.7 1298.7,868.2 1299.3,865.7 1300.0,864.4 1300.6,866.4 1301.3,869.1 1302.0,863.8 1302.6,861.9 1303.3,866.9 1303.9,863.8 1304.6,862.9 1305.3,868.3 1305.9,858.0 1306.6,861.4 1307.2,854.9 1307.9,858.3 1308.6,860.0 1309.2,860.7 1309.9,852.8 1310.5,857.9 1311.2,856.6 1311.9,852.9 1312.5,859.2 1313.2,850.9 1313.8,847.0 1314.5,849.4 1315.2,841.3 1315.8,849.6 1316.5,846.3 1317.1,840.6 1317.8,841.7 1318.5,839.5 1319.1,841.5 1319.8,832.0 1320.4,827.7 1321.1,823.2 1321.8,825.6 1322.4,819.3 1323.1,820.6 1323.7,819.4 1324.4,813.9 1325.1,809.4 1325.7,812.5 1326.4,805.3 1327.0,803.4 1327.7,802.4 1328.4,793.0 1329.0,791.3 1329.7,798.6 1330.3,788.7 1331.0,784.2 1331.7,784.9 1332.3,782.9 1333.0,780.5 1333.6,782.8 1334.3,784.3 1335.0,785.3 1335.6,788.3 1336.3,783.5 1336.9,786.4 1337.6,795.5 1338.3,794.7 1338.9,802.4 1339.6,802.9 1340.2,801.1 1340.9,809.8 1341.6,808.5 1342.2,815.3 1342.9,821.2 1343.5,826.7 1344.2,823.2 1344.9,828.2 1345.5,829.7 1346.2,833.6 1346.8,826.4 1347.5,834.8 1348.2,838.9 1348.8,841.5 1349.5,839.9 1350.1,846.3 1350.8,848.8 1351.5,847.4 1352.1,848.1 1352.8,849.2 1353.4,852.0 1354.1,856.3 1354.8,858.5 1355.4,854.0 1356.1,853.8 1356.7,855.3 1357.4,861.4 1358.1,860.2 1358.7,861.3 1359.4,862.7 1360.0,863.2 1360.7,862.6 1361.4,860.7 1362.0,862.7 1362.7,865.5 1363.3,867.0 1364.0,865.4 1364.7,865.9 1365.3,871.7 1366.0,867.0 1366.6,869.5 1367.3,868.5 1368.0,867.4 1368.6,866.1 1369.3,869.4 1369.9,869.0 1370.6,874.3 1371.3,869.0 1371.9,871.5 1372.6,875.0 1373.2,873.2 1373.9,875.3 1374.6,876.6 1375.2,869.8 1375.9,873.8 1376.5,872.5 1377.2,879.5 1377.9,875.6 1378.5,877.7 1379.2,881.4 1379.8,875.8 1380.5,877.4 1381.2,878.6 1381.8,877.0 1382.5,881.6 1383.1,880.6 1383.8,881.4 1384.5,878.9 1385.1,878.0 1385.8,878.2 1386.4,878.4 1387.1,875.0 1387.8,881.0 1388.4,882.5 1389.1,880.3 1389.7,879.1 1390.4,880.9 1391.1,881.6 1391.7,882.1 1392.4,886.5 1393.0,879.1 1393.7,882.7 1394.4,883.8 1395.0,882.2 1395.7,881.5 1396.3,879.4 1397.0,880.8 1397.7,884.7 1398.3,886.9 1399.0,881.1 1399.6,884.4 1400.3,884.7 1401.0,886.2 1401.6,884.2 1402.3,884.9 1402.9,886.3 1403.6,880.5 1404.3,884.1 1404.9,879.1 1405.6,878.6 1406.2,882.0 1406.9,880.0 1407.6,885.9 1408.2,887.4 1408.9,883.8 1409.5,884.4 1410.2,884.2 1410.9,884.2 1411.5,885.4 1412.2,886.1 1412.8,883.8 1413.5,883.0 1414.2,883.8 1414.8,887.6 1415.5,884.2 1416.1,889.6 1416.8,884.9 1417.5,889.5 1418.1,882.3 1418.8,883.7 1419.4,887.1 1420.1,887.2 1420.8,885.4 1421.4,891.6 1422.1,886.1 1422.7,886.8 1423.4,884.4 1424.1,890.7 1424.7,888.5 1425.4,887.2 1426.0,881.5 1426.7,887.2 1427.4,884.8 1428.0,887.3 1428.7,888.8 1429.3,884.1 1430.0,886.9 1430.7,888.7 1431.3,886.7 1432.0,885.4 1432.6,883.3 1433.3,884.4 1434.0,882.7 1434.6,889.1 1435.3,886.6 1435.9,882.9 1436.6,886.3 1437.3,882.7 1437.9,877.1 1438.6,889.7 1439.2,889.6 1439.9,882.2 1440.6,884.3 1441.2,886.9 1441.9,885.2 1442.5,883.9 1443.2,884.9 1443.9,885.6 1444.5,884.7 1445.2,886.9 1445.8,885.6 1446.5,884.1 1447.2,886.3 1447.8,881.6 1448.5,890.3 1449.1,881.3 1449.8,886.0 1450.5,887.1 1451.1,887.3 1451.8,886.9 1452.4,889.7 1453.1,883.0 1453.8,885.9 1454.4,886.5 1455.1,884.7 1455.7,884.4 1456.4,889.6 1457.1,884.0 1457.7,884.7 1458.4,885.2 1459.0,885.4 1459.7,886.4 1460.4,885.3 1461.0,887.0 1461.7,886.3 1462.3,887.2 1463.0,889.7 1463.7,883.5 1464.3,890.4 1465.0,884.5 1465.6,887.6 1466.3,886.2 1467.0,884.9 1467.6,880.2 1468.3,890.2 1468.9,883.6 1469.6,883.5 1470.3,888.6 1470.9,885.9 1471.6,891.0 1472.2,890.3 1472.9,887.6 1473.6,886.3 1474.2,887.7 1474.9,881.9 1475.5,886.1 1476.2,886.0 1476.9,884.3 1477.5,886.3 1478.2,881.5 1478.8,888.1 1479.5,889.2 1480.2,882.0 1480.8,886.0 1481.5,889.9 1482.1,886.8 1482.8,882.7 1483.5,882.9 1484.1,888.0 1484.8,890.7 1485.4,882.6 1486.1,885.8 1486.8,883.5 1487.4,884.9 1488.1,886.6 1488.7,885.6 1489.4,883.8 1490.1,891.6 1490.7,885.3 1491.4,885.3 1492.0,888.9 1492.7,885.9 1493.4,885.3 1494.0,888.6 1494.7,883.1 1495.3,888.1 1496.0,888.9 1496.7,887.9 1497.3,885.6 1498.0,886.1 1498.6,881.4 1499.3,885.9 1500.0,887.1 1500.6,888.8 1501.3,886.8 1501.9,885.4 1502.6,884.2 1503.3,886.4 1503.9,887.0 1504.6,890.0 1505.2,886.8 1505.9,885.4 1506.6,886.6 1507.2,885.6 1507.9,886.4 1508.5,881.0 1509.2,882.7 1509.9,883.9 1510.5,888.6 1511.2,887.2 1511.8,887.9 1512.5,890.8 1513.2,884.7 1513.8,890.9 1514.5,888.8 1515.1,885.9 1515.8,892.1 1516.5,884.1 1517.1,885.0 1517.8,887.6 1518.4,889.4 1519.1,887.9 1519.8,882.6 1520.4,887.7 1521.1,888.4 1521.7,895.8 1522.4,892.7 1523.1,889.3 1523.7,886.0 1524.4,890.1 1525.0,886.0 1525.7,889.9 1526.4,890.5 1527.0,888.4 1527.7,890.3 1528.3,888.8 1529.0,888.3 1529.7,894.2 1530.3,891.7 1531.0,889.3 1531.6,888.1 1532.3,890.8 1533.0,892.0 1533.6,892.9 1534.3,894.7 1534.9,892.0 1535.6,887.8 1536.3,896.6 1536.9,894.3 1537.6,893.5 1538.2,895.0 1538.9,887.3 1539.6,890.4 1540.2,890.2 1540.9,895.0 1541.5,888.5 1542.2,891.0 1542.9,896.2 1543.5,893.9 1544.2,891.1 1544.8,897.5 1545.5,888.7 1546.2,893.7 1546.8,891.9 1547.5,894.1 1548.1,892.0 1548.8,890.5 1549.5,893.5 1550.1,889.4 1550.8,894.6 1551.4,892.3 1552.1,895.8 1552.8,892.1 1553.4,891.6 1554.1,894.7 1554.7,897.0 1555.4,888.0 1556.1,894.1 1556.7,895.6 1557.4,890.1 1558.0,891.6 1558.7,895.9 1559.4,891.9 1560.0,892.5 1560.7,899.1 1561.3,891.9 1562.0,892.1 1562.7,888.2 1563.3,891.7 1564.0,891.4 1564.6,899.6" fill="none" stroke="#800080" stroke-width="4.8" stroke-linejoin="round"/>
<polyline points="110.0,1069.8 110.7,1065.5 111.3,1071.2 112.0,1069.1 112.6,1067.4 113.3,1069.2 114.0,1068.4 114.6,1066.4 115.3,1064.7 115.9,1066.2 116.6,1067.8 117.3,1067.2 117.9,1066.6 118.6,1069.6 119.2,1066.0 119.9,1069.5 120.6,1067.1 121.2,1068.1 121.9,1066.0 122.5,1068.0 123.2,1066.6 123.9,1064.9 124.5,1068.0 125.2,1068.0 125.8,1069.6 126.5,1068.6 127.2,1066.3 127.8,1067.1 128.5,1063.8 129.1,1066.2 129.8,1070.5 130.5,1070.9 131.1,1069.6 131.8,1068.8 132.4,1069.4 133.1,1069.2 133.8,1065.3 134.4,1066.9 135.1,1070.5 135.7,1070.6 136.4,1068.9 137.1,1068.0 137.7,1067.8 138.4,1067.6 139.0,1066.9 139.7,1065.2 140.4,1068.9 141.0,1067.9 141.7,1068.3 142.3,1071.8 143.0,1069.8 143.7,1067.5 144.3,1069.8 145.0,1066.1 145.6,1070.7 146.3,1069.3 147.0,1068.5 147.6,1069.9 148.3,1071.5 148.9,1068.1 149.6,1067.2 150.3,1072.8 150.9,1069.1 151.6,1071.7 152.2,1067.9 152.9,1069.8 153.6,1068.0 154.2,1070.3 154.9,1068.7 155.5,1068.0 156.2,1072.0 156.9,1069.9 157.5,1065.7 158.2,1068.9 158.8,1067.7 159.5,1067.2 160.2,1068.4 160.8,1068.6 161.5,1069.5 162.1,1068.1 162.8,1066.2 163.5,1068.6 164.1,1071.2 164.8,1067.2 165.4,1070.8 166.1,1070.5 166.8,1068.9 167.4,1070.3 168.1,1068.4 168.7,1069.1 169.4,1068.0 170.1,1070.7 170.7,1072.3 171.4,1068.7 172.0,1072.0 172.7,1066.1 173.4,1068.4 174.0,1068.2 174.7,1073.1 175.3,1069.0 176.0,1071.4 176.7,1066.4 177.3,1070.3 178.0,1071.1 178.6,1070.0 179.3,1065.2 180.0,1070.5 180.6,1071.6 181.3,1072.5 181.9,1070.9 182.6,1067.2 183.3,1069.8 183.9,1071.8 184.6,1068.7 185.2,1071.2 185.9,1069.4 186.6,1070.4 187.2,1071.6 187.9,1069.0 188.5,1075.4 189.2,1070.5 189.9,1070.9 190.5,1068.9 191.2,1070.4 191.8,1069.8 192.5,1067.6 193.2,1067.5 193.8,1070.8 194.5,1070.1 195.1,1065.5 195.8,1066.4 196.5,1069.7 197.1,1070.1 197.8,1071.3 198.4,1068.0 199.1,1071.3 199.8,1069.7 200.4,1069.3 201.1,1069.9 201.7,1072.0 202.4,1071.2 203.1,1071.8 203.7,1068.9 204.4,1069.6 205.0,1068.0 205.7,1069.1 206.4,1069.4 207.0,1069.3 207.7,1071.4 208.3,1070.8 209.0,1071.4 209.7,1070.3 210.3,1072.0 211.0,1070.2 211.6,1071.7 212.3,1070.9 213.0,1071.3 213.6,1069.8 214.3,1067.7 214.9,1067.3 215.6,1073.4 216.3,1070.6 216.9,1070.7 217.6,1069.5 218.2,1069.0 218.9,1075.0 219.6,1067.8 220.2,1069.6 220.9,1069.6 221.5,1067.7 222.2,1067.4 222.9,1068.4 223.5,1069.0 224.2,1068.7 224.8,1071.0 225.5,1067.4 226.2,1070.3 226.8,1072.1 227.5,1071.1 228.1,1067.4 228.8,1064.1 229.5,1070.9 230.1,1070.2 230.8,1068.3 231.4,1071.6 232.1,1068.5 232.8,1069.4 233.4,1067.3 234.1,1069.7 234.7,1068.3 235.4,1068.1 236.1,1070.9 236.7,1069.3 237.4,1066.2 238.0,1070.1 238.7,1070.3 239.4,1067.3 240.0,1068.0 240.7,1068.8 241.3,1068.2 242.0,1068.8 242.7,1069.7 243.3,1067.6 244.0,1072.2 244.6,1067.1 245.3,1067.3 246.0,1071.8 246.6,1072.5 247.3,1068.2 247.9,1067.7 248.6,1066.1 249.3,1070.0 249.9,1068.2 250.6,1066.3 251.2,1068.5 251.9,1070.2 252.6,1068.9 253.2,1071.6 253.9,1069.6 254.5,1068.3 255.2,1067.3 255.9,1068.3 256.5,1069.5 257.2,1068.8 257.8,1069.0 258.5,1067.5 259.2,1068.4 259.8,1069.1 260.5,1066.6 261.1,1064.5 261.8,1069.9 262.5,1067.7 263.1,1065.8 263.8,1067.0 264.4,1066.1 265.1,1063.4 265.8,1066.0 266.4,1063.7 267.1,1066.6 267.7,1066.0 268.4,1068.2 269.1,1065.8 269.7,1066.7 270.4,1065.4 271.0,1065.2 271.7,1063.3 272.4,1067.5 273.0,1066.0 273.7,1064.6 274.3,1065.9 275.0,1064.7 275.7,1064.1 276.3,1065.8 277.0,1067.5 277.6,1064.8 278.3,1062.6 279.0,1064.0 279.6,1068.3 280.3,1063.5 280.9,1067.1 281.6,1064.5 282.3,1066.2 282.9,1064.6 283.6,1061.9 284.2,1063.9 284.9,1068.4 285.6,1064.3 286.2,1065.5 286.9,1063.8 287.5,1064.1 288.2,1064.9 288.9,1065.1 289.5,1068.2 290.2,1064.1 290.8,1063.8 291.5,1062.8 292.2,1061.6 292.8,1061.0 293.5,1065.1 294.1,1060.5 294.8,1066.3 295.5,1065.3 296.1,1063.1 296.8,1061.5 297.4,1063.6 298.1,1063.5 298.8,1065.5 299.4,1062.1 300.1,1062.7 300.7,1063.2 301.4,1062.8 302.1,1062.1 302.7,1060.1 303.4,1060.2 304.0,1061.8 304.7,1062.6 305.4,1064.8 306.0,1067.1 306.7,1066.0 307.3,1063.5 308.0,1066.2 308.7,1062.5 309.3,1061.7 310.0,1066.8 310.6,1060.7 311.3,1061.8 312.0,1062.0 312.6,1065.1 313.3,1061.3 313.9,1063.7 314.6,1061.6 315.3,1060.0 315.9,1062.6 316.6,1062.4 317.2,1060.0 317.9,1060.5 318.6,1060.5 319.2,1063.6 319.9,1062.7 320.5,1062.2 321.2,1062.6 321.9,1060.8 322.5,1062.5 323.2,1060.5 323.8,1059.1 324.5,1060.2 325.2,1061.7 325.8,1061.4 326.5,1063.1 327.1,1058.1 327.8,1060.7 328.5,1061.7 329.1,1059.2 329.8,1061.3 330.4,1060.0 331.1,1058.6 331.8,1062.6 332.4,1058.0 333.1,1062.2 333.7,1059.6 334.4,1058.5 335.1,1058.6 335.7,1058.7 336.4,1058.4 337.0,1060.3 337.7,1056.4 338.4,1061.9 339.0,1061.1 339.7,1061.9 340.3,1057.6 341.0,1055.1 341.7,1058.0 342.3,1058.7 343.0,1059.5 343.6,1057.9 344.3,1058.5 345.0,1058.8 345.6,1055.7 346.3,1061.6 346.9,1056.2 347.6,1058.6 348.3,1059.9 348.9,1056.4 349.6,1057.7 350.2,1060.5 350.9,1056.9 351.6,1059.2 352.2,1057.7 352.9,1057.5 353.5,1058.2 354.2,1056.4 354.9,1056.3 355.5,1058.2 356.2,1056.8 356.8,1057.1 357.5,1053.9 358.2,1056.0 358.8,1058.0 359.5,1057.3 360.1,1056.1 360.8,1054.4 361.5,1054.1 362.1,1055.8 362.8,1057.5 363.4,1054.8 364.1,1056.9 364.8,1053.9 365.4,1056.4 366.1,1052.3 366.7,1054.3 367.4,1051.9 368.1,1054.8 368.7,1054.5 369.4,1051.6 370.0,1051.8 370.7,1052.2 371.4,1050.1 372.0,1051.0 372.7,1050.9 373.3,1053.7 374.0,1054.6 374.7,1051.1 375.3,1051.2 376.0,1052.0 376.6,1050.5 377.3,1050.7 378.0,1052.5 378.6,1051.2 379.3,1050.5 379.9,1049.4 380.6,1052.9 381.3,1049.0 381.9,1050.1 382.6,1047.8 383.2,1048.4 383.9,1049.4 384.6,1048.3 385.2,1049.8 385.9,1048.7 386.5,1045.9 387.2,1044.0 387.9,1049.7 388.5,1046.6 389.2,1050.1 389.8,1047.2 390.5,1045.6 391.2,1047.7 391.8,1046.0 392.5,1046.2 393.1,1044.3 393.8,1046.8 394.5,1047.4 395.1,1044.2 395.8,1048.1 396.4,1043.5 397.1,1044.7 397.8,1041.0 398.4,1040.2 399.1,1047.1 399.7,1045.6 400.4,1044.7 401.1,1039.3 401.7,1042.4 402.4,1042.4 403.0,1041.4 403.7,1041.4 404.4,1038.8 405.0,1039.8 405.7,1037.6 406.3,1038.6 407.0,1039.5 407.7,1036.9 408.3,1037.4 409.0,1036.6 409.6,1036.9 410.3,1038.0 411.0,1036.3 411.6,1036.0 412.3,1032.1 412.9,1033.5 413.6,1035.0 414.3,1031.4 414.9,1031.5 415.6,1029.8 416.2,1033.3 416.9,1029.3 417.6,1028.1 418.2,1029.7 418.9,1029.7 419.5,1027.8 420.2,1027.8 420.9,1025.5 421.5,1023.9 422.2,1022.3 422.8,1021.2 423.5,1019.9 424.2,1020.5 424.8,1018.4 425.5,1017.5 426.1,1017.2 426.8,1014.6 427.5,1010.8 428.1,1010.3 428.8,1008.2 429.4,1005.1 430.1,1007.0 430.8,1002.8 431.4,1000.8 432.1,999.2 432.7,1000.6 433.4,996.3 434.1,996.3 434.7,991.9 435.4,988.8 436.0,987.9 436.7,985.2 437.4,981.4 438.0,976.3 438.7,974.2 439.3,969.6 440.0,967.8 440.7,964.8 441.3,963.5 442.0,959.5 442.6,954.2 443.3,950.5 444.0,945.0 444.6,945.2 445.3,938.5 445.9,936.0 446.6,927.4 447.3,923.0 447.9,919.6 448.6,913.6 449.2,909.6 449.9,903.1 450.6,902.7 451.2,897.6 451.9,895.6 452.5,890.8 453.2,885.5 453.9,887.7 454.5,887.4 455.2,882.1 455.8,882.3 456.5,883.7 457.2,884.6 457.8,883.3 458.5,891.4 459.1,892.5 459.8,892.4 460.5,893.4 461.1,900.9 461.8,907.7 462.4,909.7 463.1,914.6 463.8,915.3 464.4,921.9 465.1,923.3 465.7,934.2 466.4,936.2 467.1,935.9 467.7,940.8 468.4,949.3 469.0,952.9 469.7,956.2 470.4,961.9 471.0,968.2 471.7,969.0 472.3,968.6 473.0,975.0 473.7,976.2 474.3,980.2 475.0,985.2 475.6,987.2 476.3,988.3 477.0,992.8 477.6,993.9 478.3,998.7 478.9,999.5 479.6,1002.8 480.3,1003.7 480.9,1007.5 481.6,1007.8 482.2,1009.8 482.9,1010.5 483.6,1013.4 484.2,1011.5 484.9,1021.0 485.5,1016.4 486.2,1019.2 486.9,1019.4 487.5,1020.6 488.2,1023.4 488.8,1022.9 489.5,1024.2 490.2,1023.5 490.8,1025.3 491.5,1025.9 492.1,1032.1 492.8,1027.4 493.5,1028.7 494.1,1031.8 494.8,1034.8 495.4,1029.9 496.1,1030.9 496.8,1034.6 497.4,1035.7 498.1,1033.2 498.7,1033.1 499.4,1035.3 500.1,1038.9 500.7,1038.1 501.4,1040.0 502.0,1039.0 502.7,1039.7 503.4,1041.3 504.0,1040.5 504.7,1041.6 505.3,1040.0 506.0,1041.0 506.7,1043.3 507.3,1042.4 508.0,1041.9 508.6,1044.8 509.3,1045.0 510.0,1044.4 510.6,1043.4 511.3,1046.7 511.9,1049.9 512.6,1044.3 513.3,1043.3 513.9,1045.0 514.6,1045.0 515.2,1044.7 515.9,1045.1 516.6,1049.0 517.2,1049.3 517.9,1050.7 518.5,1049.6 519.2,1047.7 519.9,1050.7 520.5,1047.9 521.2,1048.6 521.8,1047.3 522.5,1051.8 523.2,1051.7 523.8,1049.2 524.5,1049.7 525.1,1050.5 525.8,1051.0 526.5,1052.3 527.1,1051.1 527.8,1051.9 528.4,1048.6 529.1,1050.9 529.8,1048.4 530.4,1055.0 531.1,1054.4 531.7,1053.3 532.4,1054.2 533.1,1055.9 533.7,1054.1 534.4,1049.7 535.0,1052.3 535.7,1048.6 536.4,1051.4 537.0,1050.8 537.7,1053.1 538.3,1053.9 539.0,1051.6 539.7,1052.9 540.3,1054.0 541.0,1053.3 541.6,1053.3 542.3,1049.4 543.0,1053.0 543.6,1055.3 544.3,1054.4 544.9,1051.3 545.6,1053.5 546.3,1054.6 546.9,1052.4 547.6,1055.4 548.2,1052.8 548.9,1053.6 549.6,1054.1 550.2,1058.3 550.9,1053.7 551.5,1053.3 552.2,1055.6 552.9,1053.5 553.5,1054.7 554.2,1050.3 554.8,1054.9 555.5,1054.3 556.2,1052.0 556.8,1056.7 557.5,1053.8 558.1,1053.9 558.8,1051.8 559.5,1051.2 560.1,1053.1 560.8,1051.3 561.4,1054.9 562.1,1055.5 562.8,1052.7 563.4,1050.9 564.1,1053.0 564.7,1051.7 565.4,1053.8 566.1,1053.7 566.7,1052.5 567.4,1053.3 568.0,1054.9 568.7,1056.0 569.4,1051.8 570.0,1053.9 570.7,1052.0 571.3,1050.4 572.0,1054.4 572.7,1052.6 573.3,1052.0 574.0,1052.1 574.6,1051.0 575.3,1049.2 576.0,1054.0 576.6,1052.2 577.3,1050.8 577.9,1051.8 578.6,1052.0 579.3,1049.1 579.9,1050.2 580.6,1048.2 581.2,1049.6 581.9,1047.6 582.6,1052.0 583.2,1046.6 583.9,1047.7 584.5,1047.2 585.2,1045.3 585.9,1047.1 586.5,1044.7 587.2,1043.6 587.8,1043.7 588.5,1041.8 589.2,1044.6 589.8,1042.9 590.5,1042.9 591.1,1037.9 591.8,1040.0 592.5,1037.3 593.1,1038.0 593.8,1039.2 594.4,1036.3 595.1,1034.5 595.8,1035.7 596.4,1034.3 597.1,1034.5 597.7,1026.5 598.4,1029.0 599.1,1026.0 599.7,1023.5 600.4,1023.5 601.0,1019.2 601.7,1015.2 602.4,1015.3 603.0,1014.0 603.7,1015.1 604.3,1007.5 605.0,1003.5 605.7,998.6 606.3,997.7 607.0,993.7 607.6,989.8 608.3,982.0 609.0,977.7 609.6,968.9 610.3,966.7 610.9,956.4 611.6,946.4 612.3,945.0 612.9,934.7 613.6,924.8 614.2,914.8 614.9,902.1 615.6,895.7 616.2,882.2 616.9,878.8 617.5,868.4 618.2,859.1 618.9,860.7 619.5,861.8 620.2,859.5 620.8,865.8 621.5,869.5 622.2,876.2 622.8,881.3 623.5,897.3 624.1,903.6 624.8,914.3 625.5,920.4 626.1,929.1 626.8,940.3 627.4,944.6 628.1,950.8 628.8,954.8 629.4,962.3 630.1,967.6 630.7,969.1 631.4,972.7 632.1,973.4 632.7,980.2 633.4,978.2 634.0,980.3 634.7,984.5 635.4,981.6 636.0,979.5 636.7,980.6 637.3,981.6 638.0,985.5 638.7,982.7 639.3,981.9 640.0,983.8 640.6,984.6 641.3,980.9 642.0,984.9 642.6,983.9 643.3,984.4 643.9,981.0 644.6,987.6 645.3,992.1 645.9,991.7 646.6,999.2 647.2,998.1 647.9,999.2 648.6,1005.2 649.2,1007.8 649.9,1011.8 650.5,1012.9 651.2,1018.5 651.9,1017.9 652.5,1021.7 653.2,1021.7 653.8,1024.8 654.5,1028.8 655.2,1029.3 655.8,1031.6 656.5,1033.9 657.1,1036.4 657.8,1039.0 658.5,1040.5 659.1,1042.3 659.8,1042.2 660.4,1042.0 661.1,1041.3 661.8,1044.7 662.4,1044.9 663.1,1044.0 663.7,1051.2 664.4,1045.8 665.1,1050.6 665.7,1051.7 666.4,1051.0 667.0,1056.9 667.7,1052.9 668.4,1052.1 669.0,1057.3 669.7,1053.2 670.3,1052.6 671.0,1053.9 671.7,1055.0 672.3,1056.7 673.0,1057.7 673.6,1054.8 674.3,1058.6 675.0,1062.4 675.6,1057.4 676.3,1058.9 676.9,1060.7 677.6,1062.0 678.3,1058.9 678.9,1058.7 679.6,1058.9 680.2,1063.0 680.9,1062.9 681.6,1057.6 682.2,1057.9 682.9,1059.8 683.5,1059.6 684.2,1063.3 684.9,1063.2 685.5,1066.6 686.2,1064.6 686.8,1063.6 687.5,1065.7 688.2,1062.2 688.8,1061.4 689.5,1064.2 690.1,1066.0 690.8,1061.5 691.5,1066.3 692.1,1066.4 692.8,1064.0 693.4,1065.4 694.1,1064.7 694.8,1065.5 695.4,1067.0 696.1,1064.2 696.7,1067.7 697.4,1067.5 698.1,1067.7 698.7,1062.5 699.4,1062.8 700.0,1067.6 700.7,1065.4 701.4,1065.3 702.0,1065.3 702.7,1064.3 703.3,1066.3 704.0,1065.6 704.7,1065.9 705.3,1068.0 706.0,1065.1 706.6,1069.4 707.3,1063.3 708.0,1072.1 708.6,1065.1 709.3,1068.7 709.9,1069.4 710.6,1067.8 711.3,1069.2 711.9,1067.7 712.6,1064.8 713.2,1068.7 713.9,1070.2 714.6,1067.2 715.2,1065.1 715.9,1067.2 716.5,1068.9 717.2,1068.9 717.9,1070.5 718.5,1069.5 719.2,1069.5 719.8,1064.9 720.5,1072.7 721.2,1068.8 721.8,1070.3 722.5,1068.2 723.1,1068.6 723.8,1069.0 724.5,1071.8 725.1,1071.7 725.8,1070.1 726.4,1072.7 727.1,1068.4 727.8,1070.1 728.4,1068.3 729.1,1071.6 729.7,1069.3 730.4,1071.1 731.1,1072.5 731.7,1065.5 732.4,1073.3 733.0,1070.0 733.7,1068.8 734.4,1065.9 735.0,1068.9 735.7,1065.3 736.3,1069.7 737.0,1069.2 737.7,1072.9 738.3,1069.0 739.0,1071.6 739.6,1071.8 740.3,1073.5 741.0,1069.2 741.6,1071.1 742.3,1066.9 742.9,1067.7 743.6,1069.3 744.3,1069.8 744.9,1067.6 745.6,1069.1 746.2,1071.1 746.9,1069.0 747.6,1069.6 748.2,1068.3 748.9,1072.5 749.5,1073.2 750.2,1070.3 750.9,1069.8 751.5,1073.1 752.2,1070.9 752.8,1068.8 753.5,1067.6 754.2,1069.0 754.8,1074.1 755.5,1069.0 756.1,1075.4 756.8,1070.1 757.5,1069.7 758.1,1072.6 758.8,1069.7 759.4,1070.9 760.1,1068.3 760.8,1067.9 761.4,1068.9 762.1,1070.6 762.7,1069.0 763.4,1066.6 764.1,1071.2 764.7,1070.0 765.4,1069.8 766.0,1069.2 766.7,1066.2 767.4,1073.3 768.0,1069.5 768.7,1071.4 769.3,1073.0 770.0,1072.5 770.7,1070.8 771.3,1070.5 772.0,1071.0 772.6,1072.1 773.3,1071.6 774.0,1069.7 774.6,1071.3 775.3,1071.2 775.9,1071.8 776.6,1070.9 777.3,1073.1 777.9,1071.0 778.6,1072.2 779.2,1070.7 779.9,1069.6 780.6,1068.9 781.2,1070.4 781.9,1071.7 782.5,1073.0 783.2,1070.5 783.9,1069.8 784.5,1069.8 785.2,1073.1 785.8,1071.0 786.5,1069.8 787.2,1072.2 787.8,1068.4 788.5,1071.0 789.1,1070.7 789.8,1070.6 790.5,1068.7 791.1,1072.7 791.8,1074.0 792.4,1068.4 793.1,1071.1 793.8,1072.1 794.4,1075.1 795.1,1070.1 795.7,1069.2 796.4,1070.9 797.1,1074.7 797.7,1071.1 798.4,1071.4 799.0,1074.2 799.7,1067.0 800.4,1067.0 801.0,1072.7 801.7,1072.4 802.3,1068.4 803.0,1072.0 803.7,1071.1 804.3,1071.4 805.0,1069.5 805.6,1070.2 806.3,1069.4 807.0,1071.1 807.6,1070.6 808.3,1074.2 808.9,1072.2 809.6,1068.2 810.3,1071.8 810.9,1073.7 811.6,1071.6 812.2,1073.1 812.9,1071.0 813.6,1072.4 814.2,1069.4 814.9,1072.6 815.5,1068.6 816.2,1073.5 816.9,1068.3 817.5,1067.2 818.2,1072.1 818.8,1070.8 819.5,1071.4 820.2,1072.0 820.8,1071.1 821.5,1069.5 822.1,1071.6 822.8,1071.8 823.5,1072.1 824.1,1074.9 824.8,1069.9 825.4,1071.3 826.1,1072.3 826.8,1070.4 827.4,1069.0 828.1,1070.2 828.7,1073.2 829.4,1070.8 830.1,1072.4 830.7,1069.9 831.4,1072.1 832.0,1070.0 832.7,1069.7 833.4,1071.5 834.0,1071.4 834.7,1074.0 835.3,1068.3 836.0,1072.2 836.7,1074.3 837.3,1073.8 838.0,1070.6 838.6,1070.1 839.3,1070.4 840.0,1071.9 840.6,1071.7 841.3,1072.0 841.9,1072.5 842.6,1069.4 843.3,1069.3 843.9,1069.1 844.6,1068.9 845.2,1071.2 845.9,1072.0 846.6,1076.1 847.2,1072.4 847.9,1071.4 848.5,1074.0 849.2,1070.1 849.9,1072.0 850.5,1073.2 851.2,1072.9 851.8,1072.2 852.5,1070.8 853.2,1069.2 853.8,1071.2 854.5,1070.4 855.1,1072.7 855.8,1071.2 856.5,1072.5 857.1,1068.5 857.8,1073.3 858.4,1069.9 859.1,1068.6 859.8,1069.0 860.4,1070.3 861.1,1073.6 861.7,1072.8 862.4,1069.4 863.1,1071.7 863.7,1071.3 864.4,1068.6 865.0,1069.7 865.7,1067.8 866.4,1070.0 867.0,1066.7 867.7,1070.1 868.3,1069.9 869.0,1070.1 869.7,1070.1 870.3,1073.7 871.0,1071.0 871.6,1072.1 872.3,1073.0 873.0,1073.3 873.6,1072.9 874.3,1070.6 874.9,1069.6 875.6,1070.2 876.3,1070.8 876.9,1071.7 877.6,1071.5 878.2,1073.7 878.9,1071.5 879.6,1075.0 880.2,1073.6 880.9,1070.8 881.5,1073.3 882.2,1066.4 882.9,1074.3 883.5,1072.5 884.2,1072.5 884.8,1068.7 885.5,1076.4 886.2,1071.3 886.8,1071.5 887.5,1073.9 888.1,1071.5 888.8,1070.3 889.5,1073.0 890.1,1070.0 890.8,1073.2 891.4,1072.1 892.1,1073.9 892.8,1069.6 893.4,1074.2 894.1,1072.4 894.7,1075.5 895.4,1070.7 896.1,1075.3 896.7,1073.2 897.4,1073.4 898.0,1070.6 898.7,1073.0 899.4,1073.2 900.0,1070.4 900.7,1069.8 901.3,1070.6 902.0,1074.7 902.7,1072.3 903.3,1073.7 904.0,1072.5 904.6,1072.2 905.3,1072.4 906.0,1071.3 906.6,1074.3 907.3,1072.3 907.9,1072.4 908.6,1069.5 909.3,1072.6 909.9,1070.8 910.6,1071.1 911.2,1074.0 911.9,1070.0 912.6,1071.7 913.2,1073.2 913.9,1074.2 914.5,1071.1 915.2,1072.7 915.9,1072.6 916.5,1070.0 917.2,1068.1 917.8,1068.5 918.5,1073.2 919.2,1072.3 919.8,1069.6 920.5,1070.9 921.1,1071.3 921.8,1071.4 922.5,1072.0 923.1,1076.1 923.8,1070.6 924.4,1072.4 925.1,1070.7 925.8,1070.9 926.4,1070.5 927.1,1071.7 927.7,1071.1 928.4,1072.7 929.1,1072.5 929.7,1070.4 930.4,1075.6 931.0,1069.9 931.7,1072.7 932.4,1076.1 933.0,1070.8 933.7,1074.5 934.3,1074.7 935.0,1072.7 935.7,1068.7 936.3,1074.7 937.0,1072.2 937.6,1071.1 938.3,1074.4 939.0,1070.7 939.6,1074.0 940.3,1071.1 940.9,1073.0 941.6,1070.1 942.3,1071.3 942.9,1070.4 943.6,1070.7 944.2,1072.4 944.9,1071.7 945.6,1072.4 946.2,1074.4 946.9,1071.8 947.5,1068.6 948.2,1071.5 948.9,1072.1 949.5,1073.9 950.2,1073.9 950.8,1073.7 951.5,1071.5 952.2,1073.1 952.8,1069.3 953.5,1074.3 954.1,1072.7 954.8,1072.8 955.5,1071.2 956.1,1072.0 956.8,1070.6 957.4,1072.9 958.1,1069.4 958.8,1073.6 959.4,1072.8 960.1,1075.5 960.7,1071.7 961.4,1071.6 962.1,1072.1 962.7,1071.8 963.4,1071.5 964.0,1069.7 964.7,1069.7 965.4,1070.6 966.0,1071.1 966.7,1069.5 967.3,1069.5 968.0,1071.1 968.7,1073.0 969.3,1071.3 970.0,1072.8 970.6,1073.4 971.3,1073.0 972.0,1070.8 972.6,1070.8 973.3,1068.1 973.9,1070.3 974.6,1072.4 975.3,1069.5 975.9,1074.0 976.6,1074.1 977.2,1070.8 977.9,1073.2 978.6,1068.8 979.2,1069.5 979.9,1070.7 980.5,1071.4 981.2,1071.1 981.9,1069.8 982.5,1075.0 983.2,1071.9 983.8,1071.9 984.5,1072.6 985.2,1071.7 985.8,1070.9 986.5,1070.3 987.1,1068.3 987.8,1074.1 988.5,1069.6 989.1,1068.3 989.8,1069.8 990.4,1068.4 991.1,1075.0 991.8,1072.0 992.4,1073.9 993.1,1074.0 993.7,1072.3 994.4,1072.3 995.1,1070.0 995.7,1071.1 996.4,1070.2 997.0,1071.4 997.7,1070.0 998.4,1073.6 999.0,1072.7 999.7,1071.1 1000.3,1068.2 1001.0,1072.5 1001.7,1072.9 1002.3,1071.1 1003.0,1068.9 1003.6,1072.0 1004.3,1073.2 1005.0,1067.7 1005.6,1072.3 1006.3,1067.9 1006.9,1071.4 1007.6,1074.4 1008.3,1071.4 1008.9,1072.1 1009.6,1070.6 1010.2,1071.2 1010.9,1075.5 1011.6,1073.7 1012.2,1070.6 1012.9,1070.5 1013.5,1071.2 1014.2,1075.2 1014.9,1071.6 1015.5,1073.3 1016.2,1070.5 1016.8,1068.9 1017.5,1073.6 1018.2,1071.1 1018.8,1069.8 1019.5,1069.9 1020.1,1070.0 1020.8,1070.1 1021.5,1068.4 1022.1,1073.4 1022.8,1071.9 1023.4,1073.0 1024.1,1070.6 1024.8,1071.8 1025.4,1071.5 1026.1,1073.4 1026.7,1072.7 1027.4,1071.9 1028.1,1070.0 1028.7,1069.0 1029.4,1069.7 1030.0,1070.1 1030.7,1070.2 1031.4,1068.9 1032.0,1074.3 1032.7,1071.7 1033.3,1067.5 1034.0,1069.2 1034.7,1068.8 1035.3,1071.6 1036.0,1073.2 1036.6,1069.4 1037.3,1072.3 1038.0,1070.7 1038.6,1073.3 1039.3,1073.7 1039.9,1071.8 1040.6,1072.5 1041.3,1071.2 1041.9,1070.5 1042.6,1069.0 1043.2,1071.7 1043.9,1071.0 1044.6,1070.4 1045.2,1071.0 1045.9,1070.8 1046.5,1069.2 1047.2,1070.1 1047.9,1073.1 1048.5,1070.6 1049.2,1073.6 1049.8,1068.9 1050.5,1068.5 1051.2,1071.2 1051.8,1072.3 1052.5,1069.7 1053.1,1072.0 1053.8,1072.6 1054.5,1072.8 1055.1,1070.6 1055.8,1070.7 1056.4,1067.8 1057.1,1070.8 1057.8,1071.2 1058.4,1073.3 1059.1,1068.4 1059.7,1069.1 1060.4,1068.8 1061.1,1072.3 1061.7,1066.0 1062.4,1068.6 1063.0,1074.3 1063.7,1071.7 1064.4,1068.1 1065.0,1070.4 1065.7,1072.0 1066.3,1071.5 1067.0,1070.0 1067.7,1069.0 1068.3,1071.9 1069.0,1070.4 1069.6,1071.9 1070.3,1071.1 1071.0,1069.5 1071.6,1073.0 1072.3,1069.4 1072.9,1071.1 1073.6,1069.1 1074.3,1069.9 1074.9,1069.8 1075.6,1069.0 1076.2,1070.7 1076.9,1072.6 1077.6,1073.6 1078.2,1072.8 1078.9,1069.9 1079.5,1072.8 1080.2,1070.9 1080.9,1073.4 1081.5,1067.9 1082.2,1072.8 1082.8,1069.0 1083.5,1072.2 1084.2,1069.3 1084.8,1071.8 1085.5,1069.6 1086.1,1066.7 1086.8,1068.3 1087.5,1069.6 1088.1,1070.1 1088.8,1066.0 1089.4,1067.9 1090.1,1068.7 1090.8,1069.7 1091.4,1070.4 1092.1,1068.5 1092.7,1067.3 1093.4,1070.6 1094.1,1069.4 1094.7,1071.6 1095.4,1069.1 1096.0,1071.2 1096.7,1068.4 1097.4,1070.5 1098.0,1070.2 1098.7,1070.8 1099.3,1068.3 1100.0,1069.8 1100.7,1068.4 1101.3,1069.7 1102.0,1071.1 1102.6,1075.4 1103.3,1070.0 1104.0,1071.3 1104.6,1070.2 1105.3,1072.0 1105.9,1070.8 1106.6,1071.9 1107.3,1070.6 1107.9,1074.3 1108.6,1072.5 1109.2,1066.9 1109.9,1070.5 1110.6,1070.1 1111.2,1066.0 1111.9,1068.4 1112.5,1069.1 1113.2,1068.6 1113.9,1070.2 1114.5,1066.7 1115.2,1071.3 1115.8,1071.3 1116.5,1070.6 1117.2,1069.3 1117.8,1069.9 1118.5,1069.1 1119.1,1072.0 1119.8,1070.8 1120.5,1073.5 1121.1,1069.2 1121.8,1072.5 1122.4,1068.8 1123.1,1069.6 1123.8,1068.0 1124.4,1070.8 1125.1,1069.7 1125.7,1070.9 1126.4,1072.5 1127.1,1069.7 1127.7,1070.5 1128.4,1071.4 1129.0,1069.6 1129.7,1068.7 1130.4,1070.4 1131.0,1070.6 1131.7,1071.1 1132.3,1071.2 1133.0,1068.4 1133.7,1070.4 1134.3,1071.8 1135.0,1068.7 1135.6,1070.2 1136.3,1068.4 1137.0,1069.8 1137.6,1072.6 1138.3,1069.7 1138.9,1067.6 1139.6,1070.0 1140.3,1069.7 1140.9,1071.3 1141.6,1066.7 1142.2,1067.5 1142.9,1069.0 1143.6,1066.3 1144.2,1071.1 1144.9,1065.4 1145.5,1067.5 1146.2,1066.2 1146.9,1067.7 1147.5,1070.2 1148.2,1069.8 1148.8,1070.4 1149.5,1069.7 1150.2,1064.9 1150.8,1069.1 1151.5,1065.1 1152.1,1067.5 1152.8,1067.6 1153.5,1067.3 1154.1,1069.1 1154.8,1066.7 1155.4,1071.2 1156.1,1069.1 1156.8,1070.1 1157.4,1069.2 1158.1,1069.4 1158.7,1067.6 1159.4,1071.2 1160.1,1065.7 1160.7,1068.3 1161.4,1067.4 1162.0,1066.9 1162.7,1067.8 1163.4,1065.8 1164.0,1068.7 1164.7,1068.4 1165.3,1067.1 1166.0,1068.2 1166.7,1064.9 1167.3,1063.4 1168.0,1065.6 1168.6,1066.1 1169.3,1070.9 1170.0,1065.9 1170.6,1068.1 1171.3,1067.7 1171.9,1069.9 1172.6,1066.2 1173.3,1067.1 1173.9,1065.5 1174.6,1064.2 1175.2,1063.9 1175.9,1064.2 1176.6,1068.1 1177.2,1065.9 1177.9,1065.1 1178.5,1065.3 1179.2,1064.2 1179.9,1065.0 1180.5,1064.9 1181.2,1066.1 1181.8,1066.5 1182.5,1061.8 1183.2,1065.1 1183.8,1067.1 1184.5,1062.7 1185.1,1064.0 1185.8,1064.7 1186.5,1066.3 1187.1,1065.4 1187.8,1063.8 1188.4,1065.0 1189.1,1065.9 1189.8,1064.7 1190.4,1067.3 1191.1,1064.6 1191.7,1061.9 1192.4,1062.4 1193.1,1063.5 1193.7,1063.3 1194.4,1064.7 1195.0,1064.2 1195.7,1066.6 1196.4,1064.9 1197.0,1066.1 1197.7,1062.0 1198.3,1062.5 1199.0,1064.5 1199.7,1063.4 1200.3,1064.3 1201.0,1063.6 1201.6,1062.0 1202.3,1066.1 1203.0,1065.1 1203.6,1060.2 1204.3,1061.8 1204.9,1062.9 1205.6,1064.1 1206.3,1062.7 1206.9,1060.3 1207.6,1064.3 1208.2,1062.4 1208.9,1064.9 1209.6,1063.2 1210.2,1064.4 1210.9,1064.1 1211.5,1064.2 1212.2,1061.6 1212.9,1064.4 1213.5,1062.9 1214.2,1060.2 1214.8,1061.7 1215.5,1061.8 1216.2,1063.2 1216.8,1063.6 1217.5,1060.3 1218.1,1063.6 1218.8,1062.2 1219.5,1060.4 1220.1,1063.7 1220.8,1060.8 1221.4,1060.0 1222.1,1063.5 1222.8,1063.7 1223.4,1060.9 1224.1,1063.9 1224.7,1063.8 1225.4,1061.0 1226.1,1065.5 1226.7,1061.8 1227.4,1062.3 1228.0,1057.5 1228.7,1062.9 1229.4,1060.6 1230.0,1062.5 1230.7,1058.6 1231.3,1063.7 1232.0,1064.1 1232.7,1064.9 1233.3,1056.1 1234.0,1062.4 1234.6,1061.9 1235.3,1055.8 1236.0,1059.9 1236.6,1061.0 1237.3,1063.6 1237.9,1059.5 1238.6,1061.3 1239.3,1060.7 1239.9,1061.4 1240.6,1059.9 1241.2,1062.2 1241.9,1062.2 1242.6,1058.0 1243.2,1062.3 1243.9,1058.9 1244.5,1059.6 1245.2,1062.0 1245.9,1060.1 1246.5,1060.8 1247.2,1061.1 1247.8,1060.7 1248.5,1058.5 1249.2,1057.7 1249.8,1060.5 1250.5,1060.5 1251.1,1059.6 1251.8,1058.5 1252.5,1060.3 1253.1,1058.5 1253.8,1056.0 1254.4,1058.8 1255.1,1059.1 1255.8,1059.4 1256.4,1056.3 1257.1,1056.3 1257.7,1058.1 1258.4,1056.6 1259.1,1057.1 1259.7,1058.7 1260.4,1057.6 1261.0,1059.9 1261.7,1057.0 1262.4,1059.4 1263.0,1058.0 1263.7,1060.5 1264.3,1055.7 1265.0,1055.3 1265.7,1057.6 1266.3,1054.1 1267.0,1054.0 1267.6,1055.0 1268.3,1055.0 1269.0,1051.6 1269.6,1054.3 1270.3,1053.0 1270.9,1053.3 1271.6,1053.3 1272.3,1052.4 1272.9,1054.4 1273.6,1053.0 1274.2,1051.5 1274.9,1051.7 1275.6,1053.1 1276.2,1052.3 1276.9,1052.8 1277.5,1049.9 1278.2,1050.1 1278.9,1053.0 1279.5,1049.0 1280.2,1051.6 1280.8,1049.7 1281.5,1047.0 1282.2,1044.8 1282.8,1048.0 1283.5,1045.2 1284.1,1044.7 1284.8,1042.3 1285.5,1047.0 1286.1,1044.5 1286.8,1043.8 1287.4,1043.9 1288.1,1043.1 1288.8,1042.2 1289.4,1042.3 1290.1,1040.2 1290.7,1035.4 1291.4,1040.6 1292.1,1039.3 1292.7,1037.8 1293.4,1039.8 1294.0,1033.6 1294.7,1030.1 1295.4,1037.0 1296.0,1034.2 1296.7,1029.5 1297.3,1030.7 1298.0,1031.5 1298.7,1027.1 1299.3,1029.1 1300.0,1030.7 1300.6,1028.2 1301.3,1024.3 1302.0,1023.6 1302.6,1019.9 1303.3,1020.4 1303.9,1018.0 1304.6,1015.2 1305.3,1012.9 1305.9,1016.9 1306.6,1011.8 1307.2,1007.9 1307.9,1006.9 1308.6,1008.2 1309.2,1006.2 1309.9,999.9 1310.5,998.9 1311.2,997.6 1311.9,992.7 1312.5,988.4 1313.2,985.9 1313.8,984.6 1314.5,980.1 1315.2,975.9 1315.8,974.3 1316.5,972.9 1317.1,968.8 1317.8,963.4 1318.5,963.3 1319.1,954.5 1319.8,951.7 1320.4,945.3 1321.1,944.9 1321.8,939.1 1322.4,932.2 1323.1,929.6 1323.7,930.3 1324.4,924.5 1325.1,919.7 1325.7,917.6 1326.4,910.0 1327.0,908.5 1327.7,905.2 1328.4,904.0 1329.0,903.2 1329.7,903.8 1330.3,904.1 1331.0,904.0 1331.7,907.5 1332.3,902.9 1333.0,905.2 1333.6,908.2 1334.3,908.2 1335.0,912.0 1335.6,916.4 1336.3,917.5 1336.9,923.6 1337.6,928.9 1338.3,928.7 1338.9,930.8 1339.6,939.2 1340.2,941.4 1340.9,947.8 1341.6,950.9 1342.2,956.3 1342.9,961.9 1343.5,965.2 1344.2,967.0 1344.9,969.3 1345.5,970.5 1346.2,974.6 1346.8,980.4 1347.5,985.2 1348.2,986.9 1348.8,990.0 1349.5,991.1 1350.1,993.7 1350.8,996.1 1351.5,1002.8 1352.1,1000.5 1352.8,1007.6 1353.4,1006.9 1354.1,1011.6 1354.8,1013.0 1355.4,1015.8 1356.1,1018.4 1356.7,1016.6 1357.4,1017.9 1358.1,1020.5 1358.7,1021.4 1359.4,1025.4 1360.0,1025.4 1360.7,1026.9 1361.4,1028.9 1362.0,1028.5 1362.7,1032.5 1363.3,1028.4 1364.0,1033.2 1364.7,1034.7 1365.3,1033.4 1366.0,1034.5 1366.6,1038.2 1367.3,1036.9 1368.0,1034.9 1368.6,1036.7 1369.3,1041.7 1369.9,1039.1 1370.6,1043.7 1371.3,1044.5 1371.9,1042.4 1372.6,1044.4 1373.2,1042.6 1373.9,1043.9 1374.6,1044.0 1375.2,1046.8 1375.9,1044.0 1376.5,1046.6 1377.2,1047.5 1377.9,1048.8 1378.5,1044.6 1379.2,1045.6 1379.8,1047.7 1380.5,1049.3 1381.2,1050.4 1381.8,1050.9 1382.5,1054.6 1383.1,1052.5 1383.8,1052.8 1384.5,1051.2 1385.1,1053.9 1385.8,1054.0 1386.4,1054.4 1387.1,1053.3 1387.8,1054.9 1388.4,1056.9 1389.1,1053.0 1389.7,1050.9 1390.4,1056.5 1391.1,1056.6 1391.7,1055.2 1392.4,1055.1 1393.0,1061.1 1393.7,1055.6 1394.4,1054.5 1395.0,1056.1 1395.7,1058.1 1396.3,1056.3 1397.0,1056.9 1397.7,1058.4 1398.3,1057.3 1399.0,1058.5 1399.6,1058.4 1400.3,1056.8 1401.0,1059.1 1401.6,1057.1 1402.3,1061.0 1402.9,1057.9 1403.6,1059.3 1404.3,1056.6 1404.9,1059.3 1405.6,1058.0 1406.2,1063.1 1406.9,1060.4 1407.6,1061.7 1408.2,1057.8 1408.9,1058.9 1409.5,1060.9 1410.2,1058.9 1410.9,1063.6 1411.5,1060.9 1412.2,1062.1 1412.8,1062.5 1413.5,1061.8 1414.2,1063.6 1414.8,1061.1 1415.5,1063.1 1416.1,1064.7 1416.8,1063.1 1417.5,1063.0 1418.1,1062.3 1418.8,1063.1 1419.4,1064.3 1420.1,1062.8 1420.8,1060.3 1421.4,1063.7 1422.1,1063.2 1422.7,1064.4 1423.4,1063.7 1424.1,1066.5 1424.7,1061.7 1425.4,1062.1 1426.0,1065.1 1426.7,1062.2 1427.4,1064.6 1428.0,1064.1 1428.7,1060.7 1429.3,1065.4 1430.0,1066.7 1430.7,1064.7 1431.3,1061.9 1432.0,1065.8 1432.6,1062.6 1433.3,1064.2 1434.0,1065.2 1434.6,1063.1 1435.3,1061.5 1435.9,1064.3 1436.6,1064.5 1437.3,1063.1 1437.9,1063.2 1438.6,1065.9 1439.2,1064.4 1439.9,1063.7 1440.6,1063.5 1441.2,1064.9 1441.9,1064.7 1442.5,1064.2 1443.2,1062.1 1443.9,1063.8 1444.5,1063.3 1445.2,1064.5 1445.8,1066.4 1446.5,1066.0 1447.2,1065.5 1447.8,1064.5 1448.5,1063.7 1449.1,1064.8 1449.8,1063.3 1450.5,1063.5 1451.1,1062.6 1451.8,1063.9 1452.4,1063.8 1453.1,1067.1 1453.8,1064.8 1454.4,1063.1 1455.1,1065.0 1455.7,1062.8 1456.4,1065.3 1457.1,1064.8 1457.7,1068.4 1458.4,1061.4 1459.0,1063.1 1459.7,1062.9 1460.4,1063.6 1461.0,1064.2 1461.7,1061.2 1462.3,1061.5 1463.0,1063.3 1463.7,1064.3 1464.3,1060.6 1465.0,1059.8 1465.6,1064.4 1466.3,1063.8 1467.0,1064.1 1467.6,1060.4 1468.3,1061.7 1468.9,1062.3 1469.6,1062.6 1470.3,1061.6 1470.9,1061.6 1471.6,1063.3 1472.2,1060.7 1472.9,1060.5 1473.6,1060.6 1474.2,1060.4 1474.9,1061.4 1475.5,1060.7 1476.2,1060.2 1476.9,1063.4 1477.5,1061.4 1478.2,1060.2 1478.8,1062.9 1479.5,1059.7 1480.2,1060.6 1480.8,1060.3 1481.5,1059.4 1482.1,1059.7 1482.8,1060.5 1483.5,1057.8 1484.1,1059.5 1484.8,1060.6 1485.4,1060.6 1486.1,1060.6 1486.8,1064.1 1487.4,1061.1 1488.1,1059.7 1488.7,1059.7 1489.4,1059.9 1490.1,1060.6 1490.7,1059.4 1491.4,1062.4 1492.0,1057.9 1492.7,1060.9 1493.4,1060.7 1494.0,1057.9 1494.7,1060.9 1495.3,1060.8 1496.0,1058.8 1496.7,1063.8 1497.3,1061.1 1498.0,1059.3 1498.6,1059.1 1499.3,1058.7 1500.0,1060.4 1500.6,1060.2 1501.3,1057.7 1501.9,1058.4 1502.6,1059.0 1503.3,1059.6 1503.9,1059.7 1504.6,1059.2 1505.2,1061.5 1505.9,1062.1 1506.6,1060.7 1507.2,1056.9 1507.9,1060.5 1508.5,1061.8 1509.2,1060.8 1509.9,1061.5 1510.5,1061.3 1511.2,1058.6 1511.8,1057.0 1512.5,1062.5 1513.2,1060.6 1513.8,1062.3 1514.5,1061.2 1515.1,1061.5 1515.8,1064.3 1516.5,1060.0 1517.1,1062.2 1517.8,1060.4 1518.4,1062.5 1519.1,1063.4 1519.8,1063.8 1520.4,1063.1 1521.1,1060.6 1521.7,1063.5 1522.4,1064.7 1523.1,1065.0 1523.7,1067.1 1524.4,1064.5 1525.0,1062.0 1525.7,1062.9 1526.4,1064.1 1527.0,1065.9 1527.7,1062.3 1528.3,1065.9 1529.0,1065.6 1529.7,1063.1 1530.3,1065.8 1531.0,1063.6 1531.6,1065.0 1532.3,1064.6 1533.0,1065.6 1533.6,1063.4 1534.3,1066.4 1534.9,1061.9 1535.6,1065.0 1536.3,1064.9 1536.9,1068.7 1537.6,1067.0 1538.2,1065.4 1538.9,1064.8 1539.6,1066.5 1540.2,1065.5 1540.9,1070.5 1541.5,1062.0 1542.2,1067.0 1542.9,1062.8 1543.5,1068.8 1544.2,1065.8 1544.8,1070.0 1545.5,1066.4 1546.2,1069.3 1546.8,1067.9 1547.5,1069.6 1548.1,1067.8 1548.8,1062.7 1549.5,1066.6 1550.1,1065.3 1550.8,1069.7 1551.4,1069.0 1552.1,1068.2 1552.8,1069.0 1553.4,1068.7 1554.1,1067.4 1554.7,1071.8 1555.4,1069.0 1556.1,1068.3 1556.7,1066.2 1557.4,1067.7 1558.0,1068.8 1558.7,1068.5 1559.4,1068.1 1560.0,1068.9 1560.7,1067.1 1561.3,1069.1 1562.0,1066.5 1562.7,1067.7 1563.3,1067.9 1564.0,1070.7 1564.6,1070.1" fill="none" stroke="#8000ff" stroke-width="5.0" stroke-linejoin="round"/>
</g>
<g stroke="#000" stroke-width="3.4">
<line x1="174.8" y1="1088.5" x2="174.8" y2="1078.0"/>
<line x1="241.0" y1="1088.5" x2="241.0" y2="1067.5"/>
<line x1="307.2" y1="1088.5" x2="307.2" y2="1078.0"/>
<line x1="373.5" y1="1088.5" x2="373.5" y2="1067.5"/>
<line x1="439.8" y1="1088.5" x2="439.8" y2="1078.0"/>
<line x1="506.0" y1="1088.5" x2="506.0" y2="1067.5"/>
<line x1="572.2" y1="1088.5" x2="572.2" y2="1078.0"/>
<line x1="638.5" y1="1088.5" x2="638.5" y2="1067.5"/>
<line x1="704.8" y1="1088.5" x2="704.8" y2="1078.0"/>
<line x1="771.0" y1="1088.5" x2="771.0" y2="1067.5"/>
<line x1="837.2" y1="1088.5" x2="837.2" y2="1078.0"/>
<line x1="903.5" y1="1088.5" x2="903.5" y2="1067.5"/>
<line x1="969.8" y1="1088.5" x2="969.8" y2="1078.0"/>
<line x1="1036.0" y1="1088.5" x2="1036.0" y2="1067.5"/>
<line x1="1102.2" y1="1088.5" x2="1102.2" y2="1078.0"/>
<line x1="1168.5" y1="1088.5" x2="1168.5" y2="1067.5"/>
<line x1="1234.8" y1="1088.5" x2="1234.8" y2="1078.0"/>
<line x1="1301.0" y1="1088.5" x2="1301.0" y2="1067.5"/>
<line x1="1367.2" y1="1088.5" x2="1367.2" y2="1078.0"/>
<line x1="1433.5" y1="1088.5" x2="1433.5" y2="1067.5"/>
<line x1="1499.8" y1="1088.5" x2="1499.8" y2="1078.0"/>
</g>
<rect x="107.8" y="16.8" width="1458.2" height="1071.7" fill="none" stroke="#000" stroke-width="4.2"/>
<g font-size="45.13793103448286">
<text transform="translate(108.97 1142.18) scale(0.9399 1)" text-anchor="middle">800</text>
<text transform="translate(241.47 1142.18) scale(0.9399 1)" text-anchor="middle">1000</text>
<text transform="translate(373.98 1142.18) scale(0.9399 1)" text-anchor="middle">1200</text>
<text transform="translate(506.48 1142.18) scale(0.9399 1)" text-anchor="middle">1400</text>
<text transform="translate(638.98 1142.18) scale(0.9399 1)" text-anchor="middle">1600</text>
<text transform="translate(771.48 1142.18) scale(0.9399 1)" text-anchor="middle">1800</text>
<text transform="translate(903.98 1142.18) scale(0.9399 1)" text-anchor="middle">2000</text>
<text transform="translate(1036.47 1142.18) scale(0.9399 1)" text-anchor="middle">2200</text>
<text transform="translate(1168.97 1142.18) scale(0.9399 1)" text-anchor="middle">2400</text>
<text transform="translate(1301.47 1142.18) scale(0.9399 1)" text-anchor="middle">2600</text>
<text transform="translate(1433.97 1142.18) scale(0.9399 1)" text-anchor="middle">2800</text>
<text transform="translate(1566.47 1142.18) scale(0.9399 1)" text-anchor="middle">3000</text>
</g>
<g transform="translate(-2.71 12.25) scale(1.0047 0.9569)"><text x="128" y="300" font-size="53" font-family="Liberation Sans, Arial, sans-serif">LM3-PP2</text></g>
<g transform="translate(-3.12 19.77) scale(1.0079 0.9569)"><text x="125" y="446" font-size="53" font-family="Liberation Sans, Arial, sans-serif">LM2-PP2</text></g>
<g transform="translate(-2.52 27.09) scale(1.0009 0.9569)"><text x="123" y="626" font-size="53" font-family="Liberation Sans, Arial, sans-serif">LM1-PP2</text></g>
<g transform="translate(1.35 31.68) scale(0.9712 0.9569)"><text x="126" y="754.5" font-size="53" font-family="Liberation Sans, Arial, sans-serif">LM3-PP1</text></g>
<g transform="translate(1.03 37.25) scale(0.9763 0.9569)"><text x="128" y="887.5" font-size="53" font-family="Liberation Sans, Arial, sans-serif">LM2-PP1</text></g>
<g transform="translate(1.02 43.81) scale(0.9758 0.9569)"><text x="125" y="1027.5" font-size="53" font-family="Liberation Sans, Arial, sans-serif">LM1-PP1</text></g>
<g transform="translate(-11.29 -1.78) scale(1.0194 1.0155)"><text x="440" y="104.3" font-size="52" font-family="Liberation Sans, Arial, sans-serif">D</text></g>
<g transform="translate(-6.89 -2.26) scale(1.0114 1.0155)"><text x="601" y="145" font-size="52" font-family="Liberation Sans, Arial, sans-serif">G</text></g>
<g transform="translate(-35.19 -2.22) scale(1.0274 1.0155)"><text x="1296" y="201.2" font-size="52" font-family="Liberation Sans, Arial, sans-serif">2D</text></g>
<g transform="translate(-33.64 1.90) scale(1.0390 0.9930)"><text x="850" y="288.7" font-size="31.5" font-weight="bold" font-family="Liberation Sans, Arial, sans-serif">I<tspan font-size="35" dy="15">D</tspan><tspan font-weight="normal" dy="-15"> / </tspan>I<tspan font-size="35" dy="15">G</tspan><tspan dy="-15">= 1.28</tspan></text></g>
<g transform="translate(-37.43 4.67) scale(1.0429 0.9930)"><text x="848" y="435.2" font-size="31.5" font-weight="bold" font-family="Liberation Sans, Arial, sans-serif">I<tspan font-size="35" dy="15">D</tspan><tspan font-weight="normal" dy="-15"> / </tspan>I<tspan font-size="35" dy="15">G</tspan><tspan dy="-15">= 1.08</tspan></text></g>
<g transform="translate(-37.43 5.64) scale(1.0429 0.9930)"><text x="848" y="615.2" font-size="31.5" font-weight="bold" font-family="Liberation Sans, Arial, sans-serif">I<tspan font-size="35" dy="15">D</tspan><tspan font-weight="normal" dy="-15"> / </tspan>I<tspan font-size="35" dy="15">G</tspan><tspan dy="-15">= 1.38</tspan></text></g>
<g transform="translate(-33.64 6.44) scale(1.0390 0.9930)"><text x="850" y="730.2" font-size="31.5" font-weight="bold" font-family="Liberation Sans, Arial, sans-serif">I<tspan font-size="35" dy="15">D</tspan><tspan font-weight="normal" dy="-15"> / </tspan>I<tspan font-size="35" dy="15">G</tspan><tspan dy="-15">= 0.93</tspan></text></g>
<g transform="translate(-35.02 7.96) scale(1.0396 0.9930)"><text x="858" y="854" font-size="31.5" font-weight="bold" font-family="Liberation Sans, Arial, sans-serif">I<tspan font-size="35" dy="15">D</tspan><tspan font-weight="normal" dy="-15"> / </tspan>I<tspan font-size="35" dy="15">G</tspan><tspan dy="-15">= 0.92</tspan></text></g>
<g transform="translate(-34.76 9.17) scale(1.0390 0.9930)"><text x="866" y="1017.7" font-size="31.5" font-weight="bold" font-family="Liberation Sans, Arial, sans-serif">I<tspan font-size="35" dy="15">D</tspan><tspan font-weight="normal" dy="-15"> / </tspan>I<tspan font-size="35" dy="15">G</tspan><tspan dy="-15">= 0.88</tspan></text></g>
<g transform="translate(10.91 -29.46) scale(0.9754 1.0225)"><text x="560" y="1237.2" font-size="69" font-family="Liberation Sans, Arial, sans-serif">Raman Shift <tspan font-size="50">(</tspan>cm<tspan font-size="67" dy="-20">−</tspan><tspan font-size="67" dy="-4.2">1</tspan><tspan font-size="50" dy="24.2">)</tspan></text></g>
<g transform="translate(-1.24 14.63) scale(1.0177 0.9896)"><text font-size="66" font-family="Liberation Sans, Arial, sans-serif" transform="translate(67,837) rotate(-90)"><tspan letter-spacing="20">Intensit</tspan>y<tspan dx="2.5" letter-spacing="1.2"> (a.u.)</tspan></text></g>
</svg>
</body></html>
